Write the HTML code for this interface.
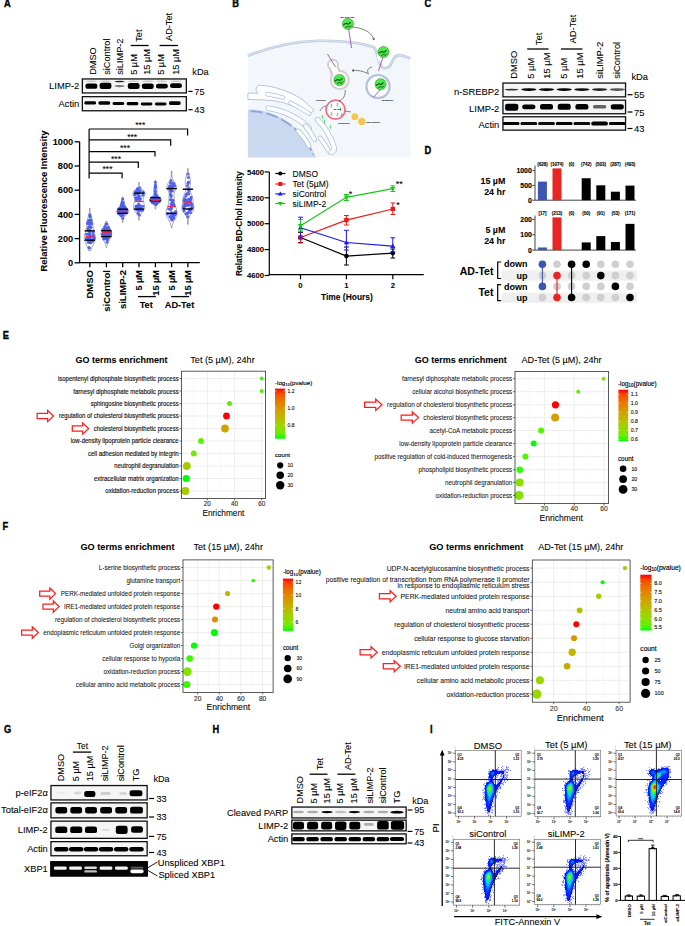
<!DOCTYPE html>
<html><head><meta charset="utf-8"><title>Figure</title>
<style>html,body{margin:0;padding:0;background:#fff;width:685px;height:926px;overflow:hidden}svg{display:block}text{font-family:"Liberation Sans",sans-serif}</style>
</head><body>
<svg width="685" height="926" viewBox="0 0 685 926" font-family='"Liberation Sans",sans-serif'><defs><filter id="bb" x="-50%" y="-80%" width="200%" height="260%"><feGaussianBlur stdDeviation="0.6"/></filter><filter id="b1" x="-50%" y="-80%" width="200%" height="260%"><feGaussianBlur stdDeviation="0.9"/></filter><filter id="b2" x="-50%" y="-80%" width="200%" height="260%"><feGaussianBlur stdDeviation="1.4"/></filter><filter id="b05" x="-50%" y="-80%" width="200%" height="260%"><feGaussianBlur stdDeviation="0.5"/></filter><filter id="b3" x="-50%" y="-50%" width="200%" height="200%"><feGaussianBlur stdDeviation="2.2"/></filter><clipPath id="cb1"><rect x="81.7" y="78.3" width="105.3" height="15.3"/></clipPath><clipPath id="cb2"><rect x="81.7" y="96" width="105.3" height="15.4"/></clipPath><clipPath id="cb3"><rect x="502.3" y="82.4" width="123.9" height="15.1"/></clipPath><clipPath id="cb4"><rect x="502.3" y="99.5" width="123.9" height="14.9"/></clipPath><clipPath id="cb5"><rect x="502.3" y="116.1" width="123.9" height="14.7"/></clipPath><linearGradient id="g1" x1="0" y1="0" x2="0" y2="1"><stop offset="0" stop-color="#ff0000"/><stop offset="0.1" stop-color="#f74a00"/><stop offset="0.2" stop-color="#ed6a00"/><stop offset="0.3" stop-color="#e38200"/><stop offset="0.4" stop-color="#d79800"/><stop offset="0.5" stop-color="#c9ab00"/><stop offset="0.6" stop-color="#b8bd00"/><stop offset="0.7" stop-color="#a4ce00"/><stop offset="0.8" stop-color="#8adf00"/><stop offset="0.9" stop-color="#65ef00"/><stop offset="1" stop-color="#00ff00"/></linearGradient><linearGradient id="g2" x1="0" y1="0" x2="0" y2="1"><stop offset="0" stop-color="#ff0000"/><stop offset="0.1" stop-color="#f74a00"/><stop offset="0.2" stop-color="#ed6a00"/><stop offset="0.3" stop-color="#e38200"/><stop offset="0.4" stop-color="#d79800"/><stop offset="0.5" stop-color="#c9ab00"/><stop offset="0.6" stop-color="#b8bd00"/><stop offset="0.7" stop-color="#a4ce00"/><stop offset="0.8" stop-color="#8adf00"/><stop offset="0.9" stop-color="#65ef00"/><stop offset="1" stop-color="#00ff00"/></linearGradient><linearGradient id="g3" x1="0" y1="0" x2="0" y2="1"><stop offset="0" stop-color="#ff0000"/><stop offset="0.1" stop-color="#f74a00"/><stop offset="0.2" stop-color="#ed6a00"/><stop offset="0.3" stop-color="#e38200"/><stop offset="0.4" stop-color="#d79800"/><stop offset="0.5" stop-color="#c9ab00"/><stop offset="0.6" stop-color="#b8bd00"/><stop offset="0.7" stop-color="#a4ce00"/><stop offset="0.8" stop-color="#8adf00"/><stop offset="0.9" stop-color="#65ef00"/><stop offset="1" stop-color="#00ff00"/></linearGradient><linearGradient id="g4" x1="0" y1="0" x2="0" y2="1"><stop offset="0" stop-color="#ff0000"/><stop offset="0.1" stop-color="#f74a00"/><stop offset="0.2" stop-color="#ed6a00"/><stop offset="0.3" stop-color="#e38200"/><stop offset="0.4" stop-color="#d79800"/><stop offset="0.5" stop-color="#c9ab00"/><stop offset="0.6" stop-color="#b8bd00"/><stop offset="0.7" stop-color="#a4ce00"/><stop offset="0.8" stop-color="#8adf00"/><stop offset="0.9" stop-color="#65ef00"/><stop offset="1" stop-color="#00ff00"/></linearGradient><clipPath id="cb6"><rect x="50.3" y="784.9" width="97.5" height="15.7"/></clipPath><clipPath id="cb7"><rect x="50.3" y="802.2" width="97.5" height="16.3"/></clipPath><clipPath id="cb8"><rect x="50.3" y="820.5" width="97.5" height="18.5"/></clipPath><clipPath id="cb9"><rect x="50.3" y="841" width="97.5" height="15.4"/></clipPath><clipPath id="cb10"><rect x="50.3" y="861.2" width="97.5" height="15.3"/></clipPath><clipPath id="cb11"><rect x="291.2" y="806.4" width="115.6" height="12.2"/></clipPath><clipPath id="cb12"><rect x="291.2" y="819.5" width="115.6" height="12"/></clipPath><clipPath id="cb13"><rect x="291.2" y="833.3" width="115.6" height="11.1"/></clipPath></defs><rect width="685" height="926" fill="#fff"/><text x="4.1" y="6.9" font-size="10.23" font-weight="bold" stroke="#000" stroke-width="0.35" textLength="6.72" lengthAdjust="spacingAndGlyphs">A</text>
<text x="232.2" y="7" font-size="10.23" font-weight="bold" stroke="#000" stroke-width="0.35" textLength="6.72" lengthAdjust="spacingAndGlyphs">B</text>
<text x="424.5" y="7.1" font-size="10.23" font-weight="bold" stroke="#000" stroke-width="0.35" textLength="6.72" lengthAdjust="spacingAndGlyphs">C</text>
<text x="424.6" y="154" font-size="10.23" font-weight="bold" stroke="#000" stroke-width="0.35" textLength="6.72" lengthAdjust="spacingAndGlyphs">D</text>
<text x="2.7" y="339.2" font-size="10.23" font-weight="bold" stroke="#000" stroke-width="0.35" textLength="6.2" lengthAdjust="spacingAndGlyphs">E</text>
<text x="2.6" y="529.9" font-size="10.23" font-weight="bold" stroke="#000" stroke-width="0.35" textLength="5.68" lengthAdjust="spacingAndGlyphs">F</text>
<text x="3.9" y="733.2" font-size="10.23" font-weight="bold" stroke="#000" stroke-width="0.35" textLength="7.23" lengthAdjust="spacingAndGlyphs">G</text>
<text x="212.5" y="732.9" font-size="10.23" font-weight="bold" stroke="#000" stroke-width="0.35" textLength="6.72" lengthAdjust="spacingAndGlyphs">H</text>
<text x="429.9" y="732.9" font-size="10.23" font-weight="bold" stroke="#000" stroke-width="0.35" textLength="2.58" lengthAdjust="spacingAndGlyphs">I</text>
<text transform="translate(96.29,74.8) rotate(-90)" font-size="9.2" stroke="#000" stroke-width="0.08">DMSO</text>
<text transform="translate(109.99,74.8) rotate(-90)" font-size="9.2" stroke="#000" stroke-width="0.08">siControl</text>
<text transform="translate(123.29,74.8) rotate(-90)" font-size="9.2" stroke="#000" stroke-width="0.08">siLIMP-2</text>
<text transform="translate(137.19,74.8) rotate(-90)" font-size="9.2" stroke="#000" stroke-width="0.08">5 µM</text>
<text transform="translate(150.29,74.8) rotate(-90)" font-size="9.2" stroke="#000" stroke-width="0.08">15 µM</text>
<text transform="translate(164.09,74.8) rotate(-90)" font-size="9.2" stroke="#000" stroke-width="0.08">5 µM</text>
<text transform="translate(178.79,74.8) rotate(-90)" font-size="9.2" stroke="#000" stroke-width="0.08">15 µM</text>
<line x1="130.7" y1="45.5" x2="148.6" y2="45.5" stroke="#000" stroke-width="1.3"/>
<line x1="159.6" y1="45.5" x2="178" y2="45.5" stroke="#000" stroke-width="1.3"/>
<text transform="translate(142.29,41.8) rotate(-90)" font-size="9.2" stroke="#000" stroke-width="0.08">Tet</text>
<text transform="translate(172.09,41) rotate(-90)" font-size="9.2" stroke="#000" stroke-width="0.08">AD-Tet</text>
<text x="192.3" y="74.79" font-size="9.2" stroke="#000" stroke-width="0.08">kDa</text>
<rect x="81.7" y="78.3" width="105.3" height="15.3" fill="#f5f5f5"/>
<g clip-path="url(#cb1)"><g filter="url(#bb)">
<rect x="85.5" y="83.4" width="11.8" height="5.4" rx="2.4" ry="1.9" fill="#000" fill-opacity="1"/>
<ellipse cx="91.4" cy="81.2" rx="5.6" ry="0.69" fill="#000" fill-opacity="0.18"/>
<rect x="99.6" y="82.8" width="11.8" height="6.2" rx="2.4" ry="1.9" fill="#000" fill-opacity="1"/>
<ellipse cx="105.5" cy="81.2" rx="5.6" ry="0.69" fill="#000" fill-opacity="0.18"/>
<ellipse cx="119.6" cy="86.1" rx="4.93" ry="1.15" fill="#000" fill-opacity="0.5"/>
<ellipse cx="119.6" cy="81.5" rx="4.93" ry="0.69" fill="#000" fill-opacity="0.85"/>
<rect x="127.8" y="83.1" width="11.8" height="5.8" rx="2.4" ry="1.9" fill="#000" fill-opacity="1"/>
<ellipse cx="133.7" cy="81.2" rx="5.6" ry="0.69" fill="#000" fill-opacity="0.18"/>
<rect x="141.9" y="83.4" width="11.8" height="5.6" rx="2.4" ry="1.9" fill="#000" fill-opacity="1"/>
<ellipse cx="147.8" cy="81.2" rx="5.6" ry="0.69" fill="#000" fill-opacity="0.18"/>
<rect x="156" y="83.7" width="11.8" height="4.8" rx="2.4" ry="1.82" fill="#000" fill-opacity="1"/>
<ellipse cx="161.9" cy="81.2" rx="5.6" ry="0.69" fill="#000" fill-opacity="0.18"/>
<rect x="170.1" y="83.2" width="11.8" height="4.8" rx="2.4" ry="1.82" fill="#000" fill-opacity="1"/>
<ellipse cx="176" cy="81.2" rx="5.6" ry="0.69" fill="#000" fill-opacity="0.18"/>
</g></g>
<rect x="82.35" y="78.95" width="104" height="14" fill="none" stroke="#111" stroke-width="1.3"/>
<rect x="81.7" y="96" width="105.3" height="15.4" fill="#f5f5f5"/>
<g clip-path="url(#cb2)"><g filter="url(#bb)">
<rect x="84.4" y="101.35" width="11.6" height="3.1" rx="1.62" ry="1.18" fill="#000" fill-opacity="1"/>
<rect x="98.5" y="101.35" width="11.6" height="3.3" rx="1.72" ry="1.25" fill="#000" fill-opacity="1"/>
<rect x="112.6" y="101.95" width="11.6" height="3.1" rx="1.62" ry="1.18" fill="#000" fill-opacity="1"/>
<rect x="126.7" y="102.05" width="11.6" height="3.1" rx="1.62" ry="1.18" fill="#000" fill-opacity="1"/>
<rect x="140.8" y="102.55" width="11.6" height="2.9" rx="1.52" ry="1.1" fill="#000" fill-opacity="1"/>
<rect x="154.9" y="102.55" width="11.6" height="2.9" rx="1.52" ry="1.1" fill="#000" fill-opacity="1"/>
<rect x="169" y="101.3" width="11.6" height="3.8" rx="1.99" ry="1.44" fill="#000" fill-opacity="1"/>
</g></g>
<rect x="82.35" y="96.65" width="104" height="14.1" fill="none" stroke="#111" stroke-width="1.3"/>
<text x="79.3" y="89.37" font-size="9.4" text-anchor="end" stroke="#000" stroke-width="0.08">LIMP-2</text>
<text x="79.3" y="107.17" font-size="9.4" text-anchor="end" stroke="#000" stroke-width="0.08">Actin</text>
<line x1="188.4" y1="91.4" x2="192.6" y2="91.4" stroke="#000" stroke-width="1.2"/>
<text x="194.3" y="94.89" font-size="9.2" stroke="#000" stroke-width="0.08">75</text>
<line x1="188.4" y1="109.7" x2="192.6" y2="109.7" stroke="#000" stroke-width="1.2"/>
<text x="194.3" y="113.19" font-size="9.2" stroke="#000" stroke-width="0.08">43</text>
<line x1="79.6" y1="141.8" x2="79.6" y2="262.8" stroke="#000" stroke-width="1.3"/>
<line x1="79.2" y1="262.6" x2="199.8" y2="262.6" stroke="#000" stroke-width="1.3"/>
<line x1="74.6" y1="262.8" x2="79.6" y2="262.8" stroke="#000" stroke-width="1.3"/>
<text x="73.2" y="266.09" font-size="9.2" font-weight="bold" text-anchor="end" stroke="#000" stroke-width="0.06">0</text>
<line x1="74.6" y1="238.6" x2="79.6" y2="238.6" stroke="#000" stroke-width="1.3"/>
<text x="73.2" y="241.89" font-size="9.2" font-weight="bold" text-anchor="end" stroke="#000" stroke-width="0.06">200</text>
<line x1="74.6" y1="214.4" x2="79.6" y2="214.4" stroke="#000" stroke-width="1.3"/>
<text x="73.2" y="217.69" font-size="9.2" font-weight="bold" text-anchor="end" stroke="#000" stroke-width="0.06">400</text>
<line x1="74.6" y1="190.2" x2="79.6" y2="190.2" stroke="#000" stroke-width="1.3"/>
<text x="73.2" y="193.49" font-size="9.2" font-weight="bold" text-anchor="end" stroke="#000" stroke-width="0.06">600</text>
<line x1="74.6" y1="166" x2="79.6" y2="166" stroke="#000" stroke-width="1.3"/>
<text x="73.2" y="169.29" font-size="9.2" font-weight="bold" text-anchor="end" stroke="#000" stroke-width="0.06">800</text>
<line x1="74.6" y1="141.8" x2="79.6" y2="141.8" stroke="#000" stroke-width="1.3"/>
<text x="73.2" y="145.09" font-size="9.2" font-weight="bold" text-anchor="end" stroke="#000" stroke-width="0.06">1000</text>
<text transform="translate(47.28,271.5) rotate(-90)" font-size="9.45" font-weight="bold" stroke="#000" stroke-width="0.06">Relative Fluorescence Intensity</text>
<line x1="89.8" y1="262.6" x2="89.8" y2="267.2" stroke="#000" stroke-width="1.3"/>
<line x1="106.4" y1="262.6" x2="106.4" y2="267.2" stroke="#000" stroke-width="1.3"/>
<line x1="122.7" y1="262.6" x2="122.7" y2="267.2" stroke="#000" stroke-width="1.3"/>
<line x1="139" y1="262.6" x2="139" y2="267.2" stroke="#000" stroke-width="1.3"/>
<line x1="155.4" y1="262.6" x2="155.4" y2="267.2" stroke="#000" stroke-width="1.3"/>
<line x1="171.6" y1="262.6" x2="171.6" y2="267.2" stroke="#000" stroke-width="1.3"/>
<line x1="187.9" y1="262.6" x2="187.9" y2="267.2" stroke="#000" stroke-width="1.3"/>
<line x1="89.1" y1="129" x2="89.1" y2="178.6" stroke="#000" stroke-width="1.2"/>
<polyline points="89.1,173.1 122.1,173.1 122.1,178.3" fill="none" stroke="#000" stroke-width="1.2"/>
<text x="107.5" y="171.9" font-size="8.6" text-anchor="middle" stroke="#000" stroke-width="0.08">***</text>
<polyline points="89.1,162.1 138.3,162.1 138.3,167.9" fill="none" stroke="#000" stroke-width="1.2"/>
<text x="116" y="162.1" font-size="8.6" text-anchor="middle" stroke="#000" stroke-width="0.08">***</text>
<polyline points="89.1,151.6 155,151.6 155,156.5" fill="none" stroke="#000" stroke-width="1.2"/>
<text x="125" y="151.1" font-size="8.6" text-anchor="middle" stroke="#000" stroke-width="0.08">***</text>
<polyline points="89.1,139.9 170.7,139.9 170.7,145.7" fill="none" stroke="#000" stroke-width="1.2"/>
<text x="132.2" y="139.5" font-size="8.6" text-anchor="middle" stroke="#000" stroke-width="0.08">***</text>
<polyline points="89.1,129 187.6,129 187.6,135.6" fill="none" stroke="#000" stroke-width="1.2"/>
<text x="140.3" y="128.4" font-size="8.6" text-anchor="middle" stroke="#000" stroke-width="0.08">***</text>
<polygon points="90.15,208.2 90.15,208.91 90.15,209.61 90.15,210.32 90.15,211.03 90.15,211.73 90.23,212.44 90.35,213.15 90.5,213.85 90.68,214.56 90.88,215.27 91.1,215.97 91.33,216.68 91.57,217.39 91.81,218.09 92.05,218.8 92.27,219.51 92.46,220.21 92.63,220.92 92.76,221.63 92.85,222.33 92.92,223.04 92.95,223.75 92.97,224.45 92.97,225.16 92.97,225.87 92.99,226.57 93.02,227.28 93.08,227.99 93.18,228.69 93.3,229.4 93.46,230.11 93.66,230.81 93.87,231.52 94.11,232.23 94.35,232.93 94.59,233.64 94.81,234.35 95.01,235.05 95.18,235.76 95.31,236.47 95.39,237.17 95.42,237.88 95.39,238.59 95.31,239.29 95.18,240 95,240.71 94.77,241.41 94.51,242.12 94.22,242.83 93.9,243.53 93.56,244.24 93.22,244.95 92.88,245.65 92.54,246.36 92.22,247.07 91.91,247.77 91.63,248.48 91.36,249.19 91.12,249.89 90.91,250.6 88.69,250.6 88.48,249.89 88.24,249.19 87.97,248.48 87.69,247.77 87.38,247.07 87.06,246.36 86.72,245.65 86.38,244.95 86.04,244.24 85.7,243.53 85.38,242.83 85.09,242.12 84.83,241.41 84.6,240.71 84.42,240 84.29,239.29 84.21,238.59 84.18,237.88 84.21,237.17 84.29,236.47 84.42,235.76 84.59,235.05 84.79,234.35 85.01,233.64 85.25,232.93 85.49,232.23 85.73,231.52 85.94,230.81 86.14,230.11 86.3,229.4 86.42,228.69 86.52,227.99 86.58,227.28 86.61,226.57 86.63,225.87 86.63,225.16 86.63,224.45 86.65,223.75 86.68,223.04 86.75,222.33 86.84,221.63 86.97,220.92 87.14,220.21 87.33,219.51 87.55,218.8 87.79,218.09 88.03,217.39 88.27,216.68 88.5,215.97 88.72,215.27 88.92,214.56 89.1,213.85 89.25,213.15 89.37,212.44 89.45,211.73 89.45,211.03 89.45,210.32 89.45,209.61 89.45,208.91 89.45,208.2" fill="#fff" stroke="#555" stroke-width="0.5"/>
<circle cx="90.39" cy="222.46" r="1.5" fill="#4c5ef2" fill-opacity="0.92"/>
<circle cx="89.83" cy="224.11" r="1.5" fill="#4c5ef2" fill-opacity="0.92"/>
<circle cx="92.92" cy="232.44" r="1.5" fill="#4c5ef2" fill-opacity="0.92"/>
<circle cx="88.45" cy="221.11" r="1.5" fill="#4c5ef2" fill-opacity="0.92"/>
<circle cx="90.19" cy="234.87" r="1.5" fill="#4c5ef2" fill-opacity="0.92"/>
<circle cx="90.16" cy="226.55" r="1.5" fill="#4c5ef2" fill-opacity="0.92"/>
<circle cx="91.06" cy="227.56" r="1.5" fill="#4c5ef2" fill-opacity="0.92"/>
<circle cx="90.47" cy="237.24" r="1.5" fill="#4c5ef2" fill-opacity="0.92"/>
<circle cx="94.12" cy="238.44" r="1.5" fill="#4c5ef2" fill-opacity="0.92"/>
<circle cx="89.7" cy="239.53" r="1.5" fill="#4c5ef2" fill-opacity="0.92"/>
<circle cx="93.04" cy="239.82" r="1.5" fill="#4c5ef2" fill-opacity="0.92"/>
<circle cx="89.49" cy="233.12" r="1.5" fill="#4c5ef2" fill-opacity="0.92"/>
<circle cx="88.97" cy="242.08" r="1.5" fill="#4c5ef2" fill-opacity="0.92"/>
<circle cx="89.47" cy="236.04" r="1.5" fill="#4c5ef2" fill-opacity="0.92"/>
<circle cx="89.05" cy="247.43" r="1.5" fill="#4c5ef2" fill-opacity="0.92"/>
<circle cx="89.55" cy="220.05" r="1.5" fill="#4c5ef2" fill-opacity="0.92"/>
<circle cx="93.31" cy="236.34" r="1.5" fill="#4c5ef2" fill-opacity="0.92"/>
<circle cx="92.29" cy="240.43" r="1.5" fill="#4c5ef2" fill-opacity="0.92"/>
<circle cx="87.78" cy="223.1" r="1.5" fill="#4c5ef2" fill-opacity="0.92"/>
<circle cx="91.34" cy="224.03" r="1.5" fill="#4c5ef2" fill-opacity="0.92"/>
<circle cx="87.93" cy="233.89" r="1.5" fill="#4c5ef2" fill-opacity="0.92"/>
<circle cx="87.98" cy="228.76" r="1.5" fill="#4c5ef2" fill-opacity="0.92"/>
<circle cx="91.13" cy="223.2" r="1.5" fill="#4c5ef2" fill-opacity="0.92"/>
<circle cx="90" cy="216.06" r="1.5" fill="#4c5ef2" fill-opacity="0.92"/>
<circle cx="90.03" cy="230.51" r="1.5" fill="#4c5ef2" fill-opacity="0.92"/>
<circle cx="88.6" cy="237.13" r="1.5" fill="#4c5ef2" fill-opacity="0.92"/>
<circle cx="91.04" cy="222.69" r="1.5" fill="#4c5ef2" fill-opacity="0.92"/>
<circle cx="89.96" cy="238.85" r="1.5" fill="#4c5ef2" fill-opacity="0.92"/>
<circle cx="87.87" cy="223.71" r="1.5" fill="#4c5ef2" fill-opacity="0.92"/>
<circle cx="90.45" cy="220.71" r="1.5" fill="#4c5ef2" fill-opacity="0.92"/>
<circle cx="90.82" cy="242.81" r="1.5" fill="#4c5ef2" fill-opacity="0.92"/>
<circle cx="91.07" cy="241.21" r="1.5" fill="#4c5ef2" fill-opacity="0.92"/>
<circle cx="86.96" cy="239.26" r="1.5" fill="#4c5ef2" fill-opacity="0.92"/>
<circle cx="92.25" cy="240.79" r="1.5" fill="#4c5ef2" fill-opacity="0.92"/>
<circle cx="86.44" cy="238.26" r="1.5" fill="#4c5ef2" fill-opacity="0.92"/>
<circle cx="92.32" cy="241.48" r="1.5" fill="#4c5ef2" fill-opacity="0.92"/>
<circle cx="89.8" cy="214.86" r="1.5" fill="#4c5ef2" fill-opacity="0.92"/>
<circle cx="93.42" cy="235.3" r="1.5" fill="#4c5ef2" fill-opacity="0.92"/>
<circle cx="88.03" cy="242.25" r="1.5" fill="#4c5ef2" fill-opacity="0.92"/>
<circle cx="90.11" cy="221.24" r="1.5" fill="#4c5ef2" fill-opacity="0.92"/>
<circle cx="89.49" cy="230.33" r="1.5" fill="#4c5ef2" fill-opacity="0.92"/>
<circle cx="90.11" cy="216.91" r="1.5" fill="#4c5ef2" fill-opacity="0.92"/>
<circle cx="88.23" cy="238.27" r="1.5" fill="#4c5ef2" fill-opacity="0.92"/>
<circle cx="90.3" cy="240.6" r="1.5" fill="#4c5ef2" fill-opacity="0.92"/>
<circle cx="90.32" cy="240.13" r="1.5" fill="#4c5ef2" fill-opacity="0.92"/>
<circle cx="89.31" cy="239.64" r="1.5" fill="#4c5ef2" fill-opacity="0.92"/>
<circle cx="89.89" cy="233.83" r="1.5" fill="#4c5ef2" fill-opacity="0.92"/>
<circle cx="90.1" cy="236.99" r="1.5" fill="#4c5ef2" fill-opacity="0.92"/>
<circle cx="93.77" cy="237.25" r="1.5" fill="#4c5ef2" fill-opacity="0.92"/>
<circle cx="88.7" cy="227.12" r="1.5" fill="#4c5ef2" fill-opacity="0.92"/>
<circle cx="93.07" cy="235.71" r="1.5" fill="#4c5ef2" fill-opacity="0.92"/>
<circle cx="89.33" cy="242.5" r="1.5" fill="#4c5ef2" fill-opacity="0.92"/>
<circle cx="88.25" cy="230.01" r="1.5" fill="#4c5ef2" fill-opacity="0.92"/>
<circle cx="89.09" cy="227.05" r="1.5" fill="#4c5ef2" fill-opacity="0.92"/>
<circle cx="86.41" cy="234.28" r="1.5" fill="#4c5ef2" fill-opacity="0.92"/>
<circle cx="89.37" cy="247.98" r="1.5" fill="#4c5ef2" fill-opacity="0.92"/>
<circle cx="89.55" cy="220.36" r="1.5" fill="#4c5ef2" fill-opacity="0.92"/>
<circle cx="91.04" cy="219.89" r="1.5" fill="#4c5ef2" fill-opacity="0.92"/>
<line x1="84.6" y1="230.9" x2="95" y2="230.9" stroke="#000" stroke-width="1.4"/>
<line x1="84.6" y1="240.2" x2="95" y2="240.2" stroke="#000" stroke-width="1.4"/>
<line x1="85.6" y1="236.6" x2="94" y2="236.6" stroke="#e8285a" stroke-width="1.4"/>
<polygon points="107.12,221.5 107.23,221.93 107.35,222.37 107.48,222.8 107.63,223.23 107.78,223.67 107.95,224.1 108.14,224.53 108.33,224.97 108.53,225.4 108.74,225.83 108.96,226.27 109.19,226.7 109.42,227.13 109.65,227.57 109.88,228 110.11,228.43 110.33,228.87 110.55,229.3 110.75,229.73 110.94,230.17 111.12,230.6 111.27,231.03 111.4,231.47 111.51,231.9 111.6,232.33 111.66,232.77 111.69,233.2 111.7,233.63 111.68,234.07 111.63,234.5 111.55,234.93 111.45,235.37 111.32,235.8 111.18,236.23 111.01,236.67 110.83,237.1 110.63,237.53 110.42,237.97 110.2,238.4 109.97,238.83 109.74,239.27 109.51,239.7 109.28,240.13 109.05,240.57 108.83,241 108.61,241.43 108.4,241.87 108.21,242.3 108.02,242.73 107.85,243.17 107.69,243.6 107.54,244.03 107.4,244.47 107.27,244.9 107.16,245.33 107.06,245.77 106.96,246.2 106.88,246.63 106.81,247.07 106.75,247.5 106.05,247.5 105.99,247.07 105.92,246.63 105.84,246.2 105.74,245.77 105.64,245.33 105.53,244.9 105.4,244.47 105.26,244.03 105.11,243.6 104.95,243.17 104.78,242.73 104.59,242.3 104.4,241.87 104.19,241.43 103.97,241 103.75,240.57 103.52,240.13 103.29,239.7 103.06,239.27 102.83,238.83 102.6,238.4 102.38,237.97 102.17,237.53 101.97,237.1 101.79,236.67 101.62,236.23 101.48,235.8 101.35,235.37 101.25,234.93 101.17,234.5 101.12,234.07 101.1,233.63 101.11,233.2 101.14,232.77 101.2,232.33 101.29,231.9 101.4,231.47 101.53,231.03 101.68,230.6 101.86,230.17 102.05,229.73 102.25,229.3 102.47,228.87 102.69,228.43 102.92,228 103.15,227.57 103.38,227.13 103.61,226.7 103.84,226.27 104.06,225.83 104.27,225.4 104.47,224.97 104.66,224.53 104.85,224.1 105.02,223.67 105.17,223.23 105.32,222.8 105.45,222.37 105.57,221.93 105.68,221.5" fill="#fff" stroke="#555" stroke-width="0.5"/>
<circle cx="103.35" cy="236.12" r="1.5" fill="#4c5ef2" fill-opacity="0.92"/>
<circle cx="110.05" cy="232.78" r="1.5" fill="#4c5ef2" fill-opacity="0.92"/>
<circle cx="106.85" cy="233.44" r="1.5" fill="#4c5ef2" fill-opacity="0.92"/>
<circle cx="104.61" cy="228.48" r="1.5" fill="#4c5ef2" fill-opacity="0.92"/>
<circle cx="108.19" cy="230.18" r="1.5" fill="#4c5ef2" fill-opacity="0.92"/>
<circle cx="104.32" cy="229.67" r="1.5" fill="#4c5ef2" fill-opacity="0.92"/>
<circle cx="104.53" cy="230.98" r="1.5" fill="#4c5ef2" fill-opacity="0.92"/>
<circle cx="106.2" cy="235.67" r="1.5" fill="#4c5ef2" fill-opacity="0.92"/>
<circle cx="105.51" cy="234.39" r="1.5" fill="#4c5ef2" fill-opacity="0.92"/>
<circle cx="110.36" cy="234.65" r="1.5" fill="#4c5ef2" fill-opacity="0.92"/>
<circle cx="107.94" cy="230.88" r="1.5" fill="#4c5ef2" fill-opacity="0.92"/>
<circle cx="105.46" cy="237.63" r="1.5" fill="#4c5ef2" fill-opacity="0.92"/>
<circle cx="104.04" cy="228.88" r="1.5" fill="#4c5ef2" fill-opacity="0.92"/>
<circle cx="105.02" cy="238.42" r="1.5" fill="#4c5ef2" fill-opacity="0.92"/>
<circle cx="104.17" cy="229.74" r="1.5" fill="#4c5ef2" fill-opacity="0.92"/>
<circle cx="110.27" cy="233.25" r="1.5" fill="#4c5ef2" fill-opacity="0.92"/>
<circle cx="102.99" cy="230.12" r="1.5" fill="#4c5ef2" fill-opacity="0.92"/>
<circle cx="106.42" cy="231.78" r="1.5" fill="#4c5ef2" fill-opacity="0.92"/>
<circle cx="106.24" cy="223.96" r="1.5" fill="#4c5ef2" fill-opacity="0.92"/>
<circle cx="107.66" cy="235.17" r="1.5" fill="#4c5ef2" fill-opacity="0.92"/>
<circle cx="110.3" cy="231.96" r="1.5" fill="#4c5ef2" fill-opacity="0.92"/>
<circle cx="108.41" cy="237.79" r="1.5" fill="#4c5ef2" fill-opacity="0.92"/>
<circle cx="108.91" cy="234.6" r="1.5" fill="#4c5ef2" fill-opacity="0.92"/>
<circle cx="104.14" cy="238.95" r="1.5" fill="#4c5ef2" fill-opacity="0.92"/>
<circle cx="107.36" cy="235.85" r="1.5" fill="#4c5ef2" fill-opacity="0.92"/>
<circle cx="103.85" cy="238.66" r="1.5" fill="#4c5ef2" fill-opacity="0.92"/>
<circle cx="107.71" cy="234.57" r="1.5" fill="#4c5ef2" fill-opacity="0.92"/>
<circle cx="105.09" cy="228.8" r="1.5" fill="#4c5ef2" fill-opacity="0.92"/>
<circle cx="107.34" cy="239.77" r="1.5" fill="#4c5ef2" fill-opacity="0.92"/>
<circle cx="107.87" cy="231.8" r="1.5" fill="#4c5ef2" fill-opacity="0.92"/>
<circle cx="104.28" cy="237.78" r="1.5" fill="#4c5ef2" fill-opacity="0.92"/>
<circle cx="103.11" cy="230" r="1.5" fill="#4c5ef2" fill-opacity="0.92"/>
<circle cx="106.49" cy="238.54" r="1.5" fill="#4c5ef2" fill-opacity="0.92"/>
<circle cx="103.2" cy="233.69" r="1.5" fill="#4c5ef2" fill-opacity="0.92"/>
<circle cx="103.96" cy="233.34" r="1.5" fill="#4c5ef2" fill-opacity="0.92"/>
<circle cx="106.57" cy="236.37" r="1.5" fill="#4c5ef2" fill-opacity="0.92"/>
<circle cx="102.26" cy="234.18" r="1.5" fill="#4c5ef2" fill-opacity="0.92"/>
<circle cx="104.76" cy="234.31" r="1.5" fill="#4c5ef2" fill-opacity="0.92"/>
<circle cx="107" cy="242.3" r="1.5" fill="#4c5ef2" fill-opacity="0.92"/>
<circle cx="105.71" cy="229.67" r="1.5" fill="#4c5ef2" fill-opacity="0.92"/>
<circle cx="104.67" cy="231.3" r="1.5" fill="#4c5ef2" fill-opacity="0.92"/>
<circle cx="106.71" cy="224.11" r="1.5" fill="#4c5ef2" fill-opacity="0.92"/>
<circle cx="106.46" cy="228.73" r="1.5" fill="#4c5ef2" fill-opacity="0.92"/>
<circle cx="108.26" cy="227.37" r="1.5" fill="#4c5ef2" fill-opacity="0.92"/>
<circle cx="107.37" cy="239.55" r="1.5" fill="#4c5ef2" fill-opacity="0.92"/>
<circle cx="107.61" cy="233.37" r="1.5" fill="#4c5ef2" fill-opacity="0.92"/>
<circle cx="109.12" cy="229.58" r="1.5" fill="#4c5ef2" fill-opacity="0.92"/>
<circle cx="108.18" cy="230.9" r="1.5" fill="#4c5ef2" fill-opacity="0.92"/>
<circle cx="106.73" cy="238.09" r="1.5" fill="#4c5ef2" fill-opacity="0.92"/>
<circle cx="103.66" cy="232.07" r="1.5" fill="#4c5ef2" fill-opacity="0.92"/>
<circle cx="109.76" cy="234.43" r="1.5" fill="#4c5ef2" fill-opacity="0.92"/>
<circle cx="105.23" cy="226.21" r="1.5" fill="#4c5ef2" fill-opacity="0.92"/>
<circle cx="104.46" cy="230.86" r="1.5" fill="#4c5ef2" fill-opacity="0.92"/>
<circle cx="108.62" cy="228.94" r="1.5" fill="#4c5ef2" fill-opacity="0.92"/>
<circle cx="105.38" cy="232.52" r="1.5" fill="#4c5ef2" fill-opacity="0.92"/>
<circle cx="104.76" cy="230.78" r="1.5" fill="#4c5ef2" fill-opacity="0.92"/>
<circle cx="109.39" cy="234.58" r="1.5" fill="#4c5ef2" fill-opacity="0.92"/>
<circle cx="105.21" cy="227.97" r="1.5" fill="#4c5ef2" fill-opacity="0.92"/>
<line x1="101.2" y1="230.7" x2="111.6" y2="230.7" stroke="#000" stroke-width="1.4"/>
<line x1="101.2" y1="236.6" x2="111.6" y2="236.6" stroke="#000" stroke-width="1.4"/>
<line x1="102.2" y1="232.4" x2="110.6" y2="232.4" stroke="#e8285a" stroke-width="1.4"/>
<polygon points="123.09,197 123.17,197.43 123.25,197.85 123.35,198.28 123.45,198.7 123.56,199.12 123.67,199.55 123.79,199.97 123.91,200.4 124.03,200.82 124.15,201.25 124.26,201.68 124.37,202.1 124.47,202.53 124.57,202.95 124.66,203.38 124.75,203.8 124.85,204.22 124.95,204.65 125.07,205.07 125.21,205.5 125.38,205.93 125.57,206.35 125.81,206.78 126.07,207.2 126.37,207.62 126.7,208.05 127.04,208.47 127.4,208.9 127.74,209.32 128.06,209.75 128.35,210.18 128.57,210.6 128.7,211.03 128.7,211.45 128.7,211.88 128.64,212.3 128.43,212.72 128.14,213.15 127.78,213.57 127.36,214 126.9,214.43 126.43,214.85 125.95,215.28 125.48,215.7 125.05,216.12 124.64,216.55 124.28,216.97 123.96,217.4 123.69,217.82 123.46,218.25 123.28,218.68 123.13,219.1 123.05,219.53 123.05,219.95 123.05,220.38 123.05,220.8 123.05,221.22 123.05,221.65 123.05,222.07 123.05,222.5 122.35,222.5 122.35,222.07 122.35,221.65 122.35,221.22 122.35,220.8 122.35,220.38 122.35,219.95 122.35,219.53 122.27,219.1 122.12,218.68 121.94,218.25 121.71,217.82 121.44,217.4 121.12,216.97 120.76,216.55 120.35,216.12 119.92,215.7 119.45,215.28 118.97,214.85 118.5,214.43 118.04,214 117.62,213.57 117.26,213.15 116.97,212.72 116.76,212.3 116.7,211.88 116.7,211.45 116.7,211.03 116.83,210.6 117.05,210.18 117.34,209.75 117.66,209.32 118,208.9 118.36,208.47 118.7,208.05 119.03,207.62 119.33,207.2 119.59,206.78 119.83,206.35 120.02,205.93 120.19,205.5 120.33,205.07 120.45,204.65 120.55,204.22 120.65,203.8 120.74,203.38 120.83,202.95 120.93,202.53 121.03,202.1 121.14,201.68 121.25,201.25 121.37,200.82 121.49,200.4 121.61,199.97 121.73,199.55 121.84,199.12 121.95,198.7 122.05,198.28 122.15,197.85 122.23,197.43 122.31,197" fill="#fff" stroke="#555" stroke-width="0.5"/>
<circle cx="122.7" cy="218.14" r="1.5" fill="#4c5ef2" fill-opacity="0.92"/>
<circle cx="118.9" cy="209.15" r="1.5" fill="#4c5ef2" fill-opacity="0.92"/>
<circle cx="126.75" cy="210.25" r="1.5" fill="#4c5ef2" fill-opacity="0.92"/>
<circle cx="125.46" cy="210.91" r="1.5" fill="#4c5ef2" fill-opacity="0.92"/>
<circle cx="119.4" cy="213.02" r="1.5" fill="#4c5ef2" fill-opacity="0.92"/>
<circle cx="119.84" cy="214.22" r="1.5" fill="#4c5ef2" fill-opacity="0.92"/>
<circle cx="121.67" cy="210.3" r="1.5" fill="#4c5ef2" fill-opacity="0.92"/>
<circle cx="120.76" cy="209.19" r="1.5" fill="#4c5ef2" fill-opacity="0.92"/>
<circle cx="122.7" cy="205.42" r="1.5" fill="#4c5ef2" fill-opacity="0.92"/>
<circle cx="120.82" cy="213.68" r="1.5" fill="#4c5ef2" fill-opacity="0.92"/>
<circle cx="122.41" cy="203.6" r="1.5" fill="#4c5ef2" fill-opacity="0.92"/>
<circle cx="124.95" cy="207.35" r="1.5" fill="#4c5ef2" fill-opacity="0.92"/>
<circle cx="122.29" cy="201.69" r="1.5" fill="#4c5ef2" fill-opacity="0.92"/>
<circle cx="124.07" cy="205.91" r="1.5" fill="#4c5ef2" fill-opacity="0.92"/>
<circle cx="123.4" cy="215.29" r="1.5" fill="#4c5ef2" fill-opacity="0.92"/>
<circle cx="121.11" cy="205.96" r="1.5" fill="#4c5ef2" fill-opacity="0.92"/>
<circle cx="121.18" cy="215.75" r="1.5" fill="#4c5ef2" fill-opacity="0.92"/>
<circle cx="124.78" cy="212.38" r="1.5" fill="#4c5ef2" fill-opacity="0.92"/>
<circle cx="122.38" cy="207.2" r="1.5" fill="#4c5ef2" fill-opacity="0.92"/>
<circle cx="120.99" cy="215.44" r="1.5" fill="#4c5ef2" fill-opacity="0.92"/>
<circle cx="121.81" cy="204.46" r="1.5" fill="#4c5ef2" fill-opacity="0.92"/>
<circle cx="122.25" cy="209.72" r="1.5" fill="#4c5ef2" fill-opacity="0.92"/>
<circle cx="125.07" cy="212.46" r="1.5" fill="#4c5ef2" fill-opacity="0.92"/>
<circle cx="121.9" cy="205.11" r="1.5" fill="#4c5ef2" fill-opacity="0.92"/>
<circle cx="119.93" cy="211.91" r="1.5" fill="#4c5ef2" fill-opacity="0.92"/>
<circle cx="121.51" cy="206.8" r="1.5" fill="#4c5ef2" fill-opacity="0.92"/>
<circle cx="118.47" cy="213.16" r="1.5" fill="#4c5ef2" fill-opacity="0.92"/>
<circle cx="118.83" cy="210.83" r="1.5" fill="#4c5ef2" fill-opacity="0.92"/>
<circle cx="119.65" cy="212.88" r="1.5" fill="#4c5ef2" fill-opacity="0.92"/>
<circle cx="121.22" cy="214.15" r="1.5" fill="#4c5ef2" fill-opacity="0.92"/>
<circle cx="123.59" cy="206.69" r="1.5" fill="#4c5ef2" fill-opacity="0.92"/>
<circle cx="123.34" cy="203.08" r="1.5" fill="#4c5ef2" fill-opacity="0.92"/>
<circle cx="119.23" cy="208.87" r="1.5" fill="#4c5ef2" fill-opacity="0.92"/>
<circle cx="126.7" cy="210.91" r="1.5" fill="#4c5ef2" fill-opacity="0.92"/>
<circle cx="126.09" cy="209.36" r="1.5" fill="#4c5ef2" fill-opacity="0.92"/>
<circle cx="119.46" cy="212.46" r="1.5" fill="#4c5ef2" fill-opacity="0.92"/>
<circle cx="119.28" cy="210.15" r="1.5" fill="#4c5ef2" fill-opacity="0.92"/>
<circle cx="118.17" cy="211.15" r="1.5" fill="#4c5ef2" fill-opacity="0.92"/>
<circle cx="123.95" cy="211.99" r="1.5" fill="#4c5ef2" fill-opacity="0.92"/>
<circle cx="124.26" cy="211.61" r="1.5" fill="#4c5ef2" fill-opacity="0.92"/>
<circle cx="119.55" cy="208.55" r="1.5" fill="#4c5ef2" fill-opacity="0.92"/>
<circle cx="120.17" cy="212.43" r="1.5" fill="#4c5ef2" fill-opacity="0.92"/>
<circle cx="122.51" cy="208.81" r="1.5" fill="#4c5ef2" fill-opacity="0.92"/>
<circle cx="122.35" cy="208.19" r="1.5" fill="#4c5ef2" fill-opacity="0.92"/>
<circle cx="123.91" cy="209.98" r="1.5" fill="#4c5ef2" fill-opacity="0.92"/>
<circle cx="121.76" cy="205.68" r="1.5" fill="#4c5ef2" fill-opacity="0.92"/>
<circle cx="126.11" cy="212.82" r="1.5" fill="#4c5ef2" fill-opacity="0.92"/>
<circle cx="126.45" cy="210.99" r="1.5" fill="#4c5ef2" fill-opacity="0.92"/>
<circle cx="125.48" cy="212.67" r="1.5" fill="#4c5ef2" fill-opacity="0.92"/>
<circle cx="125.29" cy="211.49" r="1.5" fill="#4c5ef2" fill-opacity="0.92"/>
<circle cx="124.27" cy="208.45" r="1.5" fill="#4c5ef2" fill-opacity="0.92"/>
<circle cx="118.61" cy="213.43" r="1.5" fill="#4c5ef2" fill-opacity="0.92"/>
<circle cx="122.82" cy="212.36" r="1.5" fill="#4c5ef2" fill-opacity="0.92"/>
<circle cx="122.7" cy="199" r="1.5" fill="#4c5ef2" fill-opacity="0.92"/>
<circle cx="123.91" cy="211.75" r="1.5" fill="#4c5ef2" fill-opacity="0.92"/>
<circle cx="126.04" cy="209.19" r="1.5" fill="#4c5ef2" fill-opacity="0.92"/>
<circle cx="121.9" cy="203.98" r="1.5" fill="#4c5ef2" fill-opacity="0.92"/>
<circle cx="125.27" cy="212.86" r="1.5" fill="#4c5ef2" fill-opacity="0.92"/>
<line x1="117.5" y1="209.2" x2="127.9" y2="209.2" stroke="#000" stroke-width="1.4"/>
<line x1="117.5" y1="213.3" x2="127.9" y2="213.3" stroke="#000" stroke-width="1.4"/>
<line x1="118.5" y1="211.4" x2="126.9" y2="211.4" stroke="#e8285a" stroke-width="1.4"/>
<polygon points="139.35,182.4 139.35,183.03 139.35,183.66 139.35,184.29 139.38,184.92 139.57,185.55 139.83,186.18 140.16,186.81 140.57,187.44 141.06,188.07 141.62,188.7 142.23,189.33 142.85,189.96 143.46,190.59 144.01,191.22 144.46,191.85 144.79,192.48 144.97,193.11 145,193.74 144.92,194.37 144.72,195 144.45,195.63 144.16,196.26 143.87,196.89 143.62,197.52 143.42,198.15 143.3,198.78 143.25,199.41 143.26,200.04 143.32,200.67 143.43,201.3 143.57,201.93 143.73,202.56 143.9,203.19 144.07,203.82 144.22,204.45 144.36,205.08 144.47,205.71 144.54,206.34 144.55,206.97 144.5,207.6 144.38,208.23 144.19,208.86 143.93,209.49 143.61,210.12 143.24,210.75 142.83,211.38 142.4,212.01 141.96,212.64 141.53,213.27 141.13,213.9 140.75,214.53 140.41,215.16 140.12,215.79 139.87,216.42 139.66,217.05 139.49,217.68 139.36,218.31 139.35,218.94 139.35,219.57 139.35,220.2 138.65,220.2 138.65,219.57 138.65,218.94 138.64,218.31 138.51,217.68 138.34,217.05 138.13,216.42 137.88,215.79 137.59,215.16 137.25,214.53 136.87,213.9 136.47,213.27 136.04,212.64 135.6,212.01 135.17,211.38 134.76,210.75 134.39,210.12 134.07,209.49 133.81,208.86 133.62,208.23 133.5,207.6 133.45,206.97 133.46,206.34 133.53,205.71 133.64,205.08 133.78,204.45 133.93,203.82 134.1,203.19 134.27,202.56 134.43,201.93 134.57,201.3 134.68,200.67 134.74,200.04 134.75,199.41 134.7,198.78 134.58,198.15 134.38,197.52 134.13,196.89 133.84,196.26 133.55,195.63 133.28,195 133.08,194.37 133,193.74 133.03,193.11 133.21,192.48 133.54,191.85 133.99,191.22 134.54,190.59 135.15,189.96 135.77,189.33 136.38,188.7 136.94,188.07 137.43,187.44 137.84,186.81 138.17,186.18 138.43,185.55 138.62,184.92 138.65,184.29 138.65,183.66 138.65,183.03 138.65,182.4" fill="#fff" stroke="#555" stroke-width="0.5"/>
<circle cx="135.68" cy="197.89" r="1.5" fill="#4c5ef2" fill-opacity="0.92"/>
<circle cx="137.67" cy="206.34" r="1.5" fill="#4c5ef2" fill-opacity="0.92"/>
<circle cx="142.88" cy="206.37" r="1.5" fill="#4c5ef2" fill-opacity="0.92"/>
<circle cx="142.12" cy="209.43" r="1.5" fill="#4c5ef2" fill-opacity="0.92"/>
<circle cx="136.04" cy="198.03" r="1.5" fill="#4c5ef2" fill-opacity="0.92"/>
<circle cx="139.3" cy="211" r="1.5" fill="#4c5ef2" fill-opacity="0.92"/>
<circle cx="139.05" cy="190.84" r="1.5" fill="#4c5ef2" fill-opacity="0.92"/>
<circle cx="136.12" cy="206.23" r="1.5" fill="#4c5ef2" fill-opacity="0.92"/>
<circle cx="134.72" cy="194.67" r="1.5" fill="#4c5ef2" fill-opacity="0.92"/>
<circle cx="141.83" cy="208.8" r="1.5" fill="#4c5ef2" fill-opacity="0.92"/>
<circle cx="140.77" cy="209.83" r="1.5" fill="#4c5ef2" fill-opacity="0.92"/>
<circle cx="136.52" cy="199.65" r="1.5" fill="#4c5ef2" fill-opacity="0.92"/>
<circle cx="137.54" cy="191.98" r="1.5" fill="#4c5ef2" fill-opacity="0.92"/>
<circle cx="138.38" cy="193.16" r="1.5" fill="#4c5ef2" fill-opacity="0.92"/>
<circle cx="143.54" cy="193.13" r="1.5" fill="#4c5ef2" fill-opacity="0.92"/>
<circle cx="143.02" cy="192.12" r="1.5" fill="#4c5ef2" fill-opacity="0.92"/>
<circle cx="141.77" cy="209.87" r="1.5" fill="#4c5ef2" fill-opacity="0.92"/>
<circle cx="142.66" cy="195.33" r="1.5" fill="#4c5ef2" fill-opacity="0.92"/>
<circle cx="140.45" cy="205.85" r="1.5" fill="#4c5ef2" fill-opacity="0.92"/>
<circle cx="137.46" cy="209.12" r="1.5" fill="#4c5ef2" fill-opacity="0.92"/>
<circle cx="135.66" cy="191.28" r="1.5" fill="#4c5ef2" fill-opacity="0.92"/>
<circle cx="137.49" cy="188.84" r="1.5" fill="#4c5ef2" fill-opacity="0.92"/>
<circle cx="140.71" cy="208" r="1.5" fill="#4c5ef2" fill-opacity="0.92"/>
<circle cx="139.69" cy="209.54" r="1.5" fill="#4c5ef2" fill-opacity="0.92"/>
<circle cx="139.51" cy="187.8" r="1.5" fill="#4c5ef2" fill-opacity="0.92"/>
<circle cx="135.06" cy="193.9" r="1.5" fill="#4c5ef2" fill-opacity="0.92"/>
<circle cx="137.76" cy="210.26" r="1.5" fill="#4c5ef2" fill-opacity="0.92"/>
<circle cx="137.43" cy="198.65" r="1.5" fill="#4c5ef2" fill-opacity="0.92"/>
<circle cx="137.71" cy="193.73" r="1.5" fill="#4c5ef2" fill-opacity="0.92"/>
<circle cx="138.25" cy="205.42" r="1.5" fill="#4c5ef2" fill-opacity="0.92"/>
<circle cx="139.32" cy="195.97" r="1.5" fill="#4c5ef2" fill-opacity="0.92"/>
<circle cx="137.44" cy="189.83" r="1.5" fill="#4c5ef2" fill-opacity="0.92"/>
<circle cx="138.05" cy="190.32" r="1.5" fill="#4c5ef2" fill-opacity="0.92"/>
<circle cx="138.99" cy="191.37" r="1.5" fill="#4c5ef2" fill-opacity="0.92"/>
<circle cx="140.1" cy="208.16" r="1.5" fill="#4c5ef2" fill-opacity="0.92"/>
<circle cx="138.15" cy="196.28" r="1.5" fill="#4c5ef2" fill-opacity="0.92"/>
<circle cx="139.35" cy="214.89" r="1.5" fill="#4c5ef2" fill-opacity="0.92"/>
<circle cx="139.01" cy="193.06" r="1.5" fill="#4c5ef2" fill-opacity="0.92"/>
<circle cx="139.28" cy="192.03" r="1.5" fill="#4c5ef2" fill-opacity="0.92"/>
<circle cx="137.46" cy="206.39" r="1.5" fill="#4c5ef2" fill-opacity="0.92"/>
<circle cx="136.06" cy="206.94" r="1.5" fill="#4c5ef2" fill-opacity="0.92"/>
<circle cx="138.69" cy="204.06" r="1.5" fill="#4c5ef2" fill-opacity="0.92"/>
<circle cx="140.36" cy="190.57" r="1.5" fill="#4c5ef2" fill-opacity="0.92"/>
<circle cx="138.01" cy="213.26" r="1.5" fill="#4c5ef2" fill-opacity="0.92"/>
<circle cx="139.21" cy="192.52" r="1.5" fill="#4c5ef2" fill-opacity="0.92"/>
<circle cx="137.57" cy="189.5" r="1.5" fill="#4c5ef2" fill-opacity="0.92"/>
<circle cx="136.65" cy="209.42" r="1.5" fill="#4c5ef2" fill-opacity="0.92"/>
<circle cx="136.41" cy="206.1" r="1.5" fill="#4c5ef2" fill-opacity="0.92"/>
<circle cx="138.28" cy="197.41" r="1.5" fill="#4c5ef2" fill-opacity="0.92"/>
<circle cx="139.65" cy="200.02" r="1.5" fill="#4c5ef2" fill-opacity="0.92"/>
<circle cx="140.44" cy="198.56" r="1.5" fill="#4c5ef2" fill-opacity="0.92"/>
<circle cx="138.59" cy="207.55" r="1.5" fill="#4c5ef2" fill-opacity="0.92"/>
<circle cx="135.22" cy="194.79" r="1.5" fill="#4c5ef2" fill-opacity="0.92"/>
<circle cx="136.93" cy="208.72" r="1.5" fill="#4c5ef2" fill-opacity="0.92"/>
<circle cx="139.78" cy="198.64" r="1.5" fill="#4c5ef2" fill-opacity="0.92"/>
<circle cx="138.01" cy="206.68" r="1.5" fill="#4c5ef2" fill-opacity="0.92"/>
<circle cx="138.16" cy="191.21" r="1.5" fill="#4c5ef2" fill-opacity="0.92"/>
<circle cx="142.23" cy="210.44" r="1.5" fill="#4c5ef2" fill-opacity="0.92"/>
<line x1="133.8" y1="193.1" x2="144.2" y2="193.1" stroke="#000" stroke-width="1.4"/>
<line x1="133.8" y1="209.1" x2="144.2" y2="209.1" stroke="#000" stroke-width="1.4"/>
<line x1="134.8" y1="201.4" x2="143.2" y2="201.4" stroke="#e8285a" stroke-width="1.4"/>
<polygon points="155.75,180.3 155.75,180.78 155.75,181.26 155.75,181.74 155.75,182.21 155.8,182.69 155.87,183.17 155.94,183.65 156.02,184.13 156.11,184.61 156.19,185.08 156.29,185.56 156.38,186.04 156.47,186.52 156.56,187 156.65,187.48 156.73,187.95 156.8,188.43 156.87,188.91 156.92,189.39 156.96,189.87 157,190.34 157.02,190.82 157.03,191.3 157.04,191.78 157.04,192.26 157.05,192.74 157.08,193.22 157.13,193.69 157.22,194.17 157.36,194.65 157.56,195.13 157.82,195.61 158.16,196.09 158.56,196.56 159.02,197.04 159.5,197.52 160,198 160.45,198.48 160.84,198.96 161.12,199.43 161.27,199.91 161.27,200.39 161.11,200.87 160.81,201.35 160.38,201.82 159.86,202.3 159.28,202.78 158.68,203.26 158.1,203.74 157.55,204.22 157.07,204.69 156.66,205.17 156.32,205.65 156.06,206.13 155.85,206.61 155.75,207.09 155.75,207.56 155.75,208.04 155.75,208.52 155.75,209 155.05,209 155.05,208.52 155.05,208.04 155.05,207.56 155.05,207.09 154.95,206.61 154.74,206.13 154.48,205.65 154.14,205.17 153.73,204.69 153.25,204.22 152.7,203.74 152.12,203.26 151.52,202.78 150.94,202.3 150.42,201.82 149.99,201.35 149.69,200.87 149.53,200.39 149.53,199.91 149.68,199.43 149.96,198.96 150.35,198.48 150.8,198 151.3,197.52 151.78,197.04 152.24,196.56 152.64,196.09 152.98,195.61 153.24,195.13 153.44,194.65 153.58,194.17 153.67,193.69 153.72,193.22 153.75,192.74 153.76,192.26 153.76,191.78 153.77,191.3 153.78,190.82 153.8,190.34 153.84,189.87 153.88,189.39 153.93,188.91 154,188.43 154.07,187.95 154.15,187.48 154.24,187 154.33,186.52 154.42,186.04 154.51,185.56 154.61,185.08 154.69,184.61 154.78,184.13 154.86,183.65 154.93,183.17 155,182.69 155.05,182.21 155.05,181.74 155.05,181.26 155.05,180.78 155.05,180.3" fill="#fff" stroke="#555" stroke-width="0.5"/>
<circle cx="155.17" cy="190.94" r="1.5" fill="#4c5ef2" fill-opacity="0.92"/>
<circle cx="155.31" cy="192.07" r="1.5" fill="#4c5ef2" fill-opacity="0.92"/>
<circle cx="156.41" cy="195.89" r="1.5" fill="#4c5ef2" fill-opacity="0.92"/>
<circle cx="155.4" cy="186.58" r="1.5" fill="#4c5ef2" fill-opacity="0.92"/>
<circle cx="158.98" cy="198.74" r="1.5" fill="#4c5ef2" fill-opacity="0.92"/>
<circle cx="156.43" cy="203.76" r="1.5" fill="#4c5ef2" fill-opacity="0.92"/>
<circle cx="151.91" cy="198.07" r="1.5" fill="#4c5ef2" fill-opacity="0.92"/>
<circle cx="152.65" cy="201.75" r="1.5" fill="#4c5ef2" fill-opacity="0.92"/>
<circle cx="155.35" cy="194.47" r="1.5" fill="#4c5ef2" fill-opacity="0.92"/>
<circle cx="156.3" cy="203.98" r="1.5" fill="#4c5ef2" fill-opacity="0.92"/>
<circle cx="154.32" cy="198.9" r="1.5" fill="#4c5ef2" fill-opacity="0.92"/>
<circle cx="156.2" cy="198.15" r="1.5" fill="#4c5ef2" fill-opacity="0.92"/>
<circle cx="153.85" cy="199.34" r="1.5" fill="#4c5ef2" fill-opacity="0.92"/>
<circle cx="157.83" cy="197.87" r="1.5" fill="#4c5ef2" fill-opacity="0.92"/>
<circle cx="157.01" cy="203.05" r="1.5" fill="#4c5ef2" fill-opacity="0.92"/>
<circle cx="154.11" cy="202.15" r="1.5" fill="#4c5ef2" fill-opacity="0.92"/>
<circle cx="158.81" cy="198.71" r="1.5" fill="#4c5ef2" fill-opacity="0.92"/>
<circle cx="153.62" cy="202.01" r="1.5" fill="#4c5ef2" fill-opacity="0.92"/>
<circle cx="152.72" cy="198.36" r="1.5" fill="#4c5ef2" fill-opacity="0.92"/>
<circle cx="155.4" cy="182.2" r="1.5" fill="#4c5ef2" fill-opacity="0.92"/>
<circle cx="155.4" cy="185.11" r="1.5" fill="#4c5ef2" fill-opacity="0.92"/>
<circle cx="158.25" cy="201.69" r="1.5" fill="#4c5ef2" fill-opacity="0.92"/>
<circle cx="156.62" cy="200.55" r="1.5" fill="#4c5ef2" fill-opacity="0.92"/>
<circle cx="159.54" cy="200.03" r="1.5" fill="#4c5ef2" fill-opacity="0.92"/>
<circle cx="150.75" cy="200.23" r="1.5" fill="#4c5ef2" fill-opacity="0.92"/>
<circle cx="158.82" cy="200.55" r="1.5" fill="#4c5ef2" fill-opacity="0.92"/>
<circle cx="155.2" cy="194.3" r="1.5" fill="#4c5ef2" fill-opacity="0.92"/>
<circle cx="158.08" cy="199.2" r="1.5" fill="#4c5ef2" fill-opacity="0.92"/>
<circle cx="154.6" cy="197.98" r="1.5" fill="#4c5ef2" fill-opacity="0.92"/>
<circle cx="153.85" cy="201.96" r="1.5" fill="#4c5ef2" fill-opacity="0.92"/>
<circle cx="153.8" cy="199.87" r="1.5" fill="#4c5ef2" fill-opacity="0.92"/>
<circle cx="159.05" cy="199.4" r="1.5" fill="#4c5ef2" fill-opacity="0.92"/>
<circle cx="152.35" cy="202.55" r="1.5" fill="#4c5ef2" fill-opacity="0.92"/>
<circle cx="155.84" cy="204.61" r="1.5" fill="#4c5ef2" fill-opacity="0.92"/>
<circle cx="156.81" cy="196.5" r="1.5" fill="#4c5ef2" fill-opacity="0.92"/>
<circle cx="157.09" cy="202.29" r="1.5" fill="#4c5ef2" fill-opacity="0.92"/>
<circle cx="152.48" cy="202.15" r="1.5" fill="#4c5ef2" fill-opacity="0.92"/>
<circle cx="153.91" cy="196.95" r="1.5" fill="#4c5ef2" fill-opacity="0.92"/>
<circle cx="156.11" cy="202.03" r="1.5" fill="#4c5ef2" fill-opacity="0.92"/>
<circle cx="159.26" cy="201.52" r="1.5" fill="#4c5ef2" fill-opacity="0.92"/>
<circle cx="155.23" cy="188.33" r="1.5" fill="#4c5ef2" fill-opacity="0.92"/>
<circle cx="160.05" cy="200.04" r="1.5" fill="#4c5ef2" fill-opacity="0.92"/>
<circle cx="156.22" cy="199.2" r="1.5" fill="#4c5ef2" fill-opacity="0.92"/>
<circle cx="153.86" cy="201.28" r="1.5" fill="#4c5ef2" fill-opacity="0.92"/>
<circle cx="157.36" cy="199.22" r="1.5" fill="#4c5ef2" fill-opacity="0.92"/>
<circle cx="155.42" cy="186.81" r="1.5" fill="#4c5ef2" fill-opacity="0.92"/>
<circle cx="153.48" cy="197.94" r="1.5" fill="#4c5ef2" fill-opacity="0.92"/>
<circle cx="156.59" cy="196.02" r="1.5" fill="#4c5ef2" fill-opacity="0.92"/>
<circle cx="155.2" cy="198.97" r="1.5" fill="#4c5ef2" fill-opacity="0.92"/>
<circle cx="152.92" cy="201.6" r="1.5" fill="#4c5ef2" fill-opacity="0.92"/>
<circle cx="154.08" cy="197.44" r="1.5" fill="#4c5ef2" fill-opacity="0.92"/>
<circle cx="156.19" cy="199.99" r="1.5" fill="#4c5ef2" fill-opacity="0.92"/>
<circle cx="157.49" cy="200.63" r="1.5" fill="#4c5ef2" fill-opacity="0.92"/>
<circle cx="153.86" cy="203.17" r="1.5" fill="#4c5ef2" fill-opacity="0.92"/>
<circle cx="156.64" cy="195.61" r="1.5" fill="#4c5ef2" fill-opacity="0.92"/>
<circle cx="153.18" cy="202.8" r="1.5" fill="#4c5ef2" fill-opacity="0.92"/>
<circle cx="150.83" cy="199.76" r="1.5" fill="#4c5ef2" fill-opacity="0.92"/>
<circle cx="151.79" cy="200.23" r="1.5" fill="#4c5ef2" fill-opacity="0.92"/>
<line x1="150.2" y1="197.6" x2="160.6" y2="197.6" stroke="#000" stroke-width="1.4"/>
<line x1="150.2" y1="200.8" x2="160.6" y2="200.8" stroke="#000" stroke-width="1.4"/>
<line x1="151.2" y1="200.2" x2="159.6" y2="200.2" stroke="#e8285a" stroke-width="1.4"/>
<polygon points="171.95,171.1 171.95,172.04 171.95,172.99 171.95,173.94 171.95,174.88 171.95,175.82 172.04,176.77 172.28,177.72 172.61,178.66 173.02,179.6 173.52,180.55 174.08,181.5 174.67,182.44 175.24,183.38 175.72,184.33 176.08,185.28 176.28,186.22 176.28,187.16 176.12,188.11 175.82,189.06 175.44,190 175.03,190.94 174.66,191.89 174.36,192.84 174.15,193.78 174.05,194.72 174.03,195.67 174.07,196.62 174.14,197.56 174.22,198.5 174.3,199.45 174.37,200.4 174.44,201.34 174.52,202.28 174.63,203.23 174.79,204.18 175.01,205.12 175.28,206.06 175.61,207.01 175.97,207.96 176.34,208.9 176.69,209.84 176.97,210.79 177.16,211.74 177.24,212.68 177.2,213.62 177.03,214.57 176.74,215.52 176.35,216.46 175.88,217.41 175.36,218.35 174.83,219.3 174.3,220.24 173.81,221.19 173.36,222.13 172.97,223.08 172.64,224.02 172.37,224.97 172.15,225.91 171.99,226.86 171.95,227.8 171.25,227.8 171.21,226.86 171.05,225.91 170.83,224.97 170.56,224.02 170.23,223.08 169.84,222.13 169.39,221.19 168.9,220.24 168.37,219.3 167.84,218.35 167.32,217.41 166.85,216.46 166.46,215.52 166.17,214.57 166,213.62 165.96,212.68 166.04,211.74 166.23,210.79 166.51,209.84 166.86,208.9 167.23,207.96 167.59,207.01 167.92,206.06 168.19,205.12 168.41,204.18 168.57,203.23 168.68,202.28 168.76,201.34 168.83,200.4 168.9,199.45 168.98,198.5 169.06,197.56 169.13,196.62 169.17,195.67 169.15,194.72 169.05,193.78 168.84,192.84 168.54,191.89 168.17,190.94 167.76,190 167.38,189.06 167.08,188.11 166.92,187.16 166.92,186.22 167.12,185.28 167.48,184.33 167.96,183.38 168.53,182.44 169.12,181.5 169.68,180.55 170.18,179.6 170.59,178.66 170.92,177.72 171.16,176.77 171.25,175.82 171.25,174.88 171.25,173.94 171.25,172.99 171.25,172.04 171.25,171.1" fill="#fff" stroke="#555" stroke-width="0.5"/>
<circle cx="170.93" cy="187.62" r="1.5" fill="#4c5ef2" fill-opacity="0.92"/>
<circle cx="171.95" cy="218.84" r="1.5" fill="#4c5ef2" fill-opacity="0.92"/>
<circle cx="174.56" cy="212.69" r="1.5" fill="#4c5ef2" fill-opacity="0.92"/>
<circle cx="170.81" cy="190.78" r="1.5" fill="#4c5ef2" fill-opacity="0.92"/>
<circle cx="172.54" cy="185.99" r="1.5" fill="#4c5ef2" fill-opacity="0.92"/>
<circle cx="170.43" cy="199.71" r="1.5" fill="#4c5ef2" fill-opacity="0.92"/>
<circle cx="172.08" cy="220.11" r="1.5" fill="#4c5ef2" fill-opacity="0.92"/>
<circle cx="169.97" cy="186.87" r="1.5" fill="#4c5ef2" fill-opacity="0.92"/>
<circle cx="171.7" cy="205.96" r="1.5" fill="#4c5ef2" fill-opacity="0.92"/>
<circle cx="172.61" cy="188.04" r="1.5" fill="#4c5ef2" fill-opacity="0.92"/>
<circle cx="171.84" cy="187.01" r="1.5" fill="#4c5ef2" fill-opacity="0.92"/>
<circle cx="170.99" cy="180.57" r="1.5" fill="#4c5ef2" fill-opacity="0.92"/>
<circle cx="170.18" cy="188.37" r="1.5" fill="#4c5ef2" fill-opacity="0.92"/>
<circle cx="171.92" cy="185.67" r="1.5" fill="#4c5ef2" fill-opacity="0.92"/>
<circle cx="169.91" cy="189.27" r="1.5" fill="#4c5ef2" fill-opacity="0.92"/>
<circle cx="170.99" cy="204.05" r="1.5" fill="#4c5ef2" fill-opacity="0.92"/>
<circle cx="171.87" cy="218.88" r="1.5" fill="#4c5ef2" fill-opacity="0.92"/>
<circle cx="167.76" cy="214.06" r="1.5" fill="#4c5ef2" fill-opacity="0.92"/>
<circle cx="173.29" cy="216.7" r="1.5" fill="#4c5ef2" fill-opacity="0.92"/>
<circle cx="171.38" cy="212.51" r="1.5" fill="#4c5ef2" fill-opacity="0.92"/>
<circle cx="175.15" cy="214.75" r="1.5" fill="#4c5ef2" fill-opacity="0.92"/>
<circle cx="171.97" cy="188.33" r="1.5" fill="#4c5ef2" fill-opacity="0.92"/>
<circle cx="171.6" cy="214.87" r="1.5" fill="#4c5ef2" fill-opacity="0.92"/>
<circle cx="171.07" cy="196.44" r="1.5" fill="#4c5ef2" fill-opacity="0.92"/>
<circle cx="173.3" cy="203.83" r="1.5" fill="#4c5ef2" fill-opacity="0.92"/>
<circle cx="173.77" cy="183.57" r="1.5" fill="#4c5ef2" fill-opacity="0.92"/>
<circle cx="170.51" cy="209.4" r="1.5" fill="#4c5ef2" fill-opacity="0.92"/>
<circle cx="173.54" cy="204.54" r="1.5" fill="#4c5ef2" fill-opacity="0.92"/>
<circle cx="168.67" cy="208.93" r="1.5" fill="#4c5ef2" fill-opacity="0.92"/>
<circle cx="170.27" cy="216.41" r="1.5" fill="#4c5ef2" fill-opacity="0.92"/>
<circle cx="172.9" cy="200.13" r="1.5" fill="#4c5ef2" fill-opacity="0.92"/>
<circle cx="171.04" cy="195.2" r="1.5" fill="#4c5ef2" fill-opacity="0.92"/>
<circle cx="172.15" cy="182.7" r="1.5" fill="#4c5ef2" fill-opacity="0.92"/>
<circle cx="173.84" cy="204.99" r="1.5" fill="#4c5ef2" fill-opacity="0.92"/>
<circle cx="171.1" cy="206.78" r="1.5" fill="#4c5ef2" fill-opacity="0.92"/>
<circle cx="173.22" cy="214.9" r="1.5" fill="#4c5ef2" fill-opacity="0.92"/>
<circle cx="171.59" cy="208.48" r="1.5" fill="#4c5ef2" fill-opacity="0.92"/>
<circle cx="172.13" cy="202.31" r="1.5" fill="#4c5ef2" fill-opacity="0.92"/>
<circle cx="167.98" cy="213.38" r="1.5" fill="#4c5ef2" fill-opacity="0.92"/>
<circle cx="173.74" cy="216.8" r="1.5" fill="#4c5ef2" fill-opacity="0.92"/>
<circle cx="173.52" cy="213.98" r="1.5" fill="#4c5ef2" fill-opacity="0.92"/>
<circle cx="170.64" cy="191.6" r="1.5" fill="#4c5ef2" fill-opacity="0.92"/>
<circle cx="174.65" cy="185.99" r="1.5" fill="#4c5ef2" fill-opacity="0.92"/>
<circle cx="173.66" cy="218.5" r="1.5" fill="#4c5ef2" fill-opacity="0.92"/>
<circle cx="172.35" cy="216.41" r="1.5" fill="#4c5ef2" fill-opacity="0.92"/>
<circle cx="173.92" cy="184.49" r="1.5" fill="#4c5ef2" fill-opacity="0.92"/>
<circle cx="170.61" cy="185.67" r="1.5" fill="#4c5ef2" fill-opacity="0.92"/>
<circle cx="168.99" cy="188.21" r="1.5" fill="#4c5ef2" fill-opacity="0.92"/>
<circle cx="170.55" cy="194.25" r="1.5" fill="#4c5ef2" fill-opacity="0.92"/>
<circle cx="169.86" cy="216.95" r="1.5" fill="#4c5ef2" fill-opacity="0.92"/>
<circle cx="170.43" cy="182.87" r="1.5" fill="#4c5ef2" fill-opacity="0.92"/>
<circle cx="172.56" cy="190.93" r="1.5" fill="#4c5ef2" fill-opacity="0.92"/>
<circle cx="171.24" cy="217.44" r="1.5" fill="#4c5ef2" fill-opacity="0.92"/>
<circle cx="175.64" cy="211.4" r="1.5" fill="#4c5ef2" fill-opacity="0.92"/>
<circle cx="171.45" cy="199.71" r="1.5" fill="#4c5ef2" fill-opacity="0.92"/>
<circle cx="169.58" cy="185.82" r="1.5" fill="#4c5ef2" fill-opacity="0.92"/>
<circle cx="171.65" cy="219.45" r="1.5" fill="#4c5ef2" fill-opacity="0.92"/>
<circle cx="172.56" cy="201.74" r="1.5" fill="#4c5ef2" fill-opacity="0.92"/>
<line x1="166.4" y1="188.6" x2="176.8" y2="188.6" stroke="#000" stroke-width="1.4"/>
<line x1="166.4" y1="213.4" x2="176.8" y2="213.4" stroke="#000" stroke-width="1.4"/>
<line x1="167.4" y1="206.5" x2="175.8" y2="206.5" stroke="#e8285a" stroke-width="1.4"/>
<polygon points="188.25,168.6 188.25,169.53 188.31,170.46 188.44,171.38 188.61,172.31 188.8,173.24 189.01,174.17 189.24,175.1 189.48,176.03 189.73,176.95 189.96,177.88 190.16,178.81 190.33,179.74 190.44,180.67 190.51,181.6 190.52,182.53 190.47,183.45 190.39,184.38 190.27,185.31 190.15,186.24 190.04,187.17 189.97,188.09 189.96,189.02 190.02,189.95 190.18,190.88 190.42,191.81 190.75,192.74 191.13,193.66 191.54,194.59 191.94,195.52 192.29,196.45 192.59,197.38 192.79,198.31 192.93,199.24 193,200.16 193.05,201.09 193.1,202.02 193.2,202.95 193.36,203.88 193.56,204.81 193.78,205.73 193.9,206.66 193.9,207.59 193.9,208.52 193.88,209.45 193.51,210.38 192.98,211.3 192.33,212.23 191.61,213.16 190.89,214.09 190.21,215.02 189.61,215.94 189.12,216.87 188.73,217.8 188.44,218.73 188.25,219.66 188.25,220.59 188.25,221.52 188.25,222.44 188.25,223.37 188.25,224.3 187.55,224.3 187.55,223.37 187.55,222.44 187.55,221.52 187.55,220.59 187.55,219.66 187.36,218.73 187.07,217.8 186.68,216.87 186.19,215.94 185.59,215.02 184.91,214.09 184.19,213.16 183.47,212.23 182.82,211.3 182.29,210.38 181.92,209.45 181.9,208.52 181.9,207.59 181.9,206.66 182.02,205.73 182.24,204.81 182.44,203.88 182.6,202.95 182.7,202.02 182.75,201.09 182.8,200.16 182.87,199.24 183.01,198.31 183.21,197.38 183.51,196.45 183.86,195.52 184.26,194.59 184.67,193.66 185.05,192.74 185.38,191.81 185.62,190.88 185.78,189.95 185.84,189.02 185.83,188.09 185.76,187.17 185.65,186.24 185.53,185.31 185.41,184.38 185.33,183.45 185.28,182.53 185.29,181.6 185.36,180.67 185.47,179.74 185.64,178.81 185.84,177.88 186.07,176.95 186.32,176.03 186.56,175.1 186.79,174.17 187,173.24 187.19,172.31 187.36,171.38 187.49,170.46 187.55,169.53 187.55,168.6" fill="#fff" stroke="#555" stroke-width="0.5"/>
<circle cx="187.02" cy="200.02" r="1.5" fill="#4c5ef2" fill-opacity="0.92"/>
<circle cx="188.47" cy="205.03" r="1.5" fill="#4c5ef2" fill-opacity="0.92"/>
<circle cx="187.44" cy="185.75" r="1.5" fill="#4c5ef2" fill-opacity="0.92"/>
<circle cx="188.56" cy="182.03" r="1.5" fill="#4c5ef2" fill-opacity="0.92"/>
<circle cx="187.09" cy="205.07" r="1.5" fill="#4c5ef2" fill-opacity="0.92"/>
<circle cx="185.6" cy="204.83" r="1.5" fill="#4c5ef2" fill-opacity="0.92"/>
<circle cx="184.63" cy="203.24" r="1.5" fill="#4c5ef2" fill-opacity="0.92"/>
<circle cx="183.39" cy="207.65" r="1.5" fill="#4c5ef2" fill-opacity="0.92"/>
<circle cx="190.84" cy="203.74" r="1.5" fill="#4c5ef2" fill-opacity="0.92"/>
<circle cx="185.94" cy="200.15" r="1.5" fill="#4c5ef2" fill-opacity="0.92"/>
<circle cx="188.54" cy="188.49" r="1.5" fill="#4c5ef2" fill-opacity="0.92"/>
<circle cx="184.1" cy="211.02" r="1.5" fill="#4c5ef2" fill-opacity="0.92"/>
<circle cx="189.78" cy="209.6" r="1.5" fill="#4c5ef2" fill-opacity="0.92"/>
<circle cx="186.15" cy="213.77" r="1.5" fill="#4c5ef2" fill-opacity="0.92"/>
<circle cx="189.16" cy="209.02" r="1.5" fill="#4c5ef2" fill-opacity="0.92"/>
<circle cx="188.8" cy="193.96" r="1.5" fill="#4c5ef2" fill-opacity="0.92"/>
<circle cx="189.75" cy="210.25" r="1.5" fill="#4c5ef2" fill-opacity="0.92"/>
<circle cx="188.19" cy="212.56" r="1.5" fill="#4c5ef2" fill-opacity="0.92"/>
<circle cx="184.49" cy="198.77" r="1.5" fill="#4c5ef2" fill-opacity="0.92"/>
<circle cx="185.47" cy="205.43" r="1.5" fill="#4c5ef2" fill-opacity="0.92"/>
<circle cx="191" cy="197.26" r="1.5" fill="#4c5ef2" fill-opacity="0.92"/>
<circle cx="190.41" cy="199.78" r="1.5" fill="#4c5ef2" fill-opacity="0.92"/>
<circle cx="190.07" cy="201.65" r="1.5" fill="#4c5ef2" fill-opacity="0.92"/>
<circle cx="187.04" cy="213.9" r="1.5" fill="#4c5ef2" fill-opacity="0.92"/>
<circle cx="187.15" cy="193.71" r="1.5" fill="#4c5ef2" fill-opacity="0.92"/>
<circle cx="186.16" cy="194.8" r="1.5" fill="#4c5ef2" fill-opacity="0.92"/>
<circle cx="187.9" cy="173.88" r="1.5" fill="#4c5ef2" fill-opacity="0.92"/>
<circle cx="189.99" cy="209.65" r="1.5" fill="#4c5ef2" fill-opacity="0.92"/>
<circle cx="188.06" cy="192.98" r="1.5" fill="#4c5ef2" fill-opacity="0.92"/>
<circle cx="191.73" cy="204.07" r="1.5" fill="#4c5ef2" fill-opacity="0.92"/>
<circle cx="185.62" cy="204.49" r="1.5" fill="#4c5ef2" fill-opacity="0.92"/>
<circle cx="188.36" cy="177.41" r="1.5" fill="#4c5ef2" fill-opacity="0.92"/>
<circle cx="187.3" cy="213.59" r="1.5" fill="#4c5ef2" fill-opacity="0.92"/>
<circle cx="190.5" cy="199.14" r="1.5" fill="#4c5ef2" fill-opacity="0.92"/>
<circle cx="188.1" cy="182.72" r="1.5" fill="#4c5ef2" fill-opacity="0.92"/>
<circle cx="192.26" cy="207.28" r="1.5" fill="#4c5ef2" fill-opacity="0.92"/>
<circle cx="185.72" cy="196.15" r="1.5" fill="#4c5ef2" fill-opacity="0.92"/>
<circle cx="187.18" cy="204.97" r="1.5" fill="#4c5ef2" fill-opacity="0.92"/>
<circle cx="191.66" cy="205.2" r="1.5" fill="#4c5ef2" fill-opacity="0.92"/>
<circle cx="188.49" cy="202.2" r="1.5" fill="#4c5ef2" fill-opacity="0.92"/>
<circle cx="186.51" cy="204.22" r="1.5" fill="#4c5ef2" fill-opacity="0.92"/>
<circle cx="187.79" cy="216.74" r="1.5" fill="#4c5ef2" fill-opacity="0.92"/>
<circle cx="183.91" cy="205.87" r="1.5" fill="#4c5ef2" fill-opacity="0.92"/>
<circle cx="188.64" cy="204.91" r="1.5" fill="#4c5ef2" fill-opacity="0.92"/>
<circle cx="184.83" cy="199.87" r="1.5" fill="#4c5ef2" fill-opacity="0.92"/>
<circle cx="190.72" cy="198.99" r="1.5" fill="#4c5ef2" fill-opacity="0.92"/>
<circle cx="187.99" cy="183.46" r="1.5" fill="#4c5ef2" fill-opacity="0.92"/>
<circle cx="188.47" cy="199.3" r="1.5" fill="#4c5ef2" fill-opacity="0.92"/>
<circle cx="187.16" cy="201.11" r="1.5" fill="#4c5ef2" fill-opacity="0.92"/>
<circle cx="184.12" cy="207.76" r="1.5" fill="#4c5ef2" fill-opacity="0.92"/>
<circle cx="188.96" cy="190.76" r="1.5" fill="#4c5ef2" fill-opacity="0.92"/>
<circle cx="188.09" cy="189.72" r="1.5" fill="#4c5ef2" fill-opacity="0.92"/>
<circle cx="191.71" cy="207.38" r="1.5" fill="#4c5ef2" fill-opacity="0.92"/>
<circle cx="190.48" cy="209.38" r="1.5" fill="#4c5ef2" fill-opacity="0.92"/>
<circle cx="184.25" cy="205.96" r="1.5" fill="#4c5ef2" fill-opacity="0.92"/>
<circle cx="190.61" cy="212.42" r="1.5" fill="#4c5ef2" fill-opacity="0.92"/>
<circle cx="184.97" cy="205.68" r="1.5" fill="#4c5ef2" fill-opacity="0.92"/>
<circle cx="184.04" cy="200.74" r="1.5" fill="#4c5ef2" fill-opacity="0.92"/>
<line x1="182.7" y1="189.2" x2="193.1" y2="189.2" stroke="#000" stroke-width="1.4"/>
<line x1="182.7" y1="209" x2="193.1" y2="209" stroke="#000" stroke-width="1.4"/>
<line x1="183.7" y1="202.2" x2="192.1" y2="202.2" stroke="#e8285a" stroke-width="1.4"/>
<text transform="translate(93.2,270) rotate(-90)" font-size="9.5" font-weight="bold" text-anchor="end" stroke="#000" stroke-width="0.06">DMSO</text>
<text transform="translate(109.8,270) rotate(-90)" font-size="9.5" font-weight="bold" text-anchor="end" stroke="#000" stroke-width="0.06">siControl</text>
<text transform="translate(126.1,270) rotate(-90)" font-size="9.5" font-weight="bold" text-anchor="end" stroke="#000" stroke-width="0.06">siLIMP-2</text>
<text transform="translate(142.29,270) rotate(-90)" font-size="9.2" font-weight="bold" text-anchor="end" stroke="#000" stroke-width="0.06">5 µM</text>
<text transform="translate(158.69,270) rotate(-90)" font-size="9.2" font-weight="bold" text-anchor="end" stroke="#000" stroke-width="0.06">15 µM</text>
<text transform="translate(174.89,270) rotate(-90)" font-size="9.2" font-weight="bold" text-anchor="end" stroke="#000" stroke-width="0.06">5 µM</text>
<text transform="translate(191.19,270) rotate(-90)" font-size="9.2" font-weight="bold" text-anchor="end" stroke="#000" stroke-width="0.06">15 µM</text>
<line x1="137.9" y1="296.6" x2="155.9" y2="296.6" stroke="#000" stroke-width="1.3"/>
<line x1="171.2" y1="296.6" x2="189.2" y2="296.6" stroke="#000" stroke-width="1.3"/>
<text x="146.2" y="307.59" font-size="9.2" font-weight="bold" text-anchor="middle" stroke="#000" stroke-width="0.06">Tet</text>
<text x="179.5" y="307.59" font-size="9.2" font-weight="bold" text-anchor="middle" stroke="#000" stroke-width="0.06">AD-Tet</text>
<path d="M247.9,55.7 C270,47 295,41 318.8,40.7 C340,40.5 362,43 374,47.3 C378,52 378,62 381,66 C384,70 390,68 392,62 C394,56 397,54 402,55.5 L410.3,58.3 L410.3,157.5 L247.9,157.5 Z" fill="#f3f7fc"/>
<path d="M247.9,55.7 C270,47 295,41 318.8,40.7 C340,40.5 362,43 374,47.3 C378,52 378,62 381,66 C384,70 390,68 392,62 C394,56 397,54 402,55.5 L410.3,58.3" fill="none" stroke="#b8c8de" stroke-width="2.6"/>
<path d="M247.9,55.7 C270,47 295,41 318.8,40.7 C340,40.5 362,43 374,47.3 C378,52 378,62 381,66 C384,70 390,68 392,62 C394,56 397,54 402,55.5 L410.3,58.3" fill="none" stroke="#e2eaf5" stroke-width="0.9"/>
<path d="M247.9,109.4 C275,109 303,126 316,157.5 L247.9,157.5 Z" fill="#cad9ef"/>
<path d="M250.5,111.2 C276,111.5 302,127.5 313.5,155" fill="none" stroke="#8aa7d6" stroke-width="1.9" stroke-dasharray="12,4"/>
<path d="M247.9,93.2 L258,93.2 C255,91 255.5,87 259,85.2 C272,85.5 290,91 303,100 L314,110 L309,115.5 C298,107 283,100.5 265,100 L247.9,99.4 Z" fill="#fff" stroke="#a9bedb" stroke-width="0.9"/>
<path d="M267.5,94.2 C273,95 278,96 283,97.6" fill="none" stroke="#a9bedb" stroke-width="4.4" stroke-linecap="round" stroke-linejoin="round"/>
<path d="M267.5,94.2 C273,95 278,96 283,97.6" fill="none" stroke="#ffffff" stroke-width="3" stroke-linecap="round" stroke-linejoin="round"/>
<path d="M290.5,102.8 C297,106 303,109.5 309,113.5" fill="none" stroke="#a9bedb" stroke-width="4.4" stroke-linecap="round" stroke-linejoin="round"/>
<path d="M290.5,102.8 C297,106 303,109.5 309,113.5" fill="none" stroke="#ffffff" stroke-width="3" stroke-linecap="round" stroke-linejoin="round"/>
<path d="M268.5,108.2 C280,110 292,115 300,120.5 C304,123.5 307,126 309,128" fill="none" stroke="#a9bedb" stroke-width="5.6" stroke-linecap="round" stroke-linejoin="round"/>
<path d="M268.5,108.2 C280,110 292,115 300,120.5 C304,123.5 307,126 309,128" fill="none" stroke="#ffffff" stroke-width="4.2" stroke-linecap="round" stroke-linejoin="round"/>
<path d="M305.5,126 C309,130 312,134.5 314.5,139.5" fill="none" stroke="#a9bedb" stroke-width="5" stroke-linecap="round" stroke-linejoin="round"/>
<path d="M305.5,126 C309,130 312,134.5 314.5,139.5" fill="none" stroke="#ffffff" stroke-width="3.6" stroke-linecap="round" stroke-linejoin="round"/>
<path d="M317.5,119.5 C324,126 330,135 334,147 C335,150 333,153 330.5,152" fill="none" stroke="#a9bedb" stroke-width="5.4" stroke-linecap="round" stroke-linejoin="round"/>
<path d="M317.5,119.5 C324,126 330,135 334,147 C335,150 333,153 330.5,152" fill="none" stroke="#ffffff" stroke-width="4" stroke-linecap="round" stroke-linejoin="round"/>
<path d="M320,138 C323,142 326,146 328,150" fill="none" stroke="#a9bedb" stroke-width="4.6" stroke-linecap="round" stroke-linejoin="round"/>
<path d="M320,138 C323,142 326,146 328,150" fill="none" stroke="#ffffff" stroke-width="3.2" stroke-linecap="round" stroke-linejoin="round"/>
<path d="M298,131 C303,136 307,141 309,146" fill="none" stroke="#a9bedb" stroke-width="4.8" stroke-linecap="round" stroke-linejoin="round"/>
<path d="M298,131 C303,136 307,141 309,146" fill="none" stroke="#ffffff" stroke-width="3.4" stroke-linecap="round" stroke-linejoin="round"/>
<circle cx="378" cy="86.6" r="11.6" fill="#ffffff" stroke="#b3c2da" stroke-width="2.2"/>
<circle cx="332.9" cy="64.7" r="5.9" fill="#d3cdc9"/>
<circle cx="339.8" cy="80.1" r="10" fill="#d3cdc9"/>
<path d="M328.6,67.5 L337.5,64.5 L341.5,72.5 L331.0,75.5 Z" fill="#d3cdc9"/>
<circle cx="332.9" cy="64.7" r="4" fill="#fff"/>
<circle cx="339.8" cy="80.1" r="8.1" fill="#fff"/>
<path d="M330.6,67.0 L335.6,65.2 L339.3,73.0 L333.2,74.6 Z" fill="#fff"/>
<circle cx="383.5" cy="56.5" r="6.5" fill="#ffffff"/>
<circle cx="335.5" cy="109.7" r="9.5" fill="#ffffff" stroke="#ee6a86" stroke-width="1.7"/>
<circle cx="354.8" cy="116.7" r="3.4" fill="#f4c64a"/>
<circle cx="361.8" cy="121.4" r="3.6" fill="#f4c64a"/>
<line x1="348.5" y1="28" x2="351.5" y2="48" stroke="#9a4fc0" stroke-width="0.9"/>
<line x1="383" y1="57" x2="378.5" y2="71" stroke="#9a4fc0" stroke-width="0.9"/>
<line x1="327.5" y1="54" x2="335.5" y2="67" stroke="#9a4fc0" stroke-width="0.9"/>
<line x1="373.5" y1="97" x2="383" y2="87" stroke="#9a4fc0" stroke-width="0.9"/>
<circle cx="347.9" cy="23.9" r="5.6" fill="#48ec48" stroke="#2a7a2a" stroke-width="0.5"/>
<path d="M343.3,25.1 c1.5,-1.2 3,-2.4 4.2,-1.2 c1,0.9 2.2,-0.6 3.2,-1.8" fill="none" stroke="#1d4d1d" stroke-width="1.25"/>
<path d="M345.5,27.7 c1.2,-1.0 2.4,-1.8 3.4,-0.9 c0.8,0.7 1.8,-0.4 2.6,-1.3" fill="none" stroke="#1d4d1d" stroke-width="1"/>
<circle cx="383.5" cy="52" r="5.6" fill="#48ec48" stroke="#2a7a2a" stroke-width="0.5"/>
<path d="M378.9,53.2 c1.5,-1.2 3,-2.4 4.2,-1.2 c1,0.9 2.2,-0.6 3.2,-1.8" fill="none" stroke="#1d4d1d" stroke-width="1.25"/>
<path d="M381.1,55.8 c1.2,-1.0 2.4,-1.8 3.4,-0.9 c0.8,0.7 1.8,-0.4 2.6,-1.3" fill="none" stroke="#1d4d1d" stroke-width="1"/>
<circle cx="339.4" cy="80" r="5.6" fill="#48ec48" stroke="#2a7a2a" stroke-width="0.5"/>
<path d="M334.8,81.2 c1.5,-1.2 3,-2.4 4.2,-1.2 c1,0.9 2.2,-0.6 3.2,-1.8" fill="none" stroke="#1d4d1d" stroke-width="1.25"/>
<path d="M337,83.8 c1.2,-1.0 2.4,-1.8 3.4,-0.9 c0.8,0.7 1.8,-0.4 2.6,-1.3" fill="none" stroke="#1d4d1d" stroke-width="1"/>
<circle cx="380.6" cy="84.2" r="5.6" fill="#48ec48" stroke="#2a7a2a" stroke-width="0.5"/>
<path d="M376,85.4 c1.5,-1.2 3,-2.4 4.2,-1.2 c1,0.9 2.2,-0.6 3.2,-1.8" fill="none" stroke="#1d4d1d" stroke-width="1.25"/>
<path d="M378.2,88 c1.2,-1.0 2.4,-1.8 3.4,-0.9 c0.8,0.7 1.8,-0.4 2.6,-1.3" fill="none" stroke="#1d4d1d" stroke-width="1"/>
<path d="M331,104 l1,1.5 -1.2,0.6 1,1.6" fill="none" stroke="#3ad34a" stroke-width="0.9"/>
<path d="M337,103 l1,1.5 -1.2,0.6 1,1.6" fill="none" stroke="#3ad34a" stroke-width="0.9"/>
<path d="M340,107 l1,1.5 -1.2,0.6 1,1.6" fill="none" stroke="#3ad34a" stroke-width="0.9"/>
<path d="M331,112 l1,1.5 -1.2,0.6 1,1.6" fill="none" stroke="#3ad34a" stroke-width="0.9"/>
<path d="M337,113 l1,1.5 -1.2,0.6 1,1.6" fill="none" stroke="#3ad34a" stroke-width="0.9"/>
<path d="M341,113 l1,1.5 -1.2,0.6 1,1.6" fill="none" stroke="#3ad34a" stroke-width="0.9"/>
<path d="M322,115 l1,1.5 -1.2,0.6 1,1.6" fill="none" stroke="#3ad34a" stroke-width="0.9"/>
<path d="M330,125 l1,1.5 -1.2,0.6 1,1.6" fill="none" stroke="#3ad34a" stroke-width="0.9"/>
<path d="M324,120 l1,1.5 -1.2,0.6 1,1.6" fill="none" stroke="#3ad34a" stroke-width="0.9"/>
<path d="M352,27 C365,28 372,33 374,40" fill="none" stroke="#333" stroke-width="0.6"/>
<path d="M374,40 l-1.8,-1.6 M374,40 l0.5,-2.2" fill="none" stroke="#333" stroke-width="0.6"/>
<path d="M369,74 C363,71 358,70 352,70.5" fill="none" stroke="#333" stroke-width="0.6"/>
<path d="M352,70.5 l2,-1.5 M352,70.5 l2,1.3" fill="none" stroke="#333" stroke-width="0.6"/>
<path d="M345,90 C346,95 343,100 339,101" fill="none" stroke="#333" stroke-width="0.6"/>
<path d="M372,67 C368,68 367,70 368,73" fill="none" stroke="#333" stroke-width="0.6"/>
<path d="M326,106 C322,107 321,109 320,111" fill="none" stroke="#333" stroke-width="0.6"/>
<path d="M345,111 L351,112" fill="none" stroke="#333" stroke-width="0.6"/>
<text x="347.5" y="17.66" font-size="2.4" text-anchor="middle" stroke="#000" stroke-width="0.05">BD-Chol-LDL</text>
<text x="382" y="101.36" font-size="2.4" stroke="#000" stroke-width="0.05">Endosome</text>
<text x="316" y="100.99" font-size="2.2" stroke="#000" stroke-width="0.05">Lysosome</text>
<text x="337.5" y="110.22" font-size="2" text-anchor="middle" stroke="#000" stroke-width="0.04">BD-Chol</text>
<text x="338" y="124.29" font-size="2.2" stroke="#000" stroke-width="0.05">LysoTracker</text>
<text x="366" y="122.82" font-size="2.3" stroke="#000" stroke-width="0.05">Lipid droplets</text>
<line x1="269.3" y1="171.9" x2="269.3" y2="275.2" stroke="#000" stroke-width="1.2"/>
<line x1="268.8" y1="274.7" x2="423.8" y2="274.7" stroke="#000" stroke-width="1.2"/>
<line x1="264.6" y1="275.5" x2="269.3" y2="275.5" stroke="#000" stroke-width="1.2"/>
<text x="264" y="278.26" font-size="7.7" font-weight="bold" text-anchor="end" stroke="#000" stroke-width="0.05">4600</text>
<line x1="264.6" y1="249.6" x2="269.3" y2="249.6" stroke="#000" stroke-width="1.2"/>
<text x="264" y="252.36" font-size="7.7" font-weight="bold" text-anchor="end" stroke="#000" stroke-width="0.05">4800</text>
<line x1="264.6" y1="223.7" x2="269.3" y2="223.7" stroke="#000" stroke-width="1.2"/>
<text x="264" y="226.46" font-size="7.7" font-weight="bold" text-anchor="end" stroke="#000" stroke-width="0.05">5000</text>
<line x1="264.6" y1="197.8" x2="269.3" y2="197.8" stroke="#000" stroke-width="1.2"/>
<text x="264" y="200.56" font-size="7.7" font-weight="bold" text-anchor="end" stroke="#000" stroke-width="0.05">5200</text>
<line x1="264.6" y1="171.9" x2="269.3" y2="171.9" stroke="#000" stroke-width="1.2"/>
<text x="264" y="174.66" font-size="7.7" font-weight="bold" text-anchor="end" stroke="#000" stroke-width="0.05">5400</text>
<line x1="300.5" y1="274.7" x2="300.5" y2="279.3" stroke="#000" stroke-width="1.2"/>
<text x="300.5" y="288.16" font-size="7.7" font-weight="bold" text-anchor="middle" stroke="#000" stroke-width="0.05">0</text>
<line x1="346.4" y1="274.7" x2="346.4" y2="279.3" stroke="#000" stroke-width="1.2"/>
<text x="346.4" y="288.16" font-size="7.7" font-weight="bold" text-anchor="middle" stroke="#000" stroke-width="0.05">1</text>
<line x1="392.8" y1="274.7" x2="392.8" y2="279.3" stroke="#000" stroke-width="1.2"/>
<text x="392.8" y="288.16" font-size="7.7" font-weight="bold" text-anchor="middle" stroke="#000" stroke-width="0.05">2</text>
<text x="346.9" y="299.63" font-size="8.45" font-weight="bold" text-anchor="middle" stroke="#000" stroke-width="0.05">Time (Hours)</text>
<text transform="translate(241.81,276) rotate(-90)" font-size="8.4" font-weight="bold" stroke="#000" stroke-width="0.05">Relative BD-Chol Intensity</text>
<polyline points="300.5,237.5 346.4,256.1 392.8,253.1" fill="none" stroke="#000" stroke-width="1.2"/>
<line x1="300.5" y1="232.5" x2="300.5" y2="242.5" stroke="#000" stroke-width="1"/>
<line x1="298.1" y1="232.5" x2="302.9" y2="232.5" stroke="#000" stroke-width="1"/>
<line x1="298.1" y1="242.5" x2="302.9" y2="242.5" stroke="#000" stroke-width="1"/>
<line x1="346.4" y1="247" x2="346.4" y2="265" stroke="#000" stroke-width="1"/>
<line x1="344" y1="247" x2="348.8" y2="247" stroke="#000" stroke-width="1"/>
<line x1="344" y1="265" x2="348.8" y2="265" stroke="#000" stroke-width="1"/>
<line x1="392.8" y1="249" x2="392.8" y2="258" stroke="#000" stroke-width="1"/>
<line x1="390.4" y1="249" x2="395.2" y2="249" stroke="#000" stroke-width="1"/>
<line x1="390.4" y1="258" x2="395.2" y2="258" stroke="#000" stroke-width="1"/>
<circle cx="300.5" cy="237.5" r="2.3" fill="#000"/>
<circle cx="346.4" cy="256.1" r="2.3" fill="#000"/>
<circle cx="392.8" cy="253.1" r="2.3" fill="#000"/>
<polyline points="300.5,237.5 346.4,220.1 392.8,209" fill="none" stroke="#f01818" stroke-width="1.2"/>
<line x1="300.5" y1="232" x2="300.5" y2="243" stroke="#f01818" stroke-width="1"/>
<line x1="298.1" y1="232" x2="302.9" y2="232" stroke="#f01818" stroke-width="1"/>
<line x1="298.1" y1="243" x2="302.9" y2="243" stroke="#f01818" stroke-width="1"/>
<line x1="346.4" y1="215.5" x2="346.4" y2="225" stroke="#f01818" stroke-width="1"/>
<line x1="344" y1="215.5" x2="348.8" y2="215.5" stroke="#f01818" stroke-width="1"/>
<line x1="344" y1="225" x2="348.8" y2="225" stroke="#f01818" stroke-width="1"/>
<line x1="392.8" y1="203" x2="392.8" y2="214.5" stroke="#f01818" stroke-width="1"/>
<line x1="390.4" y1="203" x2="395.2" y2="203" stroke="#f01818" stroke-width="1"/>
<line x1="390.4" y1="214.5" x2="395.2" y2="214.5" stroke="#f01818" stroke-width="1"/>
<rect x="298.3" y="235.3" width="4.4" height="4.4" fill="#f01818"/>
<rect x="344.2" y="217.9" width="4.4" height="4.4" fill="#f01818"/>
<rect x="390.6" y="206.8" width="4.4" height="4.4" fill="#f01818"/>
<polyline points="300.5,227.8 346.4,242.5 392.8,246.2" fill="none" stroke="#1818f0" stroke-width="1.2"/>
<line x1="300.5" y1="217.2" x2="300.5" y2="238" stroke="#1818f0" stroke-width="1"/>
<line x1="298.1" y1="217.2" x2="302.9" y2="217.2" stroke="#1818f0" stroke-width="1"/>
<line x1="298.1" y1="238" x2="302.9" y2="238" stroke="#1818f0" stroke-width="1"/>
<line x1="346.4" y1="230.3" x2="346.4" y2="250" stroke="#1818f0" stroke-width="1"/>
<line x1="344" y1="230.3" x2="348.8" y2="230.3" stroke="#1818f0" stroke-width="1"/>
<line x1="344" y1="250" x2="348.8" y2="250" stroke="#1818f0" stroke-width="1"/>
<line x1="392.8" y1="237.8" x2="392.8" y2="252" stroke="#1818f0" stroke-width="1"/>
<line x1="390.4" y1="237.8" x2="395.2" y2="237.8" stroke="#1818f0" stroke-width="1"/>
<line x1="390.4" y1="252" x2="395.2" y2="252" stroke="#1818f0" stroke-width="1"/>
<path d="M300.5,225.2 l2.6,4.3 l-5.2,0 Z" fill="#1818f0"/>
<path d="M346.4,239.9 l2.6,4.3 l-5.2,0 Z" fill="#1818f0"/>
<path d="M392.8,243.6 l2.6,4.3 l-5.2,0 Z" fill="#1818f0"/>
<polyline points="300.5,225.8 346.4,197.3 392.8,188.6" fill="none" stroke="#18c818" stroke-width="1.2"/>
<line x1="300.5" y1="219.5" x2="300.5" y2="231" stroke="#18c818" stroke-width="1"/>
<line x1="298.1" y1="219.5" x2="302.9" y2="219.5" stroke="#18c818" stroke-width="1"/>
<line x1="298.1" y1="231" x2="302.9" y2="231" stroke="#18c818" stroke-width="1"/>
<line x1="346.4" y1="194.5" x2="346.4" y2="200.5" stroke="#18c818" stroke-width="1"/>
<line x1="344" y1="194.5" x2="348.8" y2="194.5" stroke="#18c818" stroke-width="1"/>
<line x1="344" y1="200.5" x2="348.8" y2="200.5" stroke="#18c818" stroke-width="1"/>
<line x1="392.8" y1="185.8" x2="392.8" y2="191.5" stroke="#18c818" stroke-width="1"/>
<line x1="390.4" y1="185.8" x2="395.2" y2="185.8" stroke="#18c818" stroke-width="1"/>
<line x1="390.4" y1="191.5" x2="395.2" y2="191.5" stroke="#18c818" stroke-width="1"/>
<path d="M300.5,228.4 l2.6,-4.3 l-5.2,0 Z" fill="#18c818"/>
<path d="M346.4,199.9 l2.6,-4.3 l-5.2,0 Z" fill="#18c818"/>
<path d="M392.8,191.2 l2.6,-4.3 l-5.2,0 Z" fill="#18c818"/>
<line x1="275.3" y1="173.5" x2="285.4" y2="173.5" stroke="#000" stroke-width="1.2"/>
<circle cx="280.3" cy="173.5" r="2.1" fill="#000"/>
<text x="292.6" y="176.54" font-size="8.5" stroke="#000" stroke-width="0.08">DMSO</text>
<line x1="275.3" y1="184" x2="285.4" y2="184" stroke="#f01818" stroke-width="1.2"/>
<rect x="278.3" y="182" width="4" height="4" fill="#f01818"/>
<text x="292.6" y="187.04" font-size="8.5" stroke="#000" stroke-width="0.08">Tet (5µM)</text>
<line x1="275.3" y1="193.9" x2="285.4" y2="193.9" stroke="#1818f0" stroke-width="1.2"/>
<path d="M280.3,191.5 l2.4,4 l-4.8,0 Z" fill="#1818f0"/>
<text x="292.6" y="196.94" font-size="8.5" stroke="#000" stroke-width="0.08">siControl</text>
<line x1="275.3" y1="203.5" x2="285.4" y2="203.5" stroke="#18c818" stroke-width="1.2"/>
<path d="M280.3,205.9 l2.4,-4 l-4.8,0 Z" fill="#18c818"/>
<text x="292.6" y="206.54" font-size="8.5" stroke="#000" stroke-width="0.08">siLIMP-2</text>
<text x="350.6" y="196.73" font-size="9" text-anchor="middle" stroke="#000" stroke-width="0.08">*</text>
<text x="399.3" y="186.73" font-size="9" text-anchor="middle" stroke="#000" stroke-width="0.08">**</text>
<text x="397.9" y="207.73" font-size="9" text-anchor="middle" stroke="#000" stroke-width="0.08">*</text>
<text transform="translate(516.67,78.8) rotate(-90)" font-size="9.4" stroke="#000" stroke-width="0.08">DMSO</text>
<text transform="translate(533.57,78.8) rotate(-90)" font-size="9.4" stroke="#000" stroke-width="0.08">5 µM</text>
<text transform="translate(549.97,78.8) rotate(-90)" font-size="9.4" stroke="#000" stroke-width="0.08">15 µM</text>
<text transform="translate(566.77,78.8) rotate(-90)" font-size="9.4" stroke="#000" stroke-width="0.08">5 µM</text>
<text transform="translate(583.07,78.8) rotate(-90)" font-size="9.4" stroke="#000" stroke-width="0.08">15 µM</text>
<text transform="translate(603.07,78.8) rotate(-90)" font-size="9.4" stroke="#000" stroke-width="0.08">siLIMP-2</text>
<text transform="translate(619.87,78.8) rotate(-90)" font-size="9.4" stroke="#000" stroke-width="0.08">siControl</text>
<line x1="527.2" y1="49" x2="548.6" y2="49" stroke="#000" stroke-width="1.3"/>
<line x1="560.9" y1="49" x2="582.4" y2="49" stroke="#000" stroke-width="1.3"/>
<text transform="translate(541.77,45.2) rotate(-90)" font-size="9.4" stroke="#000" stroke-width="0.08">Tet</text>
<text transform="translate(575.97,43.4) rotate(-90)" font-size="9.4" stroke="#000" stroke-width="0.08">AD-Tet</text>
<text x="631.4" y="80.07" font-size="9.4" stroke="#000" stroke-width="0.08">kDa</text>
<rect x="502.3" y="82.4" width="123.9" height="15.1" fill="#f5f5f5"/>
<g clip-path="url(#cb3)"><g filter="url(#bb)">
<ellipse cx="511.6" cy="89.6" rx="7.06" ry="0.92" fill="#000" fill-opacity="0.8"/>
<ellipse cx="528.8" cy="89.6" rx="7.62" ry="1.38" fill="#000" fill-opacity="1"/>
<ellipse cx="546.5" cy="89.6" rx="7.62" ry="1.38" fill="#000" fill-opacity="1"/>
<ellipse cx="564.2" cy="89.6" rx="7.62" ry="1.38" fill="#000" fill-opacity="1"/>
<ellipse cx="581.9" cy="89.6" rx="7.62" ry="1.38" fill="#000" fill-opacity="0.95"/>
<ellipse cx="599.6" cy="89.6" rx="7.62" ry="1.38" fill="#000" fill-opacity="0.85"/>
<ellipse cx="617.3" cy="89.6" rx="7.62" ry="1.38" fill="#000" fill-opacity="0.65"/>
</g></g>
<rect x="502.95" y="83.05" width="122.6" height="13.8" fill="none" stroke="#111" stroke-width="1.3"/>
<rect x="502.3" y="99.5" width="123.9" height="14.9" fill="#f5f5f5"/>
<g clip-path="url(#cb4)"><g filter="url(#bb)">
<rect x="505.1" y="103.7" width="13.2" height="7" rx="2.4" ry="1.9" fill="#000" fill-opacity="1"/>
<rect x="522.3" y="104.4" width="13" height="4.8" rx="2.4" ry="1.82" fill="#000" fill-opacity="1"/>
<rect x="540" y="104" width="13" height="5.6" rx="2.4" ry="1.9" fill="#000" fill-opacity="1"/>
<rect x="557.7" y="103.8" width="13" height="6" rx="2.4" ry="1.9" fill="#000" fill-opacity="1"/>
<rect x="575.4" y="104" width="13" height="5.6" rx="2.4" ry="1.9" fill="#000" fill-opacity="1"/>
<rect x="593.1" y="105.1" width="13" height="3.4" rx="1.78" ry="1.29" fill="#000" fill-opacity="0.6"/>
<rect x="610.8" y="104.2" width="13" height="5.2" rx="2.4" ry="1.9" fill="#000" fill-opacity="1"/>
</g></g>
<rect x="502.95" y="100.15" width="122.6" height="13.6" fill="none" stroke="#111" stroke-width="1.3"/>
<rect x="502.3" y="116.1" width="123.9" height="14.7" fill="#f5f5f5"/>
<g clip-path="url(#cb5)"><g filter="url(#bb)">
<rect x="502.8" y="121.9" width="16.6" height="3.2" rx="1.67" ry="1.22" fill="#000" fill-opacity="1"/>
<rect x="520.5" y="121.9" width="16.6" height="3.2" rx="1.67" ry="1.22" fill="#000" fill-opacity="0.95"/>
<rect x="538.2" y="121.9" width="16.6" height="3.2" rx="1.67" ry="1.22" fill="#000" fill-opacity="0.95"/>
<rect x="555.9" y="121.9" width="16.6" height="3.2" rx="1.67" ry="1.22" fill="#000" fill-opacity="1"/>
<rect x="573.6" y="121.9" width="16.6" height="3.2" rx="1.67" ry="1.22" fill="#000" fill-opacity="0.95"/>
<rect x="591.3" y="121.4" width="16.6" height="4" rx="2.09" ry="1.52" fill="#000" fill-opacity="1"/>
<rect x="609" y="121.9" width="16.6" height="3.2" rx="1.67" ry="1.22" fill="#000" fill-opacity="1"/>
</g></g>
<rect x="502.95" y="116.75" width="122.6" height="13.4" fill="none" stroke="#111" stroke-width="1.3"/>
<text x="499.3" y="94.97" font-size="9.4" text-anchor="end" stroke="#000" stroke-width="0.08">n-SREBP2</text>
<text x="499.3" y="111.67" font-size="9.4" text-anchor="end" stroke="#000" stroke-width="0.08">LIMP-2</text>
<text x="499.3" y="128.07" font-size="9.4" text-anchor="end" stroke="#000" stroke-width="0.08">Actin</text>
<line x1="627.5" y1="94.7" x2="632.5" y2="94.7" stroke="#000" stroke-width="1.2"/>
<text x="634.1" y="98.37" font-size="9.4" stroke="#000" stroke-width="0.08">55</text>
<line x1="627.5" y1="112" x2="632.5" y2="112" stroke="#000" stroke-width="1.2"/>
<text x="634.1" y="115.67" font-size="9.4" stroke="#000" stroke-width="0.08">75</text>
<line x1="627.5" y1="128.5" x2="632.5" y2="128.5" stroke="#000" stroke-width="1.2"/>
<text x="634.1" y="132.17" font-size="9.4" stroke="#000" stroke-width="0.08">43</text>
<text x="505.4" y="183.99" font-size="8.9" font-weight="bold" text-anchor="end" stroke="#000" stroke-width="0.05">15 µM</text>
<text x="505.4" y="194.79" font-size="8.9" font-weight="bold" text-anchor="end" stroke="#000" stroke-width="0.05">24 hr</text>
<text x="505.4" y="232.99" font-size="8.9" font-weight="bold" text-anchor="end" stroke="#000" stroke-width="0.05">5 µM</text>
<text x="505.4" y="244.49" font-size="8.9" font-weight="bold" text-anchor="end" stroke="#000" stroke-width="0.05">24 hr</text>
<line x1="535" y1="165.6" x2="535" y2="200.2" stroke="#444" stroke-width="1"/>
<line x1="535" y1="200.2" x2="636" y2="200.2" stroke="#444" stroke-width="1"/>
<line x1="532.3" y1="200.2" x2="535" y2="200.2" stroke="#444" stroke-width="1"/>
<text x="531.8" y="202.67" font-size="6.9" font-weight="bold" text-anchor="end" stroke="#000" stroke-width="0.15">0</text>
<line x1="532.3" y1="185.4" x2="535" y2="185.4" stroke="#444" stroke-width="1"/>
<text x="531.8" y="187.87" font-size="6.9" font-weight="bold" text-anchor="end" stroke="#000" stroke-width="0.15">500</text>
<line x1="532.3" y1="170.6" x2="535" y2="170.6" stroke="#444" stroke-width="1"/>
<text x="531.8" y="173.07" font-size="6.9" font-weight="bold" text-anchor="end" stroke="#000" stroke-width="0.15">1000</text>
<rect x="537.9" y="181.61" width="9" height="18.59" fill="#3b55b0"/>
<text x="542.4" y="166.21" font-size="4.5" font-weight="bold" text-anchor="middle" stroke="#000" stroke-width="0.1">(628)</text>
<rect x="552.5" y="168.41" width="9" height="31.79" fill="#e82424"/>
<text x="557" y="166.21" font-size="4.5" font-weight="bold" text-anchor="middle" stroke="#000" stroke-width="0.1">(1074)</text>
<text x="571.6" y="166.21" font-size="4.5" font-weight="bold" text-anchor="middle" stroke="#000" stroke-width="0.1">(0)</text>
<rect x="581.7" y="178.24" width="9" height="21.96" fill="#000"/>
<text x="586.2" y="166.21" font-size="4.5" font-weight="bold" text-anchor="middle" stroke="#000" stroke-width="0.1">(742)</text>
<rect x="596.3" y="185.31" width="9" height="14.89" fill="#000"/>
<text x="600.8" y="166.21" font-size="4.5" font-weight="bold" text-anchor="middle" stroke="#000" stroke-width="0.1">(503)</text>
<rect x="610.9" y="191.7" width="9" height="8.5" fill="#000"/>
<text x="615.4" y="166.21" font-size="4.5" font-weight="bold" text-anchor="middle" stroke="#000" stroke-width="0.1">(287)</text>
<rect x="625.5" y="185.61" width="9" height="14.59" fill="#000"/>
<text x="630" y="166.21" font-size="4.5" font-weight="bold" text-anchor="middle" stroke="#000" stroke-width="0.1">(493)</text>
<line x1="535" y1="215.5" x2="535" y2="250.1" stroke="#444" stroke-width="1"/>
<line x1="535" y1="250.1" x2="636" y2="250.1" stroke="#444" stroke-width="1"/>
<line x1="532.3" y1="250.1" x2="535" y2="250.1" stroke="#444" stroke-width="1"/>
<text x="531.8" y="252.57" font-size="6.9" font-weight="bold" text-anchor="end" stroke="#000" stroke-width="0.15">0</text>
<line x1="532.3" y1="234.75" x2="535" y2="234.75" stroke="#444" stroke-width="1"/>
<text x="531.8" y="237.22" font-size="6.9" font-weight="bold" text-anchor="end" stroke="#000" stroke-width="0.15">100</text>
<line x1="532.3" y1="219.4" x2="535" y2="219.4" stroke="#444" stroke-width="1"/>
<text x="531.8" y="221.87" font-size="6.9" font-weight="bold" text-anchor="end" stroke="#000" stroke-width="0.15">200</text>
<rect x="537.9" y="247.49" width="9" height="2.61" fill="#3b55b0"/>
<text x="542.4" y="215.31" font-size="4.5" font-weight="bold" text-anchor="middle" stroke="#000" stroke-width="0.1">[17]</text>
<rect x="552.5" y="217.4" width="9" height="32.7" fill="#e82424"/>
<text x="557" y="215.31" font-size="4.5" font-weight="bold" text-anchor="middle" stroke="#000" stroke-width="0.1">(213)</text>
<text x="571.6" y="215.31" font-size="4.5" font-weight="bold" text-anchor="middle" stroke="#000" stroke-width="0.1">(0)</text>
<rect x="581.7" y="242.42" width="9" height="7.68" fill="#000"/>
<text x="586.2" y="215.31" font-size="4.5" font-weight="bold" text-anchor="middle" stroke="#000" stroke-width="0.1">(50)</text>
<rect x="596.3" y="236.13" width="9" height="13.97" fill="#000"/>
<text x="600.8" y="215.31" font-size="4.5" font-weight="bold" text-anchor="middle" stroke="#000" stroke-width="0.1">(91)</text>
<rect x="610.9" y="241.96" width="9" height="8.14" fill="#000"/>
<text x="615.4" y="215.31" font-size="4.5" font-weight="bold" text-anchor="middle" stroke="#000" stroke-width="0.1">(53)</text>
<rect x="625.5" y="223.85" width="9" height="26.25" fill="#000"/>
<text x="630" y="215.31" font-size="4.5" font-weight="bold" text-anchor="middle" stroke="#000" stroke-width="0.1">(171)</text>
<rect x="502" y="270.5" width="135.2" height="10.2" fill="#efefef"/>
<rect x="502" y="292.6" width="135.2" height="10.2" fill="#efefef"/>
<text x="527.6" y="267.42" font-size="9" font-weight="bold" text-anchor="end" stroke="#000" stroke-width="0.05">down</text>
<text x="527.6" y="278.82" font-size="9" font-weight="bold" text-anchor="end" stroke="#000" stroke-width="0.05">up</text>
<text x="527.6" y="289.62" font-size="9" font-weight="bold" text-anchor="end" stroke="#000" stroke-width="0.05">down</text>
<text x="527.6" y="300.72" font-size="9" font-weight="bold" text-anchor="end" stroke="#000" stroke-width="0.05">up</text>
<text x="493.4" y="275.06" font-size="10.5" font-weight="bold" text-anchor="end" stroke="#000" stroke-width="0.06">AD-Tet</text>
<text x="493.4" y="295.56" font-size="10.5" font-weight="bold" text-anchor="end" stroke="#000" stroke-width="0.06">Tet</text>
<polyline points="501.2,262 497.7,262 497.7,278.5 501.2,278.5" fill="none" stroke="#000" stroke-width="1.2"/>
<polyline points="501.2,284.7 497.7,284.7 497.7,300.7 501.2,300.7" fill="none" stroke="#000" stroke-width="1.2"/>
<circle cx="542.4" cy="275.6" r="3.8" fill="#cfcfcf"/>
<circle cx="542.4" cy="297.5" r="3.8" fill="#cfcfcf"/>
<line x1="542.4" y1="264.2" x2="542.4" y2="286.4" stroke="#3b55b0" stroke-width="1.1"/>
<circle cx="542.4" cy="264.2" r="3.8" fill="#3b55b0"/>
<circle cx="542.4" cy="286.4" r="3.8" fill="#3b55b0"/>
<circle cx="557" cy="264.2" r="3.8" fill="#cfcfcf"/>
<circle cx="557" cy="286.4" r="3.8" fill="#cfcfcf"/>
<line x1="557" y1="275.6" x2="557" y2="297.5" stroke="#e82424" stroke-width="1.1"/>
<circle cx="557" cy="275.6" r="3.8" fill="#e82424"/>
<circle cx="557" cy="297.5" r="3.8" fill="#e82424"/>
<circle cx="571.6" cy="275.6" r="3.8" fill="#cfcfcf"/>
<circle cx="571.6" cy="286.4" r="3.8" fill="#cfcfcf"/>
<line x1="571.6" y1="264.2" x2="571.6" y2="297.5" stroke="#000" stroke-width="1.1"/>
<circle cx="571.6" cy="264.2" r="3.8" fill="#000"/>
<circle cx="571.6" cy="297.5" r="3.8" fill="#000"/>
<circle cx="586.2" cy="275.6" r="3.8" fill="#cfcfcf"/>
<circle cx="586.2" cy="286.4" r="3.8" fill="#cfcfcf"/>
<circle cx="586.2" cy="297.5" r="3.8" fill="#cfcfcf"/>
<circle cx="586.2" cy="264.2" r="3.8" fill="#000"/>
<circle cx="600.8" cy="264.2" r="3.8" fill="#cfcfcf"/>
<circle cx="600.8" cy="286.4" r="3.8" fill="#cfcfcf"/>
<circle cx="600.8" cy="297.5" r="3.8" fill="#cfcfcf"/>
<circle cx="600.8" cy="275.6" r="3.8" fill="#000"/>
<circle cx="615.4" cy="264.2" r="3.8" fill="#cfcfcf"/>
<circle cx="615.4" cy="275.6" r="3.8" fill="#cfcfcf"/>
<circle cx="615.4" cy="297.5" r="3.8" fill="#cfcfcf"/>
<circle cx="615.4" cy="286.4" r="3.8" fill="#000"/>
<circle cx="630" cy="264.2" r="3.8" fill="#cfcfcf"/>
<circle cx="630" cy="275.6" r="3.8" fill="#cfcfcf"/>
<circle cx="630" cy="286.4" r="3.8" fill="#cfcfcf"/>
<circle cx="630" cy="297.5" r="3.8" fill="#000"/>
<text x="75.6" y="363.08" font-size="9.72" font-weight="bold" textLength="92.03" lengthAdjust="spacingAndGlyphs" stroke="#000" stroke-width="0.06">GO terms enrichment</text>
<text x="222.5" y="363.12" font-size="9.83" text-anchor="middle" textLength="64.41" lengthAdjust="spacingAndGlyphs" stroke="#000" stroke-width="0.09">Tet (5 µM), 24hr</text>
<rect x="181.5" y="371.2" width="84.1" height="127.2" fill="#fff"/>
<line x1="193.77" y1="371.2" x2="193.77" y2="498.4" stroke="#f3f3f3" stroke-width="0.5"/>
<line x1="220.92" y1="371.2" x2="220.92" y2="498.4" stroke="#f3f3f3" stroke-width="0.5"/>
<line x1="248.07" y1="371.2" x2="248.07" y2="498.4" stroke="#f3f3f3" stroke-width="0.5"/>
<line x1="207.35" y1="371.2" x2="207.35" y2="498.4" stroke="#e6e6e6" stroke-width="0.7"/>
<line x1="234.5" y1="371.2" x2="234.5" y2="498.4" stroke="#e6e6e6" stroke-width="0.7"/>
<line x1="261.65" y1="371.2" x2="261.65" y2="498.4" stroke="#e6e6e6" stroke-width="0.7"/>
<line x1="181.5" y1="378.5" x2="265.6" y2="378.5" stroke="#e6e6e6" stroke-width="0.7"/>
<line x1="181.5" y1="391.1" x2="265.6" y2="391.1" stroke="#e6e6e6" stroke-width="0.7"/>
<line x1="181.5" y1="403.5" x2="265.6" y2="403.5" stroke="#e6e6e6" stroke-width="0.7"/>
<line x1="181.5" y1="416" x2="265.6" y2="416" stroke="#e6e6e6" stroke-width="0.7"/>
<line x1="181.5" y1="428.5" x2="265.6" y2="428.5" stroke="#e6e6e6" stroke-width="0.7"/>
<line x1="181.5" y1="441" x2="265.6" y2="441" stroke="#e6e6e6" stroke-width="0.7"/>
<line x1="181.5" y1="453.4" x2="265.6" y2="453.4" stroke="#e6e6e6" stroke-width="0.7"/>
<line x1="181.5" y1="466" x2="265.6" y2="466" stroke="#e6e6e6" stroke-width="0.7"/>
<line x1="181.5" y1="478.5" x2="265.6" y2="478.5" stroke="#e6e6e6" stroke-width="0.7"/>
<line x1="181.5" y1="491" x2="265.6" y2="491" stroke="#e6e6e6" stroke-width="0.7"/>
<circle cx="261.7" cy="378.5" r="2" fill="#41f900"/>
<circle cx="261.7" cy="391.1" r="2" fill="#41f900"/>
<circle cx="229.5" cy="403.5" r="2.5" fill="#56f400"/>
<circle cx="226.5" cy="416" r="3.4" fill="#ff0000"/>
<circle cx="225" cy="428.5" r="3.9" fill="#cea300"/>
<circle cx="201" cy="441" r="2.9" fill="#56f400"/>
<circle cx="193.8" cy="453.4" r="2.9" fill="#6aee00"/>
<circle cx="186.8" cy="466" r="3.9" fill="#a8cb00"/>
<circle cx="186.2" cy="478.5" r="3.5" fill="#00ff00"/>
<circle cx="185.3" cy="491" r="4.1" fill="#a8cb00"/>
<rect x="181.5" y="371.2" width="84.1" height="127.2" fill="none" stroke="#333" stroke-width="0.8"/>
<line x1="179.5" y1="378.5" x2="181.5" y2="378.5" stroke="#333" stroke-width="0.7"/>
<text x="178.7" y="380.91" font-size="6.72" text-anchor="end" fill="#111" textLength="120.75" lengthAdjust="spacingAndGlyphs" stroke="#111" stroke-width="0.15">isopentenyl diphosphate biosynthetic process</text>
<line x1="179.5" y1="391.1" x2="181.5" y2="391.1" stroke="#333" stroke-width="0.7"/>
<text x="178.7" y="393.51" font-size="6.72" text-anchor="end" fill="#111" textLength="105.4" lengthAdjust="spacingAndGlyphs" stroke="#111" stroke-width="0.15">farnesyl diphosphate metabolic process</text>
<line x1="179.5" y1="403.5" x2="181.5" y2="403.5" stroke="#333" stroke-width="0.7"/>
<text x="178.7" y="405.91" font-size="6.72" text-anchor="end" fill="#111" textLength="88.05" lengthAdjust="spacingAndGlyphs" stroke="#111" stroke-width="0.15">sphingosine biosynthetic process</text>
<line x1="179.5" y1="416" x2="181.5" y2="416" stroke="#333" stroke-width="0.7"/>
<text x="178.7" y="418.41" font-size="6.72" text-anchor="end" fill="#111" textLength="119.74" lengthAdjust="spacingAndGlyphs" stroke="#111" stroke-width="0.15">regulation of cholesterol biosynthetic process</text>
<polygon points="37.2,413.4 47.63,413.4 47.63,410.4 53.5,416 47.63,421.6 47.63,418.6 37.2,418.6" fill="#fff" stroke="#ff1c1c" stroke-width="1.25"/>
<line x1="179.5" y1="428.5" x2="181.5" y2="428.5" stroke="#333" stroke-width="0.7"/>
<text x="178.7" y="430.91" font-size="6.72" text-anchor="end" fill="#111" textLength="85.04" lengthAdjust="spacingAndGlyphs" stroke="#111" stroke-width="0.15">cholesterol biosynthetic process</text>
<polygon points="72.3,425.9 82.73,425.9 82.73,422.9 88.6,428.5 82.73,434.1 82.73,431.1 72.3,431.1" fill="#fff" stroke="#ff1c1c" stroke-width="1.25"/>
<line x1="179.5" y1="441" x2="181.5" y2="441" stroke="#333" stroke-width="0.7"/>
<text x="178.7" y="443.41" font-size="6.72" text-anchor="end" fill="#111" textLength="108.06" lengthAdjust="spacingAndGlyphs" stroke="#111" stroke-width="0.15">low-density lipoprotein particle clearance</text>
<line x1="179.5" y1="453.4" x2="181.5" y2="453.4" stroke="#333" stroke-width="0.7"/>
<text x="178.7" y="455.81" font-size="6.72" text-anchor="end" fill="#111" textLength="90.73" lengthAdjust="spacingAndGlyphs" stroke="#111" stroke-width="0.15">cell adhesion mediated by integrin</text>
<line x1="179.5" y1="466" x2="181.5" y2="466" stroke="#333" stroke-width="0.7"/>
<text x="178.7" y="468.41" font-size="6.72" text-anchor="end" fill="#111" textLength="64.39" lengthAdjust="spacingAndGlyphs" stroke="#111" stroke-width="0.15">neutrophil degranulation</text>
<line x1="179.5" y1="478.5" x2="181.5" y2="478.5" stroke="#333" stroke-width="0.7"/>
<text x="178.7" y="480.91" font-size="6.72" text-anchor="end" fill="#111" textLength="84.71" lengthAdjust="spacingAndGlyphs" stroke="#111" stroke-width="0.15">extracellular matrix organization</text>
<line x1="179.5" y1="491" x2="181.5" y2="491" stroke="#333" stroke-width="0.7"/>
<text x="178.7" y="493.41" font-size="6.72" text-anchor="end" fill="#111" textLength="73.38" lengthAdjust="spacingAndGlyphs" stroke="#111" stroke-width="0.15">oxidation-reduction process</text>
<line x1="207.35" y1="498.4" x2="207.35" y2="500.4" stroke="#333" stroke-width="0.7"/>
<text x="207.35" y="506.06" font-size="6.3" text-anchor="middle" fill="#333" stroke="#333" stroke-width="0.14">20</text>
<line x1="234.5" y1="498.4" x2="234.5" y2="500.4" stroke="#333" stroke-width="0.7"/>
<text x="234.5" y="506.06" font-size="6.3" text-anchor="middle" fill="#333" stroke="#333" stroke-width="0.14">40</text>
<line x1="261.65" y1="498.4" x2="261.65" y2="500.4" stroke="#333" stroke-width="0.7"/>
<text x="261.65" y="506.06" font-size="6.3" text-anchor="middle" fill="#333" stroke="#333" stroke-width="0.14">60</text>
<text x="223.4" y="515.57" font-size="8.3" text-anchor="middle" stroke="#000" stroke-width="0.07">Enrichment</text>
<text x="275" y="384.6" font-size="6.15" stroke="#000" stroke-width="0.14">-log<tspan font-size="4.3" dy="1.3">10</tspan><tspan dy="-1.3">(pvalue)</tspan></text>
<rect x="275" y="388.6" width="10" height="50.1" fill="url(#g1)"/>
<line x1="275" y1="390.9" x2="276.6" y2="390.9" stroke="#fff" stroke-width="0.5"/>
<line x1="283.4" y1="390.9" x2="285" y2="390.9" stroke="#fff" stroke-width="0.5"/>
<text x="287.6" y="392.69" font-size="5" fill="#111" stroke="#111" stroke-width="0.11">1.2</text>
<line x1="275" y1="408" x2="276.6" y2="408" stroke="#fff" stroke-width="0.5"/>
<line x1="283.4" y1="408" x2="285" y2="408" stroke="#fff" stroke-width="0.5"/>
<text x="287.6" y="409.79" font-size="5" fill="#111" stroke="#111" stroke-width="0.11">1.0</text>
<line x1="275" y1="424.9" x2="276.6" y2="424.9" stroke="#fff" stroke-width="0.5"/>
<line x1="283.4" y1="424.9" x2="285" y2="424.9" stroke="#fff" stroke-width="0.5"/>
<text x="287.6" y="426.69" font-size="5" fill="#111" stroke="#111" stroke-width="0.11">0.8</text>
<text x="275" y="456.9" font-size="6.15" stroke="#000" stroke-width="0.14">count</text>
<circle cx="280.2" cy="465.3" r="3.1" fill="#000"/>
<text x="287.6" y="467.09" font-size="5" fill="#111" stroke="#111" stroke-width="0.11">10</text>
<circle cx="280.2" cy="475.2" r="3.75" fill="#000"/>
<text x="287.6" y="476.99" font-size="5" fill="#111" stroke="#111" stroke-width="0.11">20</text>
<circle cx="280.2" cy="485.2" r="4.2" fill="#000"/>
<text x="287.6" y="486.99" font-size="5" fill="#111" stroke="#111" stroke-width="0.11">30</text>
<text x="414.7" y="362.68" font-size="9.72" font-weight="bold" textLength="92.03" lengthAdjust="spacingAndGlyphs" stroke="#000" stroke-width="0.06">GO terms enrichment</text>
<text x="561.6" y="362.72" font-size="9.83" text-anchor="middle" textLength="80.08" lengthAdjust="spacingAndGlyphs" stroke="#000" stroke-width="0.09">AD-Tet (5 µM), 24hr</text>
<rect x="515" y="371.5" width="93.6" height="132.1" fill="#fff"/>
<line x1="529.58" y1="371.5" x2="529.58" y2="503.6" stroke="#f3f3f3" stroke-width="0.5"/>
<line x1="559.33" y1="371.5" x2="559.33" y2="503.6" stroke="#f3f3f3" stroke-width="0.5"/>
<line x1="589.08" y1="371.5" x2="589.08" y2="503.6" stroke="#f3f3f3" stroke-width="0.5"/>
<line x1="544.45" y1="371.5" x2="544.45" y2="503.6" stroke="#e6e6e6" stroke-width="0.7"/>
<line x1="574.2" y1="371.5" x2="574.2" y2="503.6" stroke="#e6e6e6" stroke-width="0.7"/>
<line x1="603.95" y1="371.5" x2="603.95" y2="503.6" stroke="#e6e6e6" stroke-width="0.7"/>
<line x1="515" y1="378.7" x2="608.6" y2="378.7" stroke="#e6e6e6" stroke-width="0.7"/>
<line x1="515" y1="391.7" x2="608.6" y2="391.7" stroke="#e6e6e6" stroke-width="0.7"/>
<line x1="515" y1="404.8" x2="608.6" y2="404.8" stroke="#e6e6e6" stroke-width="0.7"/>
<line x1="515" y1="417.6" x2="608.6" y2="417.6" stroke="#e6e6e6" stroke-width="0.7"/>
<line x1="515" y1="430.5" x2="608.6" y2="430.5" stroke="#e6e6e6" stroke-width="0.7"/>
<line x1="515" y1="443.6" x2="608.6" y2="443.6" stroke="#e6e6e6" stroke-width="0.7"/>
<line x1="515" y1="456.6" x2="608.6" y2="456.6" stroke="#e6e6e6" stroke-width="0.7"/>
<line x1="515" y1="469.7" x2="608.6" y2="469.7" stroke="#e6e6e6" stroke-width="0.7"/>
<line x1="515" y1="482.6" x2="608.6" y2="482.6" stroke="#e6e6e6" stroke-width="0.7"/>
<line x1="515" y1="495.4" x2="608.6" y2="495.4" stroke="#e6e6e6" stroke-width="0.7"/>
<circle cx="603.6" cy="378.7" r="2" fill="#7ae700"/>
<circle cx="578.2" cy="391.7" r="2" fill="#56f400"/>
<circle cx="555.5" cy="404.8" r="3.6" fill="#ff0000"/>
<circle cx="555.1" cy="417.6" r="4" fill="#d0a100"/>
<circle cx="541.1" cy="430.5" r="3" fill="#56f400"/>
<circle cx="533.7" cy="443.6" r="3" fill="#00ff00"/>
<circle cx="525.4" cy="456.6" r="3" fill="#56f400"/>
<circle cx="519.7" cy="469.7" r="3.3" fill="#2efc00"/>
<circle cx="519.7" cy="482.6" r="4" fill="#8adf00"/>
<circle cx="519" cy="495.4" r="4.5" fill="#81e400"/>
<rect x="515" y="371.5" width="93.6" height="132.1" fill="none" stroke="#333" stroke-width="0.8"/>
<line x1="513" y1="378.7" x2="515" y2="378.7" stroke="#333" stroke-width="0.7"/>
<text x="512.2" y="381.21" font-size="7.02" text-anchor="end" fill="#111" textLength="110.14" lengthAdjust="spacingAndGlyphs" stroke="#111" stroke-width="0.06">farnesyl diphosphate metabolic process</text>
<line x1="513" y1="391.7" x2="515" y2="391.7" stroke="#333" stroke-width="0.7"/>
<text x="512.2" y="394.21" font-size="7.02" text-anchor="end" fill="#111" textLength="100.03" lengthAdjust="spacingAndGlyphs" stroke="#111" stroke-width="0.06">cellular alcohol biosynthetic process</text>
<line x1="513" y1="404.8" x2="515" y2="404.8" stroke="#333" stroke-width="0.7"/>
<text x="512.2" y="407.31" font-size="7.02" text-anchor="end" fill="#111" textLength="125.12" lengthAdjust="spacingAndGlyphs" stroke="#111" stroke-width="0.06">regulation of cholesterol biosynthetic process</text>
<polygon points="364.6,402.2 375.74,402.2 375.74,399.2 382,404.8 375.74,410.4 375.74,407.4 364.6,407.4" fill="#fff" stroke="#ff1c1c" stroke-width="1.25"/>
<line x1="513" y1="417.6" x2="515" y2="417.6" stroke="#333" stroke-width="0.7"/>
<text x="512.2" y="420.11" font-size="7.02" text-anchor="end" fill="#111" textLength="88.87" lengthAdjust="spacingAndGlyphs" stroke="#111" stroke-width="0.06">cholesterol biosynthetic process</text>
<polygon points="401.2,415 412.34,415 412.34,412 418.6,417.6 412.34,423.2 412.34,420.2 401.2,420.2" fill="#fff" stroke="#ff1c1c" stroke-width="1.25"/>
<line x1="513" y1="430.5" x2="515" y2="430.5" stroke="#333" stroke-width="0.7"/>
<text x="512.2" y="433.01" font-size="7.02" text-anchor="end" fill="#111" textLength="82.59" lengthAdjust="spacingAndGlyphs" stroke="#111" stroke-width="0.06">acetyl-CoA metabolic process</text>
<line x1="513" y1="443.6" x2="515" y2="443.6" stroke="#333" stroke-width="0.7"/>
<text x="512.2" y="446.11" font-size="7.02" text-anchor="end" fill="#111" textLength="112.92" lengthAdjust="spacingAndGlyphs" stroke="#111" stroke-width="0.06">low-density lipoprotein particle clearance</text>
<line x1="513" y1="456.6" x2="515" y2="456.6" stroke="#333" stroke-width="0.7"/>
<text x="512.2" y="459.11" font-size="7.02" text-anchor="end" fill="#111" textLength="137.68" lengthAdjust="spacingAndGlyphs" stroke="#111" stroke-width="0.06">positive regulation of cold-induced thermogenesis</text>
<line x1="513" y1="469.7" x2="515" y2="469.7" stroke="#333" stroke-width="0.7"/>
<text x="512.2" y="472.21" font-size="7.02" text-anchor="end" fill="#111" textLength="93.76" lengthAdjust="spacingAndGlyphs" stroke="#111" stroke-width="0.06">phospholipid biosynthetic process</text>
<line x1="513" y1="482.6" x2="515" y2="482.6" stroke="#333" stroke-width="0.7"/>
<text x="512.2" y="485.11" font-size="7.02" text-anchor="end" fill="#111" textLength="67.28" lengthAdjust="spacingAndGlyphs" stroke="#111" stroke-width="0.06">neutrophil degranulation</text>
<line x1="513" y1="495.4" x2="515" y2="495.4" stroke="#333" stroke-width="0.7"/>
<text x="512.2" y="497.91" font-size="7.02" text-anchor="end" fill="#111" textLength="76.68" lengthAdjust="spacingAndGlyphs" stroke="#111" stroke-width="0.06">oxidation-reduction process</text>
<line x1="544.45" y1="503.6" x2="544.45" y2="505.6" stroke="#333" stroke-width="0.7"/>
<text x="544.45" y="511.36" font-size="6.58" text-anchor="middle" fill="#333" stroke="#333" stroke-width="0.14">20</text>
<line x1="574.2" y1="503.6" x2="574.2" y2="505.6" stroke="#333" stroke-width="0.7"/>
<text x="574.2" y="511.36" font-size="6.58" text-anchor="middle" fill="#333" stroke="#333" stroke-width="0.14">40</text>
<line x1="603.95" y1="503.6" x2="603.95" y2="505.6" stroke="#333" stroke-width="0.7"/>
<text x="603.95" y="511.36" font-size="6.58" text-anchor="middle" fill="#333" stroke="#333" stroke-width="0.14">60</text>
<text x="561.2" y="520.58" font-size="8.6" text-anchor="middle" stroke="#000" stroke-width="0.08">Enrichment</text>
<text x="617.9" y="385.69" font-size="6.4" stroke="#000" stroke-width="0.14">-log<tspan font-size="4.48" dy="1.3">10</tspan><tspan dy="-1.3">(pvalue)</tspan></text>
<rect x="618.4" y="389.7" width="9.8" height="51.5" fill="url(#g2)"/>
<line x1="618.4" y1="394.2" x2="620" y2="394.2" stroke="#fff" stroke-width="0.5"/>
<line x1="626.6" y1="394.2" x2="628.2" y2="394.2" stroke="#fff" stroke-width="0.5"/>
<text x="630.8" y="396.06" font-size="5.2" fill="#111" stroke="#111" stroke-width="0.11">1.1</text>
<line x1="618.4" y1="403.3" x2="620" y2="403.3" stroke="#fff" stroke-width="0.5"/>
<line x1="626.6" y1="403.3" x2="628.2" y2="403.3" stroke="#fff" stroke-width="0.5"/>
<text x="630.8" y="405.16" font-size="5.2" fill="#111" stroke="#111" stroke-width="0.11">1.0</text>
<line x1="618.4" y1="412.4" x2="620" y2="412.4" stroke="#fff" stroke-width="0.5"/>
<line x1="626.6" y1="412.4" x2="628.2" y2="412.4" stroke="#fff" stroke-width="0.5"/>
<text x="630.8" y="414.26" font-size="5.2" fill="#111" stroke="#111" stroke-width="0.11">0.9</text>
<line x1="618.4" y1="421.4" x2="620" y2="421.4" stroke="#fff" stroke-width="0.5"/>
<line x1="626.6" y1="421.4" x2="628.2" y2="421.4" stroke="#fff" stroke-width="0.5"/>
<text x="630.8" y="423.26" font-size="5.2" fill="#111" stroke="#111" stroke-width="0.11">0.8</text>
<line x1="618.4" y1="430.5" x2="620" y2="430.5" stroke="#fff" stroke-width="0.5"/>
<line x1="626.6" y1="430.5" x2="628.2" y2="430.5" stroke="#fff" stroke-width="0.5"/>
<text x="630.8" y="432.36" font-size="5.2" fill="#111" stroke="#111" stroke-width="0.11">0.7</text>
<line x1="618.4" y1="439.6" x2="620" y2="439.6" stroke="#fff" stroke-width="0.5"/>
<line x1="626.6" y1="439.6" x2="628.2" y2="439.6" stroke="#fff" stroke-width="0.5"/>
<text x="630.8" y="441.46" font-size="5.2" fill="#111" stroke="#111" stroke-width="0.11">0.6</text>
<text x="617.9" y="460.59" font-size="6.4" stroke="#000" stroke-width="0.14">count</text>
<circle cx="623.1" cy="468.7" r="3.3" fill="#000"/>
<text x="631.4" y="470.56" font-size="5.2" fill="#111" stroke="#111" stroke-width="0.11">10</text>
<circle cx="623.1" cy="479.2" r="3.85" fill="#000"/>
<text x="631.4" y="481.06" font-size="5.2" fill="#111" stroke="#111" stroke-width="0.11">20</text>
<circle cx="623.1" cy="489.4" r="4.35" fill="#000"/>
<text x="631.4" y="491.26" font-size="5.2" fill="#111" stroke="#111" stroke-width="0.11">30</text>
<text x="80.4" y="549.86" font-size="9.94" font-weight="bold" textLength="94.07" lengthAdjust="spacingAndGlyphs" stroke="#000" stroke-width="0.06">GO terms enrichment</text>
<text x="228.2" y="549.82" font-size="9.83" text-anchor="middle" textLength="69.47" lengthAdjust="spacingAndGlyphs" stroke="#000" stroke-width="0.09">Tet (15 µM), 24hr</text>
<rect x="183" y="559.9" width="90.1" height="132.5" fill="#fff"/>
<line x1="186.82" y1="559.9" x2="186.82" y2="692.4" stroke="#f3f3f3" stroke-width="0.5"/>
<line x1="208.47" y1="559.9" x2="208.47" y2="692.4" stroke="#f3f3f3" stroke-width="0.5"/>
<line x1="230.12" y1="559.9" x2="230.12" y2="692.4" stroke="#f3f3f3" stroke-width="0.5"/>
<line x1="251.78" y1="559.9" x2="251.78" y2="692.4" stroke="#f3f3f3" stroke-width="0.5"/>
<line x1="197.65" y1="559.9" x2="197.65" y2="692.4" stroke="#e6e6e6" stroke-width="0.7"/>
<line x1="219.3" y1="559.9" x2="219.3" y2="692.4" stroke="#e6e6e6" stroke-width="0.7"/>
<line x1="240.95" y1="559.9" x2="240.95" y2="692.4" stroke="#e6e6e6" stroke-width="0.7"/>
<line x1="262.6" y1="559.9" x2="262.6" y2="692.4" stroke="#e6e6e6" stroke-width="0.7"/>
<line x1="183" y1="567.5" x2="273.1" y2="567.5" stroke="#e6e6e6" stroke-width="0.7"/>
<line x1="183" y1="580.6" x2="273.1" y2="580.6" stroke="#e6e6e6" stroke-width="0.7"/>
<line x1="183" y1="593.6" x2="273.1" y2="593.6" stroke="#e6e6e6" stroke-width="0.7"/>
<line x1="183" y1="606.6" x2="273.1" y2="606.6" stroke="#e6e6e6" stroke-width="0.7"/>
<line x1="183" y1="619.6" x2="273.1" y2="619.6" stroke="#e6e6e6" stroke-width="0.7"/>
<line x1="183" y1="632.6" x2="273.1" y2="632.6" stroke="#e6e6e6" stroke-width="0.7"/>
<line x1="183" y1="645.6" x2="273.1" y2="645.6" stroke="#e6e6e6" stroke-width="0.7"/>
<line x1="183" y1="658.6" x2="273.1" y2="658.6" stroke="#e6e6e6" stroke-width="0.7"/>
<line x1="183" y1="671.6" x2="273.1" y2="671.6" stroke="#e6e6e6" stroke-width="0.7"/>
<line x1="183" y1="684.5" x2="273.1" y2="684.5" stroke="#e6e6e6" stroke-width="0.7"/>
<circle cx="268.8" cy="567.5" r="2.2" fill="#9dd300"/>
<circle cx="253.3" cy="580.6" r="1.9" fill="#38fa00"/>
<circle cx="227.6" cy="593.6" r="2.6" fill="#bbba00"/>
<circle cx="216.3" cy="606.6" r="3.2" fill="#ff0000"/>
<circle cx="215" cy="619.6" r="3" fill="#dd8d00"/>
<circle cx="214.4" cy="632.6" r="3.6" fill="#00ff00"/>
<circle cx="194.1" cy="645.6" r="3.2" fill="#00ff00"/>
<circle cx="189.7" cy="658.6" r="3.3" fill="#38fa00"/>
<circle cx="187.4" cy="671.6" r="4.3" fill="#81e400"/>
<circle cx="186.8" cy="684.5" r="3.6" fill="#38fa00"/>
<rect x="183" y="559.9" width="90.1" height="132.5" fill="none" stroke="#333" stroke-width="0.8"/>
<line x1="181" y1="567.5" x2="183" y2="567.5" stroke="#333" stroke-width="0.7"/>
<text x="180.2" y="570.02" font-size="7.03" text-anchor="end" fill="#111" textLength="81.33" lengthAdjust="spacingAndGlyphs" stroke="#111" stroke-width="0.06">L-serine biosynthetic process</text>
<line x1="181" y1="580.6" x2="183" y2="580.6" stroke="#333" stroke-width="0.7"/>
<text x="180.2" y="583.12" font-size="7.03" text-anchor="end" fill="#111" textLength="53.76" lengthAdjust="spacingAndGlyphs" stroke="#111" stroke-width="0.06">glutamine transport</text>
<line x1="181" y1="593.6" x2="183" y2="593.6" stroke="#333" stroke-width="0.7"/>
<text x="180.2" y="596.12" font-size="7.03" text-anchor="end" fill="#111" textLength="119.4" lengthAdjust="spacingAndGlyphs" stroke="#111" stroke-width="0.06">PERK-mediated unfolded protein response</text>
<polygon points="39.7,591 49.81,591 49.81,588 55.5,593.6 49.81,599.2 49.81,596.2 39.7,596.2" fill="#fff" stroke="#ff1c1c" stroke-width="1.25"/>
<line x1="181" y1="606.6" x2="183" y2="606.6" stroke="#333" stroke-width="0.7"/>
<text x="180.2" y="609.12" font-size="7.03" text-anchor="end" fill="#111" textLength="116.26" lengthAdjust="spacingAndGlyphs" stroke="#111" stroke-width="0.06">IRE1-mediated unfolded protein response</text>
<polygon points="43,604 53.3,604 53.3,601 59.1,606.6 53.3,612.2 53.3,609.2 43,609.2" fill="#fff" stroke="#ff1c1c" stroke-width="1.25"/>
<line x1="181" y1="619.6" x2="183" y2="619.6" stroke="#333" stroke-width="0.7"/>
<text x="180.2" y="622.12" font-size="7.03" text-anchor="end" fill="#111" textLength="125.32" lengthAdjust="spacingAndGlyphs" stroke="#111" stroke-width="0.06">regulation of cholesterol biosynthetic process</text>
<line x1="181" y1="632.6" x2="183" y2="632.6" stroke="#333" stroke-width="0.7"/>
<text x="180.2" y="635.12" font-size="7.03" text-anchor="end" fill="#111" textLength="136.85" lengthAdjust="spacingAndGlyphs" stroke="#111" stroke-width="0.06">endoplasmic reticulum unfolded protein response</text>
<polygon points="21.6,630 32.29,630 32.29,627 38.3,632.6 32.29,638.2 32.29,635.2 21.6,635.2" fill="#fff" stroke="#ff1c1c" stroke-width="1.25"/>
<line x1="181" y1="645.6" x2="183" y2="645.6" stroke="#333" stroke-width="0.7"/>
<text x="180.2" y="648.12" font-size="7.03" text-anchor="end" fill="#111" textLength="50.62" lengthAdjust="spacingAndGlyphs" stroke="#111" stroke-width="0.06">Golgi organization</text>
<line x1="181" y1="658.6" x2="183" y2="658.6" stroke="#333" stroke-width="0.7"/>
<text x="180.2" y="661.12" font-size="7.03" text-anchor="end" fill="#111" textLength="77.85" lengthAdjust="spacingAndGlyphs" stroke="#111" stroke-width="0.06">cellular response to hypoxia</text>
<line x1="181" y1="671.6" x2="183" y2="671.6" stroke="#333" stroke-width="0.7"/>
<text x="180.2" y="674.12" font-size="7.03" text-anchor="end" fill="#111" textLength="76.8" lengthAdjust="spacingAndGlyphs" stroke="#111" stroke-width="0.06">oxidation-reduction process</text>
<line x1="181" y1="684.5" x2="183" y2="684.5" stroke="#333" stroke-width="0.7"/>
<text x="180.2" y="687.02" font-size="7.03" text-anchor="end" fill="#111" textLength="104.37" lengthAdjust="spacingAndGlyphs" stroke="#111" stroke-width="0.06">cellular amino acid metabolic process</text>
<line x1="197.65" y1="692.4" x2="197.65" y2="694.4" stroke="#333" stroke-width="0.7"/>
<text x="197.65" y="700.56" font-size="6.59" text-anchor="middle" fill="#333" stroke="#333" stroke-width="0.15">20</text>
<line x1="219.3" y1="692.4" x2="219.3" y2="694.4" stroke="#333" stroke-width="0.7"/>
<text x="219.3" y="700.56" font-size="6.59" text-anchor="middle" fill="#333" stroke="#333" stroke-width="0.15">40</text>
<line x1="240.95" y1="692.4" x2="240.95" y2="694.4" stroke="#333" stroke-width="0.7"/>
<text x="240.95" y="700.56" font-size="6.59" text-anchor="middle" fill="#333" stroke="#333" stroke-width="0.15">60</text>
<line x1="262.6" y1="692.4" x2="262.6" y2="694.4" stroke="#333" stroke-width="0.7"/>
<text x="262.6" y="700.56" font-size="6.59" text-anchor="middle" fill="#333" stroke="#333" stroke-width="0.15">80</text>
<text x="228.3" y="710.1" font-size="8.65" text-anchor="middle" stroke="#000" stroke-width="0.08">Enrichment</text>
<text x="282.9" y="574.35" font-size="6.27" stroke="#000" stroke-width="0.14">-log<tspan font-size="4.39" dy="1.3">10</tspan><tspan dy="-1.3">(pvalue)</tspan></text>
<rect x="282.9" y="578.6" width="10.1" height="52.3" fill="url(#g3)"/>
<line x1="282.9" y1="581.9" x2="284.5" y2="581.9" stroke="#fff" stroke-width="0.5"/>
<line x1="291.4" y1="581.9" x2="293" y2="581.9" stroke="#fff" stroke-width="0.5"/>
<text x="295.6" y="583.73" font-size="5.1" fill="#111" stroke="#111" stroke-width="0.11">12</text>
<line x1="282.9" y1="595.3" x2="284.5" y2="595.3" stroke="#fff" stroke-width="0.5"/>
<line x1="291.4" y1="595.3" x2="293" y2="595.3" stroke="#fff" stroke-width="0.5"/>
<text x="295.6" y="597.13" font-size="5.1" fill="#111" stroke="#111" stroke-width="0.11">10</text>
<line x1="282.9" y1="608.7" x2="284.5" y2="608.7" stroke="#fff" stroke-width="0.5"/>
<line x1="291.4" y1="608.7" x2="293" y2="608.7" stroke="#fff" stroke-width="0.5"/>
<text x="295.6" y="610.53" font-size="5.1" fill="#111" stroke="#111" stroke-width="0.11">8</text>
<line x1="282.9" y1="621.8" x2="284.5" y2="621.8" stroke="#fff" stroke-width="0.5"/>
<line x1="291.4" y1="621.8" x2="293" y2="621.8" stroke="#fff" stroke-width="0.5"/>
<text x="295.6" y="623.63" font-size="5.1" fill="#111" stroke="#111" stroke-width="0.11">6</text>
<text x="282.9" y="649.65" font-size="6.27" stroke="#000" stroke-width="0.14">count</text>
<circle cx="287.7" cy="658.1" r="3.2" fill="#000"/>
<text x="296.4" y="659.93" font-size="5.1" fill="#111" stroke="#111" stroke-width="0.11">30</text>
<circle cx="287.7" cy="668.5" r="3.8" fill="#000"/>
<text x="296.4" y="670.33" font-size="5.1" fill="#111" stroke="#111" stroke-width="0.11">60</text>
<circle cx="287.7" cy="678.9" r="4.3" fill="#000"/>
<text x="296.4" y="680.73" font-size="5.1" fill="#111" stroke="#111" stroke-width="0.11">90</text>
<text x="429.2" y="550.26" font-size="9.94" font-weight="bold" textLength="94.07" lengthAdjust="spacingAndGlyphs" stroke="#000" stroke-width="0.06">GO terms enrichment</text>
<text x="580.8" y="550.22" font-size="9.83" text-anchor="middle" textLength="85.15" lengthAdjust="spacingAndGlyphs" stroke="#000" stroke-width="0.09">AD-Tet (15 µM), 24hr</text>
<rect x="532.3" y="560" width="97.8" height="142.2" fill="#fff"/>
<line x1="537.27" y1="560" x2="537.27" y2="702.2" stroke="#f3f3f3" stroke-width="0.5"/>
<line x1="570.02" y1="560" x2="570.02" y2="702.2" stroke="#f3f3f3" stroke-width="0.5"/>
<line x1="602.77" y1="560" x2="602.77" y2="702.2" stroke="#f3f3f3" stroke-width="0.5"/>
<line x1="553.65" y1="560" x2="553.65" y2="702.2" stroke="#e6e6e6" stroke-width="0.7"/>
<line x1="586.4" y1="560" x2="586.4" y2="702.2" stroke="#e6e6e6" stroke-width="0.7"/>
<line x1="619.15" y1="560" x2="619.15" y2="702.2" stroke="#e6e6e6" stroke-width="0.7"/>
<line x1="532.3" y1="568.1" x2="630.1" y2="568.1" stroke="#e6e6e6" stroke-width="0.7"/>
<line x1="532.3" y1="582.3" x2="630.1" y2="582.3" stroke="#e6e6e6" stroke-width="0.7"/>
<line x1="532.3" y1="596.3" x2="630.1" y2="596.3" stroke="#e6e6e6" stroke-width="0.7"/>
<line x1="532.3" y1="610.3" x2="630.1" y2="610.3" stroke="#e6e6e6" stroke-width="0.7"/>
<line x1="532.3" y1="624.2" x2="630.1" y2="624.2" stroke="#e6e6e6" stroke-width="0.7"/>
<line x1="532.3" y1="638.3" x2="630.1" y2="638.3" stroke="#e6e6e6" stroke-width="0.7"/>
<line x1="532.3" y1="652.3" x2="630.1" y2="652.3" stroke="#e6e6e6" stroke-width="0.7"/>
<line x1="532.3" y1="666.3" x2="630.1" y2="666.3" stroke="#e6e6e6" stroke-width="0.7"/>
<line x1="532.3" y1="680.3" x2="630.1" y2="680.3" stroke="#e6e6e6" stroke-width="0.7"/>
<line x1="532.3" y1="694.1" x2="630.1" y2="694.1" stroke="#e6e6e6" stroke-width="0.7"/>
<circle cx="625" cy="568.1" r="2.2" fill="#a4ce00"/>
<circle cx="602.6" cy="582.3" r="2" fill="#00ff00"/>
<circle cx="598.7" cy="596.3" r="2.7" fill="#a4ce00"/>
<circle cx="579.6" cy="610.3" r="2.9" fill="#b8bd00"/>
<circle cx="576.3" cy="624.2" r="3" fill="#ff0000"/>
<circle cx="574" cy="638.3" r="3" fill="#d99400"/>
<circle cx="572.2" cy="652.3" r="3.7" fill="#bdb800"/>
<circle cx="567.1" cy="666.3" r="3.3" fill="#c9ab00"/>
<circle cx="539.9" cy="680.3" r="4" fill="#98d700"/>
<circle cx="536.8" cy="694.1" r="4.7" fill="#98d700"/>
<rect x="532.3" y="560" width="97.8" height="142.2" fill="none" stroke="#333" stroke-width="0.8"/>
<line x1="530.3" y1="568.1" x2="532.3" y2="568.1" stroke="#333" stroke-width="0.7"/>
<text x="529.5" y="570.82" font-size="7.59" text-anchor="end" fill="#111" textLength="142.82" lengthAdjust="spacingAndGlyphs" stroke="#111" stroke-width="0.07">UDP-N-acetylglucosamine biosynthetic process</text>
<line x1="530.3" y1="582.3" x2="532.3" y2="582.3" stroke="#333" stroke-width="0.7"/>
<text x="529.5" y="581.72" font-size="7.59" text-anchor="end" fill="#111" textLength="203.87" lengthAdjust="spacingAndGlyphs" stroke="#111" stroke-width="0.07">positive regulation of transcription from RNA polymerase II promoter</text>
<text x="529.5" y="588.32" font-size="7.59" text-anchor="end" fill="#111" textLength="131.9" lengthAdjust="spacingAndGlyphs" stroke="#111" stroke-width="0.07">in response to endoplasmic reticulum stress</text>
<line x1="530.3" y1="596.3" x2="532.3" y2="596.3" stroke="#333" stroke-width="0.7"/>
<text x="529.5" y="599.02" font-size="7.59" text-anchor="end" fill="#111" textLength="128.9" lengthAdjust="spacingAndGlyphs" stroke="#111" stroke-width="0.07">PERK-mediated unfolded protein response</text>
<polygon points="379.4,593.7 390.09,593.7 390.09,590.7 396.1,596.3 390.09,601.9 390.09,598.9 379.4,598.9" fill="#fff" stroke="#ff1c1c" stroke-width="1.25"/>
<line x1="530.3" y1="610.3" x2="532.3" y2="610.3" stroke="#333" stroke-width="0.7"/>
<text x="529.5" y="613.02" font-size="7.59" text-anchor="end" fill="#111" textLength="84.04" lengthAdjust="spacingAndGlyphs" stroke="#111" stroke-width="0.07">neutral amino acid transport</text>
<line x1="530.3" y1="624.2" x2="532.3" y2="624.2" stroke="#333" stroke-width="0.7"/>
<text x="529.5" y="626.92" font-size="7.59" text-anchor="end" fill="#111" textLength="135.3" lengthAdjust="spacingAndGlyphs" stroke="#111" stroke-width="0.07">regulation of cholesterol biosynthetic process</text>
<line x1="530.3" y1="638.3" x2="532.3" y2="638.3" stroke="#333" stroke-width="0.7"/>
<text x="529.5" y="641.02" font-size="7.59" text-anchor="end" fill="#111" textLength="115.33" lengthAdjust="spacingAndGlyphs" stroke="#111" stroke-width="0.07">cellular response to glucose starvation</text>
<line x1="530.3" y1="652.3" x2="532.3" y2="652.3" stroke="#333" stroke-width="0.7"/>
<text x="529.5" y="655.02" font-size="7.59" text-anchor="end" fill="#111" textLength="147.74" lengthAdjust="spacingAndGlyphs" stroke="#111" stroke-width="0.07">endoplasmic reticulum unfolded protein response</text>
<polygon points="360.1,649.7 371.04,649.7 371.04,646.7 377.2,652.3 371.04,657.9 371.04,654.9 360.1,654.9" fill="#fff" stroke="#ff1c1c" stroke-width="1.25"/>
<line x1="530.3" y1="666.3" x2="532.3" y2="666.3" stroke="#333" stroke-width="0.7"/>
<text x="529.5" y="669.02" font-size="7.59" text-anchor="end" fill="#111" textLength="125.51" lengthAdjust="spacingAndGlyphs" stroke="#111" stroke-width="0.07">IRE1-mediated unfolded protein response</text>
<polygon points="383.3,663.7 394.18,663.7 394.18,660.7 400.3,666.3 394.18,671.9 394.18,668.9 383.3,668.9" fill="#fff" stroke="#ff1c1c" stroke-width="1.25"/>
<line x1="530.3" y1="680.3" x2="532.3" y2="680.3" stroke="#333" stroke-width="0.7"/>
<text x="529.5" y="683.02" font-size="7.59" text-anchor="end" fill="#111" textLength="112.68" lengthAdjust="spacingAndGlyphs" stroke="#111" stroke-width="0.07">cellular amino acid metabolic process</text>
<line x1="530.3" y1="694.1" x2="532.3" y2="694.1" stroke="#333" stroke-width="0.7"/>
<text x="529.5" y="696.82" font-size="7.59" text-anchor="end" fill="#111" textLength="82.92" lengthAdjust="spacingAndGlyphs" stroke="#111" stroke-width="0.07">oxidation-reduction process</text>
<line x1="553.65" y1="702.2" x2="553.65" y2="704.2" stroke="#333" stroke-width="0.7"/>
<text x="553.65" y="711.25" font-size="7.12" text-anchor="middle" fill="#333" stroke="#333" stroke-width="0.06">20</text>
<line x1="586.4" y1="702.2" x2="586.4" y2="704.2" stroke="#333" stroke-width="0.7"/>
<text x="586.4" y="711.25" font-size="7.12" text-anchor="middle" fill="#333" stroke="#333" stroke-width="0.06">40</text>
<line x1="619.15" y1="702.2" x2="619.15" y2="704.2" stroke="#333" stroke-width="0.7"/>
<text x="619.15" y="711.25" font-size="7.12" text-anchor="middle" fill="#333" stroke="#333" stroke-width="0.06">60</text>
<text x="580.2" y="720.73" font-size="9.3" text-anchor="middle" stroke="#000" stroke-width="0.08">Enrichment</text>
<text x="640.3" y="570" font-size="6.7" stroke="#000" stroke-width="0.15">-log<tspan font-size="4.69" dy="1.3">10</tspan><tspan dy="-1.3">(pvalue)</tspan></text>
<rect x="640.3" y="574.7" width="11.3" height="55.8" fill="url(#g4)"/>
<line x1="640.3" y1="583.4" x2="641.9" y2="583.4" stroke="#fff" stroke-width="0.5"/>
<line x1="650" y1="583.4" x2="651.6" y2="583.4" stroke="#fff" stroke-width="0.5"/>
<text x="654.2" y="585.35" font-size="5.45" fill="#111" stroke="#111" stroke-width="0.12">8.0</text>
<line x1="640.3" y1="592.2" x2="641.9" y2="592.2" stroke="#fff" stroke-width="0.5"/>
<line x1="650" y1="592.2" x2="651.6" y2="592.2" stroke="#fff" stroke-width="0.5"/>
<text x="654.2" y="594.15" font-size="5.45" fill="#111" stroke="#111" stroke-width="0.12">7.5</text>
<line x1="640.3" y1="601" x2="641.9" y2="601" stroke="#fff" stroke-width="0.5"/>
<line x1="650" y1="601" x2="651.6" y2="601" stroke="#fff" stroke-width="0.5"/>
<text x="654.2" y="602.95" font-size="5.45" fill="#111" stroke="#111" stroke-width="0.12">7.0</text>
<line x1="640.3" y1="609.8" x2="641.9" y2="609.8" stroke="#fff" stroke-width="0.5"/>
<line x1="650" y1="609.8" x2="651.6" y2="609.8" stroke="#fff" stroke-width="0.5"/>
<text x="654.2" y="611.75" font-size="5.45" fill="#111" stroke="#111" stroke-width="0.12">6.5</text>
<line x1="640.3" y1="618.7" x2="641.9" y2="618.7" stroke="#fff" stroke-width="0.5"/>
<line x1="650" y1="618.7" x2="651.6" y2="618.7" stroke="#fff" stroke-width="0.5"/>
<text x="654.2" y="620.65" font-size="5.45" fill="#111" stroke="#111" stroke-width="0.12">6.0</text>
<line x1="640.3" y1="627.5" x2="641.9" y2="627.5" stroke="#fff" stroke-width="0.5"/>
<line x1="650" y1="627.5" x2="651.6" y2="627.5" stroke="#fff" stroke-width="0.5"/>
<text x="654.2" y="629.45" font-size="5.45" fill="#111" stroke="#111" stroke-width="0.12">5.5</text>
<text x="640.3" y="650.8" font-size="6.7" stroke="#000" stroke-width="0.15">count</text>
<circle cx="645.6" cy="660" r="3.2" fill="#000"/>
<text x="654.6" y="661.95" font-size="5.45" fill="#111" stroke="#111" stroke-width="0.12">25</text>
<circle cx="645.6" cy="671" r="3.6" fill="#000"/>
<text x="654.6" y="672.95" font-size="5.45" fill="#111" stroke="#111" stroke-width="0.12">50</text>
<circle cx="645.6" cy="682" r="4.1" fill="#000"/>
<text x="654.6" y="683.95" font-size="5.45" fill="#111" stroke="#111" stroke-width="0.12">75</text>
<circle cx="645.6" cy="693.4" r="4.6" fill="#000"/>
<text x="654.6" y="695.35" font-size="5.45" fill="#111" stroke="#111" stroke-width="0.12">100</text>
<text transform="translate(63.56,781.2) rotate(-90)" font-size="9.1" stroke="#000" stroke-width="0.08">DMSO</text>
<text transform="translate(79.16,781.2) rotate(-90)" font-size="9.1" stroke="#000" stroke-width="0.08">5 µM</text>
<text transform="translate(93.16,781.2) rotate(-90)" font-size="9.1" stroke="#000" stroke-width="0.08">15 µM</text>
<text transform="translate(108.36,781.2) rotate(-90)" font-size="9.1" stroke="#000" stroke-width="0.08">siLIMP-2</text>
<text transform="translate(123.56,781.2) rotate(-90)" font-size="9.1" stroke="#000" stroke-width="0.08">siControl</text>
<text transform="translate(139.26,781.2) rotate(-90)" font-size="9.1" stroke="#000" stroke-width="0.08">TG</text>
<line x1="72.9" y1="752.1" x2="91.3" y2="752.1" stroke="#000" stroke-width="1.3"/>
<text x="82.4" y="749.41" font-size="8.4" text-anchor="middle" stroke="#000" stroke-width="0.08">Tet</text>
<text x="153.4" y="782.06" font-size="9.1" stroke="#000" stroke-width="0.08">kDa</text>
<rect x="50.3" y="784.9" width="97.5" height="15.7" fill="#f5f5f5"/>
<g clip-path="url(#cb6)"><g filter="url(#bb)">
<ellipse cx="61.3" cy="793" rx="4.48" ry="1.38" fill="#000" fill-opacity="0.03"/>
<ellipse cx="77.7" cy="793" rx="3.58" ry="1.49" fill="#000" fill-opacity="0.13"/>
<rect x="84.2" y="791.1" width="11.2" height="5.8" rx="2.4" ry="1.9" fill="#000" fill-opacity="1"/>
<rect x="100.6" y="791.9" width="10" height="3.2" rx="1.67" ry="1.22" fill="#000" fill-opacity="0.16"/>
<ellipse cx="123.2" cy="793.5" rx="4.03" ry="1.49" fill="#000" fill-opacity="0.13"/>
<rect x="129.6" y="790.2" width="12.8" height="6" rx="2.4" ry="1.9" fill="#000" fill-opacity="1"/>
</g></g>
<rect x="50.95" y="785.55" width="96.2" height="14.4" fill="none" stroke="#111" stroke-width="1.3"/>
<rect x="50.3" y="802.2" width="97.5" height="16.3" fill="#f5f5f5"/>
<g clip-path="url(#cb7)"><g filter="url(#bb)">
<rect x="55.4" y="806.9" width="11.8" height="6.6" rx="2.4" ry="1.9" fill="#000" fill-opacity="1"/>
<rect x="70.3" y="806.9" width="11.8" height="6.6" rx="2.4" ry="1.9" fill="#000" fill-opacity="1"/>
<rect x="85.1" y="806.9" width="11.8" height="6.6" rx="2.4" ry="1.9" fill="#000" fill-opacity="1"/>
<rect x="100.2" y="806.9" width="11.8" height="6.6" rx="2.4" ry="1.9" fill="#000" fill-opacity="1"/>
<rect x="115.3" y="806.9" width="11.8" height="6.6" rx="2.4" ry="1.9" fill="#000" fill-opacity="1"/>
<rect x="130.1" y="806.8" width="12.8" height="6.8" rx="2.4" ry="1.9" fill="#000" fill-opacity="1"/>
</g></g>
<rect x="50.95" y="802.85" width="96.2" height="15" fill="none" stroke="#111" stroke-width="1.3"/>
<rect x="50.3" y="820.5" width="97.5" height="18.5" fill="#f5f5f5"/>
<g clip-path="url(#cb8)"><g filter="url(#bb)">
<rect x="55.3" y="826.5" width="12" height="6.6" rx="2.4" ry="1.9" fill="#000" fill-opacity="1"/>
<rect x="70.2" y="826.5" width="12" height="6.6" rx="2.4" ry="1.9" fill="#000" fill-opacity="1"/>
<rect x="85" y="826.5" width="12" height="6.6" rx="2.4" ry="1.9" fill="#000" fill-opacity="1"/>
<ellipse cx="106.1" cy="829.8" rx="4.48" ry="0.92" fill="#000" fill-opacity="0.12"/>
<rect x="115.8" y="825.8" width="11.8" height="8.2" rx="2.4" ry="1.9" fill="#000" fill-opacity="1"/>
<rect x="131.1" y="826.3" width="11.8" height="6.4" rx="2.4" ry="1.9" fill="#000" fill-opacity="1"/>
</g></g>
<rect x="50.95" y="821.15" width="96.2" height="17.2" fill="none" stroke="#111" stroke-width="1.3"/>
<rect x="50.3" y="841" width="97.5" height="15.4" fill="#f5f5f5"/>
<g clip-path="url(#cb9)"><g filter="url(#bb)">
<rect x="54.1" y="847" width="14.4" height="4.4" rx="2.3" ry="1.67" fill="#000" fill-opacity="1"/>
<rect x="69" y="847" width="14.4" height="4.4" rx="2.3" ry="1.67" fill="#000" fill-opacity="1"/>
<rect x="83.8" y="847" width="14.4" height="4.4" rx="2.3" ry="1.67" fill="#000" fill-opacity="1"/>
<rect x="98.9" y="847" width="14.4" height="4.4" rx="2.3" ry="1.67" fill="#000" fill-opacity="1"/>
<rect x="114" y="847" width="14.4" height="4.4" rx="2.3" ry="1.67" fill="#000" fill-opacity="1"/>
<rect x="129.3" y="847" width="14.4" height="4.4" rx="2.3" ry="1.67" fill="#000" fill-opacity="1"/>
</g></g>
<rect x="50.95" y="841.65" width="96.2" height="14.1" fill="none" stroke="#111" stroke-width="1.3"/>
<rect x="50.3" y="861.2" width="97.5" height="15.3" fill="#060606"/>
<g clip-path="url(#cb10)"><g filter="url(#bb)">
<rect x="53.9" y="866.5" width="12.8" height="3.2" rx="1.67" ry="1.22" fill="#fff" fill-opacity="0.95"/>
<rect x="69.1" y="866.5" width="12.8" height="3.2" rx="1.67" ry="1.22" fill="#fff" fill-opacity="0.95"/>
<rect x="84.3" y="866.4" width="12.6" height="2.6" rx="1.36" ry="0.99" fill="#fff" fill-opacity="0.85"/>
<rect x="84.3" y="870.3" width="12.6" height="2.2" rx="1.15" ry="0.84" fill="#fff" fill-opacity="0.75"/>
<rect x="99.6" y="866.5" width="12.8" height="3.2" rx="1.67" ry="1.22" fill="#fff" fill-opacity="0.95"/>
<rect x="115" y="866.5" width="12.8" height="3.2" rx="1.67" ry="1.22" fill="#fff" fill-opacity="0.95"/>
<rect x="130.7" y="866.8" width="12.6" height="1.8" rx="0.94" ry="0.68" fill="#fff" fill-opacity="0.35"/>
<rect x="130.4" y="869.5" width="13.2" height="3.8" rx="1.99" ry="1.44" fill="#fff" fill-opacity="1"/>
</g></g>
<rect x="50.95" y="861.85" width="96.2" height="14" fill="none" stroke="#000" stroke-width="1.3"/>
<text x="47.8" y="795.93" font-size="9.3" text-anchor="end" stroke="#000" stroke-width="0.08">p-eIF2α</text>
<text x="47.8" y="813.33" font-size="9.3" text-anchor="end" stroke="#000" stroke-width="0.08">Total-eIF2α</text>
<text x="47.8" y="832.93" font-size="9.3" text-anchor="end" stroke="#000" stroke-width="0.08">LIMP-2</text>
<text x="47.8" y="852.33" font-size="9.3" text-anchor="end" stroke="#000" stroke-width="0.08">Actin</text>
<text x="47.8" y="871.93" font-size="9.3" text-anchor="end" stroke="#000" stroke-width="0.08">XBP1</text>
<line x1="149" y1="798.5" x2="154.1" y2="798.5" stroke="#000" stroke-width="1.2"/>
<text x="156.4" y="801.96" font-size="9.1" stroke="#000" stroke-width="0.08">33</text>
<line x1="149" y1="817" x2="154.1" y2="817" stroke="#000" stroke-width="1.2"/>
<text x="156.4" y="820.46" font-size="9.1" stroke="#000" stroke-width="0.08">33</text>
<line x1="149" y1="836.4" x2="154.1" y2="836.4" stroke="#000" stroke-width="1.2"/>
<text x="156.4" y="839.86" font-size="9.1" stroke="#000" stroke-width="0.08">75</text>
<line x1="149" y1="852.5" x2="154.1" y2="852.5" stroke="#000" stroke-width="1.2"/>
<text x="156.4" y="855.96" font-size="9.1" stroke="#000" stroke-width="0.08">43</text>
<line x1="148" y1="867.6" x2="157.5" y2="862" stroke="#000" stroke-width="0.9"/>
<line x1="148" y1="870.5" x2="157.5" y2="876" stroke="#000" stroke-width="0.9"/>
<text x="157.7" y="865.63" font-size="9.3" stroke="#000" stroke-width="0.08">Unspliced XBP1</text>
<text x="158.4" y="878.13" font-size="9.3" stroke="#000" stroke-width="0.08">Spliced XBP1</text>
<text transform="translate(303.46,803.4) rotate(-90)" font-size="9.1" stroke="#000" stroke-width="0.08">DMSO</text>
<text transform="translate(316.76,803.4) rotate(-90)" font-size="9.1" stroke="#000" stroke-width="0.08">5 µM</text>
<text transform="translate(330.06,803.4) rotate(-90)" font-size="9.1" stroke="#000" stroke-width="0.08">15 µM</text>
<text transform="translate(343.26,803.4) rotate(-90)" font-size="9.1" stroke="#000" stroke-width="0.08">5 µM</text>
<text transform="translate(357.06,803.4) rotate(-90)" font-size="9.1" stroke="#000" stroke-width="0.08">15 µM</text>
<text transform="translate(372.96,803.4) rotate(-90)" font-size="9.1" stroke="#000" stroke-width="0.08">siLIMP-2</text>
<text transform="translate(386.26,803.4) rotate(-90)" font-size="9.1" stroke="#000" stroke-width="0.08">siControl</text>
<text transform="translate(399.96,803.4) rotate(-90)" font-size="9.1" stroke="#000" stroke-width="0.08">TG</text>
<line x1="309.7" y1="774.2" x2="327.5" y2="774.2" stroke="#000" stroke-width="1.3"/>
<line x1="337.4" y1="774.2" x2="355.4" y2="774.2" stroke="#000" stroke-width="1.3"/>
<text transform="translate(322.56,770.1) rotate(-90)" font-size="9.1" stroke="#000" stroke-width="0.08">Tet</text>
<text transform="translate(350.86,770.1) rotate(-90)" font-size="9.1" stroke="#000" stroke-width="0.08">AD-Tet</text>
<text x="412.2" y="804.26" font-size="9.1" stroke="#000" stroke-width="0.08">kDa</text>
<rect x="291.2" y="806.4" width="115.6" height="12.2" fill="#f5f5f5"/>
<g clip-path="url(#cb11)"><g filter="url(#bb)">
<ellipse cx="298.5" cy="812.1" rx="5.6" ry="1.26" fill="#000" fill-opacity="0.3"/>
<ellipse cx="312.57" cy="812.1" rx="5.6" ry="1.26" fill="#000" fill-opacity="0.3"/>
<ellipse cx="327.04" cy="812.1" rx="5.6" ry="1.15" fill="#000" fill-opacity="1"/>
<ellipse cx="340.71" cy="812.1" rx="5.6" ry="1.26" fill="#000" fill-opacity="0.22"/>
<ellipse cx="354.38" cy="812.1" rx="5.6" ry="1.15" fill="#000" fill-opacity="1"/>
<ellipse cx="368.85" cy="812.1" rx="5.6" ry="1.26" fill="#000" fill-opacity="0.3"/>
<ellipse cx="382.92" cy="812.1" rx="5.6" ry="1.26" fill="#000" fill-opacity="0.3"/>
<ellipse cx="396.99" cy="812.2" rx="6.72" ry="1.38" fill="#000" fill-opacity="1"/>
</g></g>
<rect x="291.85" y="807.05" width="114.3" height="10.9" fill="none" stroke="#111" stroke-width="1.3"/>
<rect x="291.2" y="819.5" width="115.6" height="12" fill="#f5f5f5"/>
<g clip-path="url(#cb12)"><g filter="url(#bb)">
<rect x="293" y="821.8" width="11" height="7.6" rx="2.4" ry="1.9" fill="#000" fill-opacity="1"/>
<rect x="307.07" y="821.8" width="11" height="7.6" rx="2.4" ry="1.9" fill="#000" fill-opacity="1"/>
<rect x="321.14" y="821.8" width="11" height="7.6" rx="2.4" ry="1.9" fill="#000" fill-opacity="1"/>
<rect x="335.01" y="821.4" width="11.4" height="8.6" rx="2.4" ry="1.9" fill="#000" fill-opacity="1"/>
<rect x="349.28" y="821.8" width="11" height="7.6" rx="2.4" ry="1.9" fill="#000" fill-opacity="1"/>
<rect x="364.05" y="822.9" width="9.6" height="2.8" rx="1.46" ry="1.06" fill="#000" fill-opacity="0.3"/>
<rect x="377.12" y="821" width="11.6" height="8.6" rx="2.4" ry="1.9" fill="#000" fill-opacity="1"/>
<rect x="390.89" y="820.9" width="13.2" height="8.8" rx="2.4" ry="1.9" fill="#000" fill-opacity="1"/>
</g></g>
<rect x="291.85" y="820.15" width="114.3" height="10.7" fill="none" stroke="#111" stroke-width="1.3"/>
<rect x="291.2" y="833.3" width="115.6" height="11.1" fill="#f5f5f5"/>
<g clip-path="url(#cb13)"><g filter="url(#bb)">
<rect x="292.3" y="837.1" width="12.4" height="4.2" rx="2.19" ry="1.6" fill="#000" fill-opacity="1"/>
<rect x="306.37" y="837.1" width="12.4" height="4.2" rx="2.19" ry="1.6" fill="#000" fill-opacity="1"/>
<rect x="320.44" y="837.1" width="12.4" height="4.2" rx="2.19" ry="1.6" fill="#000" fill-opacity="1"/>
<rect x="334.51" y="837.1" width="12.4" height="4.2" rx="2.19" ry="1.6" fill="#000" fill-opacity="1"/>
<rect x="348.58" y="837.1" width="12.4" height="4.2" rx="2.19" ry="1.6" fill="#000" fill-opacity="1"/>
<rect x="362.65" y="837.1" width="12.4" height="4.2" rx="2.19" ry="1.6" fill="#000" fill-opacity="1"/>
<rect x="376.72" y="837.1" width="12.4" height="4.2" rx="2.19" ry="1.6" fill="#000" fill-opacity="1"/>
<rect x="389.99" y="836.9" width="14" height="4.2" rx="2.19" ry="1.6" fill="#000" fill-opacity="1"/>
</g></g>
<rect x="291.85" y="833.95" width="114.3" height="9.8" fill="none" stroke="#111" stroke-width="1.3"/>
<text x="288.3" y="815.83" font-size="9.3" text-anchor="end" stroke="#000" stroke-width="0.08">Cleaved PARP</text>
<text x="288.3" y="829.23" font-size="9.3" text-anchor="end" stroke="#000" stroke-width="0.08">LIMP-2</text>
<text x="288.3" y="841.93" font-size="9.3" text-anchor="end" stroke="#000" stroke-width="0.08">Actin</text>
<line x1="407.6" y1="810" x2="412.4" y2="810" stroke="#000" stroke-width="1.2"/>
<text x="414.2" y="813.46" font-size="9.1" stroke="#000" stroke-width="0.08">95</text>
<line x1="407.6" y1="831.4" x2="412.4" y2="831.4" stroke="#000" stroke-width="1.2"/>
<text x="414.2" y="834.86" font-size="9.1" stroke="#000" stroke-width="0.08">75</text>
<line x1="407.6" y1="843" x2="412.4" y2="843" stroke="#000" stroke-width="1.2"/>
<text x="414.2" y="846.46" font-size="9.1" stroke="#000" stroke-width="0.08">43</text>
<rect x="455.6" y="750.3" width="65.6" height="65.9" fill="#fff"/>
<g filter="url(#b05)"><path fill="#0c18fc" d="M492,770h1v1h-1zM493,770h1v1h-1zM494,770h1v1h-1zM495,770h1v1h-1zM490,771h1v1h-1zM496,771h1v1h-1zM497,771h1v1h-1zM498,771h1v1h-1zM499,771h1v1h-1zM497,772h1v1h-1zM498,772h1v1h-1zM499,772h1v1h-1zM500,772h1v1h-1zM501,772h1v1h-1zM502,772h1v1h-1zM489,773h1v1h-1zM497,773h1v1h-1zM498,773h1v1h-1zM489,774h1v1h-1zM496,774h1v1h-1zM489,775h1v1h-1zM494,775h1v1h-1zM493,776h1v1h-1zM492,777h1v1h-1zM490,779h1v1h-1zM491,779h1v1h-1zM490,780h1v1h-1zM491,780h1v1h-1zM501,780h1v1h-1zM489,781h1v1h-1zM492,781h1v1h-1zM500,781h1v1h-1zM501,781h1v1h-1zM493,782h1v1h-1zM499,782h1v1h-1zM500,782h1v1h-1zM498,783h1v1h-1zM499,783h1v1h-1zM497,784h1v1h-1zM498,784h1v1h-1zM499,784h1v1h-1zM485,785h1v1h-1zM494,785h1v1h-1zM496,785h1v1h-1zM497,785h1v1h-1zM498,785h1v1h-1zM495,786h1v1h-1zM496,786h1v1h-1zM497,786h1v1h-1zM498,786h1v1h-1zM496,787h1v1h-1zM497,787h1v1h-1zM496,788h1v1h-1zM497,788h1v1h-1zM496,789h1v1h-1zM496,790h1v1h-1zM495,792h1v1h-1zM494,794h1v1h-1zM485,795h1v1h-1zM485,796h1v1h-1zM493,796h1v1h-1zM485,797h1v1h-1zM493,797h1v1h-1zM485,798h1v1h-1zM485,799h1v1h-1zM492,799h1v1h-1zM492,800h1v1h-1zM492,801h1v1h-1zM486,803h1v1h-1zM491,803h1v1h-1zM486,804h1v1h-1zM491,804h1v1h-1zM486,805h1v1h-1zM490,806h1v1h-1zM490,807h1v1h-1zM487,808h1v1h-1zM490,808h1v1h-1zM487,809h1v1h-1zM489,809h1v1h-1zM487,810h1v1h-1zM488,810h1v1h-1zM489,810h1v1h-1zM488,811h1v1h-1z"/><path fill="#0c0cfc" d="M496,770h1v1h-1zM500,771h1v1h-1zM501,771h1v1h-1zM502,771h1v1h-1zM503,771h1v1h-1zM503,772h1v1h-1zM499,773h1v1h-1zM502,773h1v1h-1zM503,773h1v1h-1zM503,775h1v1h-1zM489,776h1v1h-1zM503,776h1v1h-1zM489,777h1v1h-1zM503,777h1v1h-1zM492,778h1v1h-1zM502,778h1v1h-1zM501,779h1v1h-1zM502,779h1v1h-1zM492,780h1v1h-1zM500,780h1v1h-1zM487,782h1v1h-1zM486,783h1v1h-1zM500,783h1v1h-1zM494,784h1v1h-1zM495,785h1v1h-1zM499,785h1v1h-1zM485,800h1v1h-1zM491,805h1v1h-1zM486,806h1v1h-1zM489,811h1v1h-1z"/><path fill="#0024fc" d="M491,771h1v1h-1zM494,771h1v1h-1zM495,771h1v1h-1zM490,772h1v1h-1zM496,772h1v1h-1zM496,773h1v1h-1zM495,774h1v1h-1zM490,775h1v1h-1zM493,775h1v1h-1zM490,776h1v1h-1zM492,776h1v1h-1zM490,777h1v1h-1zM491,777h1v1h-1zM491,778h1v1h-1zM490,781h1v1h-1zM491,781h1v1h-1zM487,783h1v1h-1zM493,783h1v1h-1zM486,784h1v1h-1zM493,784h1v1h-1zM494,786h1v1h-1zM485,787h1v1h-1zM494,787h1v1h-1zM495,787h1v1h-1zM485,788h1v1h-1zM495,788h1v1h-1zM485,789h1v1h-1zM495,789h1v1h-1zM485,790h1v1h-1zM495,790h1v1h-1zM485,791h1v1h-1zM485,792h1v1h-1zM485,793h1v1h-1zM494,793h1v1h-1zM485,794h1v1h-1zM493,795h1v1h-1zM492,797h1v1h-1zM492,798h1v1h-1zM486,799h1v1h-1zM486,800h1v1h-1zM486,801h1v1h-1zM491,801h1v1h-1zM486,802h1v1h-1zM491,802h1v1h-1zM487,804h1v1h-1zM490,804h1v1h-1zM487,805h1v1h-1zM490,805h1v1h-1zM487,806h1v1h-1zM488,806h1v1h-1zM489,806h1v1h-1zM488,807h1v1h-1zM489,807h1v1h-1zM488,808h1v1h-1zM489,808h1v1h-1z"/><path fill="#0030fc" d="M492,771h1v1h-1zM493,771h1v1h-1zM494,772h1v1h-1zM495,772h1v1h-1zM490,773h1v1h-1zM495,773h1v1h-1zM490,774h1v1h-1zM494,774h1v1h-1zM491,775h1v1h-1zM492,775h1v1h-1zM491,776h1v1h-1zM489,782h1v1h-1zM492,782h1v1h-1zM488,783h1v1h-1zM487,784h1v1h-1zM486,785h1v1h-1zM493,785h1v1h-1zM494,788h1v1h-1zM494,789h1v1h-1zM494,790h1v1h-1zM494,791h1v1h-1zM494,792h1v1h-1zM493,793h1v1h-1zM486,794h1v1h-1zM493,794h1v1h-1zM486,795h1v1h-1zM492,795h1v1h-1zM486,796h1v1h-1zM492,796h1v1h-1zM486,797h1v1h-1zM486,798h1v1h-1zM491,798h1v1h-1zM491,799h1v1h-1zM491,800h1v1h-1zM487,801h1v1h-1zM490,801h1v1h-1zM487,802h1v1h-1zM490,802h1v1h-1zM487,803h1v1h-1zM488,803h1v1h-1zM489,803h1v1h-1zM490,803h1v1h-1zM488,804h1v1h-1zM489,804h1v1h-1zM488,805h1v1h-1zM489,805h1v1h-1z"/><path fill="#003cfc" d="M491,772h1v1h-1zM494,773h1v1h-1zM490,782h1v1h-1zM491,782h1v1h-1zM486,786h1v1h-1zM493,786h1v1h-1zM486,793h1v1h-1zM487,800h1v1h-1z"/><path fill="#006cfc" d="M492,772h1v1h-1zM492,774h1v1h-1zM489,783h1v1h-1zM493,789h1v1h-1zM486,790h1v1h-1zM493,790h1v1h-1zM493,791h1v1h-1zM487,797h1v1h-1z"/><path fill="#0060fc" d="M493,772h1v1h-1zM491,773h1v1h-1zM486,787h1v1h-1zM493,788h1v1h-1zM486,791h1v1h-1zM491,796h1v1h-1zM487,798h1v1h-1zM490,799h1v1h-1zM488,801h1v1h-1zM489,801h1v1h-1z"/><path fill="#0090fc" d="M492,773h1v1h-1zM487,795h1v1h-1zM489,799h1v1h-1z"/><path fill="#0078fc" d="M493,773h1v1h-1zM487,785h1v1h-1zM486,788h1v1h-1zM486,789h1v1h-1zM487,796h1v1h-1zM488,800h1v1h-1zM489,800h1v1h-1z"/><path fill="#0054fc" d="M491,774h1v1h-1zM493,787h1v1h-1zM486,792h1v1h-1zM493,792h1v1h-1zM492,794h1v1h-1z"/><path fill="#0048fc" d="M493,774h1v1h-1zM492,783h1v1h-1zM491,797h1v1h-1zM487,799h1v1h-1zM490,800h1v1h-1zM488,802h1v1h-1zM489,802h1v1h-1z"/><path fill="#0c24fc" d="M490,778h1v1h-1zM488,782h1v1h-1zM485,786h1v1h-1zM495,791h1v1h-1zM487,807h1v1h-1zM488,809h1v1h-1z"/><path fill="#009cfc" d="M490,783h1v1h-1zM491,783h1v1h-1zM487,794h1v1h-1zM490,797h1v1h-1zM488,798h1v1h-1z"/><path fill="#0084fc" d="M488,784h1v1h-1zM492,784h1v1h-1zM492,793h1v1h-1zM491,795h1v1h-1zM490,798h1v1h-1zM488,799h1v1h-1z"/><path fill="#00c0f0" d="M489,784h1v1h-1zM492,786h1v1h-1zM492,791h1v1h-1zM487,792h1v1h-1zM491,793h1v1h-1zM490,795h1v1h-1zM489,796h1v1h-1z"/><path fill="#00e4e4" d="M490,784h1v1h-1zM487,790h1v1h-1zM491,792h1v1h-1zM488,793h1v1h-1zM489,794h1v1h-1z"/><path fill="#00d8f0" d="M491,784h1v1h-1zM488,794h1v1h-1zM490,794h1v1h-1zM489,795h1v1h-1z"/><path fill="#00ccf0" d="M488,785h1v1h-1zM492,787h1v1h-1zM492,788h1v1h-1zM492,789h1v1h-1zM492,790h1v1h-1zM487,791h1v1h-1zM488,795h1v1h-1z"/><path fill="#0ce49c" d="M489,785h1v1h-1z"/><path fill="#18e46c" d="M490,785h1v1h-1zM491,786h1v1h-1zM489,792h1v1h-1z"/><path fill="#0ce4b4" d="M491,785h1v1h-1zM491,791h1v1h-1zM488,792h1v1h-1z"/><path fill="#00a8fc" d="M492,785h1v1h-1zM492,792h1v1h-1zM487,793h1v1h-1zM491,794h1v1h-1zM490,796h1v1h-1zM488,797h1v1h-1zM489,798h1v1h-1z"/><path fill="#00b4f0" d="M487,786h1v1h-1zM488,796h1v1h-1zM489,797h1v1h-1z"/><path fill="#0ce490" d="M488,786h1v1h-1z"/><path fill="#48f030" d="M489,786h1v1h-1zM488,789h1v1h-1z"/><path fill="#54f024" d="M490,786h1v1h-1zM490,790h1v1h-1z"/><path fill="#00d8e4" d="M487,787h1v1h-1z"/><path fill="#30f048" d="M488,787h1v1h-1zM488,790h1v1h-1z"/><path fill="#84f00c" d="M489,787h1v1h-1zM490,787h1v1h-1z"/><path fill="#24f054" d="M491,787h1v1h-1zM491,788h1v1h-1zM490,791h1v1h-1z"/><path fill="#00e4d8" d="M487,788h1v1h-1zM487,789h1v1h-1z"/><path fill="#54f030" d="M488,788h1v1h-1z"/><path fill="#b4f000" d="M489,788h1v1h-1z"/><path fill="#90f00c" d="M490,788h1v1h-1z"/><path fill="#9cf00c" d="M489,789h1v1h-1z"/><path fill="#78f00c" d="M490,789h1v1h-1z"/><path fill="#24f060" d="M491,789h1v1h-1z"/><path fill="#6cf018" d="M489,790h1v1h-1z"/><path fill="#18e484" d="M491,790h1v1h-1z"/><path fill="#18e478" d="M488,791h1v1h-1z"/><path fill="#3cf03c" d="M489,791h1v1h-1z"/><path fill="#18e490" d="M490,792h1v1h-1z"/><path fill="#0ce4a8" d="M489,793h1v1h-1z"/><path fill="#00e4cc" d="M490,793h1v1h-1z"/><path fill="#2030ff" fill-opacity="0.75" d="M502.14,766.06h0.9v0.9h-0.9zM506.07,766.33h0.9v0.9h-0.9zM498.13,767.09h0.9v0.9h-0.9zM501.07,767.14h0.9v0.9h-0.9zM506.23,767.13h0.9v0.9h-0.9zM507.18,767.39h0.9v0.9h-0.9zM508.06,767.27h0.9v0.9h-0.9zM497.22,768.31h0.9v0.9h-0.9zM502.11,768.32h0.9v0.9h-0.9zM506.31,768.3h0.9v0.9h-0.9zM489.13,769.13h0.9v0.9h-0.9zM492.1,769.09h0.9v0.9h-0.9zM493.05,769h0.9v0.9h-0.9zM495.18,769.23h0.9v0.9h-0.9zM496.07,769.03h0.9v0.9h-0.9zM497.12,769.29h0.9v0.9h-0.9zM498.37,769.14h0.9v0.9h-0.9zM501.07,769.23h0.9v0.9h-0.9zM503.31,769.17h0.9v0.9h-0.9zM505.19,769.36h0.9v0.9h-0.9zM506.1,769.01h0.9v0.9h-0.9zM507.11,769.28h0.9v0.9h-0.9zM508.16,769.08h0.9v0.9h-0.9zM489.29,770.39h0.9v0.9h-0.9zM491.32,770.35h0.9v0.9h-0.9zM497.05,770.08h0.9v0.9h-0.9zM498.35,770.26h0.9v0.9h-0.9zM500.13,770.3h0.9v0.9h-0.9zM501.16,770.27h0.9v0.9h-0.9zM502.02,770.17h0.9v0.9h-0.9zM503.25,770.13h0.9v0.9h-0.9zM504.24,770.1h0.9v0.9h-0.9zM505.01,770.37h0.9v0.9h-0.9zM508.25,770.29h0.9v0.9h-0.9zM510.06,770.06h0.9v0.9h-0.9zM488.33,771.17h0.9v0.9h-0.9zM489.24,771.22h0.9v0.9h-0.9zM504.24,771.13h0.9v0.9h-0.9zM506.28,771.31h0.9v0.9h-0.9zM488.21,772.38h0.9v0.9h-0.9zM489,772.19h0.9v0.9h-0.9zM504.31,772.14h0.9v0.9h-0.9zM506.3,772.04h0.9v0.9h-0.9zM507.05,772.02h0.9v0.9h-0.9zM488.06,773.07h0.9v0.9h-0.9zM500.37,773.06h0.9v0.9h-0.9zM501.31,773.1h0.9v0.9h-0.9zM505.25,773.14h0.9v0.9h-0.9zM488.26,774.16h0.9v0.9h-0.9zM498.23,774.16h0.9v0.9h-0.9zM501.09,774.1h0.9v0.9h-0.9zM502.17,774.09h0.9v0.9h-0.9zM503.3,774.26h0.9v0.9h-0.9zM504.4,774.09h0.9v0.9h-0.9zM505.06,774.35h0.9v0.9h-0.9zM507.3,774.33h0.9v0.9h-0.9zM495.27,775.24h0.9v0.9h-0.9zM496.23,775.35h0.9v0.9h-0.9zM497.35,775.14h0.9v0.9h-0.9zM500.35,775.4h0.9v0.9h-0.9zM501.01,775.04h0.9v0.9h-0.9zM504.36,775.06h0.9v0.9h-0.9zM506.07,775.27h0.9v0.9h-0.9zM507.14,775.37h0.9v0.9h-0.9zM488.09,776.32h0.9v0.9h-0.9zM495.2,776.09h0.9v0.9h-0.9zM497.01,776.4h0.9v0.9h-0.9zM500.19,776.05h0.9v0.9h-0.9zM501.07,776.27h0.9v0.9h-0.9zM502.3,776.2h0.9v0.9h-0.9zM504.14,776.2h0.9v0.9h-0.9zM506.09,776.39h0.9v0.9h-0.9zM488.11,777.03h0.9v0.9h-0.9zM493.2,777.16h0.9v0.9h-0.9zM496.28,777.26h0.9v0.9h-0.9zM502.16,777.13h0.9v0.9h-0.9zM504.39,777.15h0.9v0.9h-0.9zM505.16,777.06h0.9v0.9h-0.9zM507.24,777.37h0.9v0.9h-0.9zM488.1,778.08h0.9v0.9h-0.9zM489.34,778.31h0.9v0.9h-0.9zM494.28,778.13h0.9v0.9h-0.9zM499.3,778.34h0.9v0.9h-0.9zM500.24,778.4h0.9v0.9h-0.9zM501.25,778.3h0.9v0.9h-0.9zM503.28,778.16h0.9v0.9h-0.9zM504.25,778.27h0.9v0.9h-0.9zM505.25,778.22h0.9v0.9h-0.9zM506.25,778.11h0.9v0.9h-0.9zM489.06,779.37h0.9v0.9h-0.9zM492.21,779.21h0.9v0.9h-0.9zM504.15,779.33h0.9v0.9h-0.9zM506.06,779.1h0.9v0.9h-0.9zM507.14,779.32h0.9v0.9h-0.9zM486.16,780.4h0.9v0.9h-0.9zM488.19,780.32h0.9v0.9h-0.9zM489.06,780.27h0.9v0.9h-0.9zM493.21,780.1h0.9v0.9h-0.9zM497.08,780.23h0.9v0.9h-0.9zM498.07,780.29h0.9v0.9h-0.9zM499.13,780.1h0.9v0.9h-0.9zM502.04,780.25h0.9v0.9h-0.9zM504.17,780.32h0.9v0.9h-0.9zM507.18,780.15h0.9v0.9h-0.9zM493.15,781.23h0.9v0.9h-0.9zM495.39,781.28h0.9v0.9h-0.9zM498.03,781.3h0.9v0.9h-0.9zM499.21,781.2h0.9v0.9h-0.9zM504.24,781.19h0.9v0.9h-0.9zM486.2,782.2h0.9v0.9h-0.9zM497.02,782.27h0.9v0.9h-0.9zM498.31,782.31h0.9v0.9h-0.9zM501.09,782.03h0.9v0.9h-0.9zM503.04,782.3h0.9v0.9h-0.9zM505.27,782.28h0.9v0.9h-0.9zM484.28,783.17h0.9v0.9h-0.9zM497.13,783.21h0.9v0.9h-0.9zM501.4,783.11h0.9v0.9h-0.9zM502.13,783.1h0.9v0.9h-0.9zM483.12,784.35h0.9v0.9h-0.9zM495.08,784.02h0.9v0.9h-0.9zM496.15,784.19h0.9v0.9h-0.9zM500.23,784.15h0.9v0.9h-0.9zM502.37,784.22h0.9v0.9h-0.9zM503.13,784.21h0.9v0.9h-0.9zM484.32,785.12h0.9v0.9h-0.9zM499.17,786.26h0.9v0.9h-0.9zM500.35,786.03h0.9v0.9h-0.9zM484.27,787.27h0.9v0.9h-0.9zM498.08,787.34h0.9v0.9h-0.9zM499.37,787.08h0.9v0.9h-0.9zM500.04,787.31h0.9v0.9h-0.9zM484.06,788.02h0.9v0.9h-0.9zM499.33,788.12h0.9v0.9h-0.9zM500.23,788.13h0.9v0.9h-0.9zM483.34,789.06h0.9v0.9h-0.9zM484.39,789.16h0.9v0.9h-0.9zM497.15,789.26h0.9v0.9h-0.9zM498.22,789.04h0.9v0.9h-0.9zM482.33,790.05h0.9v0.9h-0.9zM484.19,791.35h0.9v0.9h-0.9zM496.22,791.04h0.9v0.9h-0.9zM497.11,791.36h0.9v0.9h-0.9zM482.24,792.39h0.9v0.9h-0.9zM483.38,792.26h0.9v0.9h-0.9zM484.13,792.18h0.9v0.9h-0.9zM496.3,792.07h0.9v0.9h-0.9zM499.22,792.04h0.9v0.9h-0.9zM484.01,793.21h0.9v0.9h-0.9zM495.26,793.05h0.9v0.9h-0.9zM483.38,794.13h0.9v0.9h-0.9zM497.04,794.35h0.9v0.9h-0.9zM484.19,795.07h0.9v0.9h-0.9zM494.2,795.15h0.9v0.9h-0.9zM495.16,795.08h0.9v0.9h-0.9zM496.1,795.35h0.9v0.9h-0.9zM483.38,796.2h0.9v0.9h-0.9zM494.28,796.09h0.9v0.9h-0.9zM496.11,796.01h0.9v0.9h-0.9zM483.36,797.03h0.9v0.9h-0.9zM484.09,797.24h0.9v0.9h-0.9zM496.1,797.24h0.9v0.9h-0.9zM483.25,798.28h0.9v0.9h-0.9zM493.32,798.18h0.9v0.9h-0.9zM495.38,798.16h0.9v0.9h-0.9zM482.1,799.29h0.9v0.9h-0.9zM484.14,799.06h0.9v0.9h-0.9zM493.09,799.13h0.9v0.9h-0.9zM485.04,801.29h0.9v0.9h-0.9zM493.06,801.39h0.9v0.9h-0.9zM492.33,802.32h0.9v0.9h-0.9zM485.38,803.21h0.9v0.9h-0.9zM493.39,803.31h0.9v0.9h-0.9zM484.18,804.09h0.9v0.9h-0.9zM485.36,804.27h0.9v0.9h-0.9zM494.26,805.33h0.9v0.9h-0.9zM492.2,806.01h0.9v0.9h-0.9zM493.32,806.17h0.9v0.9h-0.9zM485.14,807.34h0.9v0.9h-0.9zM486.12,807.04h0.9v0.9h-0.9zM491.28,807.18h0.9v0.9h-0.9zM484.33,808.07h0.9v0.9h-0.9zM485.38,808.14h0.9v0.9h-0.9zM486.36,808.24h0.9v0.9h-0.9zM490.33,809.06h0.9v0.9h-0.9zM492.07,809.38h0.9v0.9h-0.9zM485.14,810.04h0.9v0.9h-0.9zM486.34,810.21h0.9v0.9h-0.9zM490.37,810.36h0.9v0.9h-0.9zM492.25,810.18h0.9v0.9h-0.9zM487.21,811.27h0.9v0.9h-0.9zM485.33,812.27h0.9v0.9h-0.9zM487.3,812.36h0.9v0.9h-0.9zM488.3,812.01h0.9v0.9h-0.9zM489.05,812.38h0.9v0.9h-0.9zM491.24,812.23h0.9v0.9h-0.9zM492.16,812.3h0.9v0.9h-0.9zM487.22,813.17h0.9v0.9h-0.9zM488.06,814.23h0.9v0.9h-0.9zM488.3,815.07h0.9v0.9h-0.9zM490.12,815.15h0.9v0.9h-0.9z"/></g>
<rect x="455.6" y="750.3" width="65.6" height="65.9" fill="none" stroke="#666" stroke-width="0.6"/>
<line x1="495.3" y1="750.3" x2="495.3" y2="816.2" stroke="#111" stroke-width="0.9"/>
<line x1="455.6" y1="779.5" x2="521.2" y2="779.5" stroke="#111" stroke-width="0.9"/>
<line x1="453.2" y1="813.2" x2="455.6" y2="813.2" stroke="#222" stroke-width="0.7"/>
<line x1="454.4" y1="811.06" x2="455.6" y2="811.06" stroke="#555" stroke-width="0.4"/>
<line x1="454.4" y1="808.92" x2="455.6" y2="808.92" stroke="#555" stroke-width="0.4"/>
<line x1="454.4" y1="806.78" x2="455.6" y2="806.78" stroke="#555" stroke-width="0.4"/>
<text x="452" y="814.2" font-size="2.8" font-weight="bold" text-anchor="end" fill="#222" stroke="#222" stroke-width="0.06">10<tspan font-size="2" dy="-1.2">0</tspan></text>
<line x1="453.2" y1="804.64" x2="455.6" y2="804.64" stroke="#222" stroke-width="0.7"/>
<line x1="454.4" y1="802.5" x2="455.6" y2="802.5" stroke="#555" stroke-width="0.4"/>
<line x1="454.4" y1="800.36" x2="455.6" y2="800.36" stroke="#555" stroke-width="0.4"/>
<line x1="454.4" y1="798.23" x2="455.6" y2="798.23" stroke="#555" stroke-width="0.4"/>
<text x="452" y="805.65" font-size="2.8" font-weight="bold" text-anchor="end" fill="#222" stroke="#222" stroke-width="0.06">10<tspan font-size="2" dy="-1.2">1</tspan></text>
<line x1="453.2" y1="796.09" x2="455.6" y2="796.09" stroke="#222" stroke-width="0.7"/>
<line x1="454.4" y1="793.95" x2="455.6" y2="793.95" stroke="#555" stroke-width="0.4"/>
<line x1="454.4" y1="791.81" x2="455.6" y2="791.81" stroke="#555" stroke-width="0.4"/>
<line x1="454.4" y1="789.67" x2="455.6" y2="789.67" stroke="#555" stroke-width="0.4"/>
<text x="452" y="797.09" font-size="2.8" font-weight="bold" text-anchor="end" fill="#222" stroke="#222" stroke-width="0.06">10<tspan font-size="2" dy="-1.2">2</tspan></text>
<line x1="453.2" y1="787.53" x2="455.6" y2="787.53" stroke="#222" stroke-width="0.7"/>
<line x1="454.4" y1="785.39" x2="455.6" y2="785.39" stroke="#555" stroke-width="0.4"/>
<line x1="454.4" y1="783.25" x2="455.6" y2="783.25" stroke="#555" stroke-width="0.4"/>
<line x1="454.4" y1="781.11" x2="455.6" y2="781.11" stroke="#555" stroke-width="0.4"/>
<text x="452" y="788.53" font-size="2.8" font-weight="bold" text-anchor="end" fill="#222" stroke="#222" stroke-width="0.06">10<tspan font-size="2" dy="-1.2">3</tspan></text>
<line x1="453.2" y1="778.97" x2="455.6" y2="778.97" stroke="#222" stroke-width="0.7"/>
<line x1="454.4" y1="776.83" x2="455.6" y2="776.83" stroke="#555" stroke-width="0.4"/>
<line x1="454.4" y1="774.69" x2="455.6" y2="774.69" stroke="#555" stroke-width="0.4"/>
<line x1="454.4" y1="772.55" x2="455.6" y2="772.55" stroke="#555" stroke-width="0.4"/>
<text x="452" y="779.97" font-size="2.8" font-weight="bold" text-anchor="end" fill="#222" stroke="#222" stroke-width="0.06">10<tspan font-size="2" dy="-1.2">4</tspan></text>
<line x1="453.2" y1="770.41" x2="455.6" y2="770.41" stroke="#222" stroke-width="0.7"/>
<line x1="454.4" y1="768.27" x2="455.6" y2="768.27" stroke="#555" stroke-width="0.4"/>
<line x1="454.4" y1="766.14" x2="455.6" y2="766.14" stroke="#555" stroke-width="0.4"/>
<line x1="454.4" y1="764" x2="455.6" y2="764" stroke="#555" stroke-width="0.4"/>
<text x="452" y="771.42" font-size="2.8" font-weight="bold" text-anchor="end" fill="#222" stroke="#222" stroke-width="0.06">10<tspan font-size="2" dy="-1.2">5</tspan></text>
<line x1="453.2" y1="761.86" x2="455.6" y2="761.86" stroke="#222" stroke-width="0.7"/>
<line x1="454.4" y1="759.72" x2="455.6" y2="759.72" stroke="#555" stroke-width="0.4"/>
<line x1="454.4" y1="757.58" x2="455.6" y2="757.58" stroke="#555" stroke-width="0.4"/>
<line x1="454.4" y1="755.44" x2="455.6" y2="755.44" stroke="#555" stroke-width="0.4"/>
<text x="452" y="762.86" font-size="2.8" font-weight="bold" text-anchor="end" fill="#222" stroke="#222" stroke-width="0.06">10<tspan font-size="2" dy="-1.2">6</tspan></text>
<line x1="453.2" y1="753.3" x2="455.6" y2="753.3" stroke="#222" stroke-width="0.7"/>
<line x1="454.4" y1="751.16" x2="455.6" y2="751.16" stroke="#555" stroke-width="0.4"/>
<line x1="454.4" y1="749.02" x2="455.6" y2="749.02" stroke="#555" stroke-width="0.4"/>
<line x1="454.4" y1="746.88" x2="455.6" y2="746.88" stroke="#555" stroke-width="0.4"/>
<text x="452" y="754.3" font-size="2.8" font-weight="bold" text-anchor="end" fill="#222" stroke="#222" stroke-width="0.06">10<tspan font-size="2" dy="-1.2">7</tspan></text>
<line x1="458.6" y1="816.2" x2="458.6" y2="818.6" stroke="#222" stroke-width="0.7"/>
<line x1="461.27" y1="816.2" x2="461.27" y2="817.4" stroke="#555" stroke-width="0.4"/>
<line x1="463.93" y1="816.2" x2="463.93" y2="817.4" stroke="#555" stroke-width="0.4"/>
<line x1="466.6" y1="816.2" x2="466.6" y2="817.4" stroke="#555" stroke-width="0.4"/>
<line x1="469.27" y1="816.2" x2="469.27" y2="817.4" stroke="#555" stroke-width="0.4"/>
<line x1="471.93" y1="816.2" x2="471.93" y2="817.4" stroke="#555" stroke-width="0.4"/>
<text x="458.6" y="822.8" font-size="2.8" font-weight="bold" text-anchor="middle" fill="#222" stroke="#222" stroke-width="0.06">10<tspan font-size="2" dy="-1.2">0</tspan></text>
<line x1="474.6" y1="816.2" x2="474.6" y2="818.6" stroke="#222" stroke-width="0.7"/>
<line x1="477.27" y1="816.2" x2="477.27" y2="817.4" stroke="#555" stroke-width="0.4"/>
<line x1="479.93" y1="816.2" x2="479.93" y2="817.4" stroke="#555" stroke-width="0.4"/>
<line x1="482.6" y1="816.2" x2="482.6" y2="817.4" stroke="#555" stroke-width="0.4"/>
<line x1="485.27" y1="816.2" x2="485.27" y2="817.4" stroke="#555" stroke-width="0.4"/>
<line x1="487.93" y1="816.2" x2="487.93" y2="817.4" stroke="#555" stroke-width="0.4"/>
<text x="474.6" y="822.8" font-size="2.8" font-weight="bold" text-anchor="middle" fill="#222" stroke="#222" stroke-width="0.06">10<tspan font-size="2" dy="-1.2">1</tspan></text>
<line x1="490.6" y1="816.2" x2="490.6" y2="818.6" stroke="#222" stroke-width="0.7"/>
<line x1="493.27" y1="816.2" x2="493.27" y2="817.4" stroke="#555" stroke-width="0.4"/>
<line x1="495.93" y1="816.2" x2="495.93" y2="817.4" stroke="#555" stroke-width="0.4"/>
<line x1="498.6" y1="816.2" x2="498.6" y2="817.4" stroke="#555" stroke-width="0.4"/>
<line x1="501.27" y1="816.2" x2="501.27" y2="817.4" stroke="#555" stroke-width="0.4"/>
<line x1="503.93" y1="816.2" x2="503.93" y2="817.4" stroke="#555" stroke-width="0.4"/>
<text x="490.6" y="822.8" font-size="2.8" font-weight="bold" text-anchor="middle" fill="#222" stroke="#222" stroke-width="0.06">10<tspan font-size="2" dy="-1.2">2</tspan></text>
<line x1="506.6" y1="816.2" x2="506.6" y2="818.6" stroke="#222" stroke-width="0.7"/>
<line x1="509.27" y1="816.2" x2="509.27" y2="817.4" stroke="#555" stroke-width="0.4"/>
<line x1="511.93" y1="816.2" x2="511.93" y2="817.4" stroke="#555" stroke-width="0.4"/>
<line x1="514.6" y1="816.2" x2="514.6" y2="817.4" stroke="#555" stroke-width="0.4"/>
<line x1="517.27" y1="816.2" x2="517.27" y2="817.4" stroke="#555" stroke-width="0.4"/>
<line x1="519.93" y1="816.2" x2="519.93" y2="817.4" stroke="#555" stroke-width="0.4"/>
<text x="506.6" y="822.8" font-size="2.8" font-weight="bold" text-anchor="middle" fill="#222" stroke="#222" stroke-width="0.06">10<tspan font-size="2" dy="-1.2">3</tspan></text>
<text x="457.6" y="755.97" font-size="3" font-weight="bold" stroke="#000" stroke-width="0.07">Q1</text>
<text x="457.6" y="760.17" font-size="3" font-weight="bold" stroke="#000" stroke-width="0.07">4.25</text>
<text x="519.2" y="755.97" font-size="3" font-weight="bold" text-anchor="end" stroke="#000" stroke-width="0.07">Q2</text>
<text x="519.2" y="760.17" font-size="3" font-weight="bold" text-anchor="end" stroke="#000" stroke-width="0.07">1.32</text>
<text x="457.6" y="808.87" font-size="3" font-weight="bold" stroke="#000" stroke-width="0.07">Q4</text>
<text x="457.6" y="813.07" font-size="3" font-weight="bold" stroke="#000" stroke-width="0.07">93.3</text>
<text x="519.2" y="808.87" font-size="3" font-weight="bold" text-anchor="end" stroke="#000" stroke-width="0.07">Q3</text>
<text x="519.2" y="813.07" font-size="3" font-weight="bold" text-anchor="end" stroke="#000" stroke-width="0.07">1.10</text>
<text x="487.9" y="748.77" font-size="9.4" text-anchor="middle" stroke="#000" stroke-width="0.08">DMSO</text>
<rect x="534.9" y="750.2" width="65.8" height="66.5" fill="#fff"/>
<g filter="url(#b05)"><path fill="#0c18fc" d="M572,770h1v1h-1zM573,770h1v1h-1zM574,770h1v1h-1zM575,770h1v1h-1zM576,770h1v1h-1zM577,771h1v1h-1zM578,771h1v1h-1zM579,771h1v1h-1zM580,771h1v1h-1zM578,772h1v1h-1zM579,772h1v1h-1zM580,772h1v1h-1zM581,772h1v1h-1zM582,772h1v1h-1zM577,773h1v1h-1zM578,773h1v1h-1zM576,774h1v1h-1zM573,776h1v1h-1zM572,777h1v1h-1zM570,778h1v1h-1zM572,778h1v1h-1zM570,779h1v1h-1zM572,779h1v1h-1zM569,780h1v1h-1zM572,780h1v1h-1zM581,780h1v1h-1zM568,781h1v1h-1zM580,781h1v1h-1zM581,781h1v1h-1zM567,782h1v1h-1zM573,782h1v1h-1zM579,782h1v1h-1zM580,782h1v1h-1zM566,783h1v1h-1zM578,783h1v1h-1zM579,783h1v1h-1zM574,784h1v1h-1zM577,784h1v1h-1zM578,784h1v1h-1zM579,784h1v1h-1zM565,785h1v1h-1zM574,785h1v1h-1zM575,785h1v1h-1zM576,785h1v1h-1zM577,785h1v1h-1zM578,785h1v1h-1zM575,786h1v1h-1zM576,786h1v1h-1zM577,786h1v1h-1zM578,786h1v1h-1zM576,787h1v1h-1zM577,787h1v1h-1zM576,788h1v1h-1zM577,788h1v1h-1zM576,789h1v1h-1zM576,790h1v1h-1zM575,791h1v1h-1zM575,792h1v1h-1zM574,794h1v1h-1zM565,795h1v1h-1zM565,796h1v1h-1zM573,796h1v1h-1zM565,797h1v1h-1zM565,798h1v1h-1zM565,799h1v1h-1zM572,799h1v1h-1zM572,800h1v1h-1zM566,803h1v1h-1zM571,803h1v1h-1zM566,804h1v1h-1zM571,804h1v1h-1zM566,805h1v1h-1zM570,806h1v1h-1zM567,807h1v1h-1zM570,807h1v1h-1zM567,808h1v1h-1zM567,809h1v1h-1zM569,809h1v1h-1zM567,810h1v1h-1zM568,810h1v1h-1zM569,810h1v1h-1zM568,811h1v1h-1z"/><path fill="#0c0cfc" d="M577,770h1v1h-1zM570,771h1v1h-1zM581,771h1v1h-1zM582,771h1v1h-1zM583,771h1v1h-1zM583,772h1v1h-1zM579,773h1v1h-1zM582,773h1v1h-1zM583,773h1v1h-1zM575,775h1v1h-1zM583,775h1v1h-1zM583,776h1v1h-1zM583,777h1v1h-1zM582,778h1v1h-1zM581,779h1v1h-1zM582,779h1v1h-1zM580,780h1v1h-1zM582,780h1v1h-1zM580,783h1v1h-1zM579,785h1v1h-1zM573,797h1v1h-1zM565,800h1v1h-1zM572,801h1v1h-1zM566,806h1v1h-1zM570,808h1v1h-1z"/><path fill="#0024fc" d="M571,771h1v1h-1zM575,771h1v1h-1zM576,771h1v1h-1zM576,772h1v1h-1zM570,773h1v1h-1zM576,773h1v1h-1zM570,774h1v1h-1zM575,774h1v1h-1zM570,775h1v1h-1zM570,776h1v1h-1zM572,776h1v1h-1zM570,777h1v1h-1zM571,777h1v1h-1zM571,778h1v1h-1zM571,779h1v1h-1zM570,780h1v1h-1zM571,780h1v1h-1zM569,781h1v1h-1zM572,781h1v1h-1zM568,782h1v1h-1zM567,783h1v1h-1zM573,783h1v1h-1zM566,784h1v1h-1zM565,786h1v1h-1zM574,786h1v1h-1zM565,787h1v1h-1zM574,787h1v1h-1zM575,787h1v1h-1zM565,788h1v1h-1zM575,788h1v1h-1zM565,789h1v1h-1zM575,789h1v1h-1zM565,790h1v1h-1zM575,790h1v1h-1zM565,791h1v1h-1zM565,792h1v1h-1zM574,792h1v1h-1zM565,793h1v1h-1zM574,793h1v1h-1zM573,795h1v1h-1zM572,797h1v1h-1zM572,798h1v1h-1zM566,799h1v1h-1zM566,800h1v1h-1zM571,800h1v1h-1zM566,801h1v1h-1zM571,801h1v1h-1zM570,803h1v1h-1zM567,804h1v1h-1zM570,804h1v1h-1zM567,805h1v1h-1zM570,805h1v1h-1zM567,806h1v1h-1zM568,806h1v1h-1zM569,806h1v1h-1zM568,807h1v1h-1zM569,807h1v1h-1zM568,808h1v1h-1z"/><path fill="#0030fc" d="M572,771h1v1h-1zM573,771h1v1h-1zM574,771h1v1h-1zM571,772h1v1h-1zM575,772h1v1h-1zM575,773h1v1h-1zM574,774h1v1h-1zM571,775h1v1h-1zM572,775h1v1h-1zM573,775h1v1h-1zM571,776h1v1h-1zM570,781h1v1h-1zM571,781h1v1h-1zM569,782h1v1h-1zM572,782h1v1h-1zM573,784h1v1h-1zM566,785h1v1h-1zM573,785h1v1h-1zM574,788h1v1h-1zM574,789h1v1h-1zM574,790h1v1h-1zM574,791h1v1h-1zM573,793h1v1h-1zM566,794h1v1h-1zM573,794h1v1h-1zM566,795h1v1h-1zM572,795h1v1h-1zM566,796h1v1h-1zM572,796h1v1h-1zM566,797h1v1h-1zM566,798h1v1h-1zM571,798h1v1h-1zM571,799h1v1h-1zM567,800h1v1h-1zM567,801h1v1h-1zM570,801h1v1h-1zM567,802h1v1h-1zM570,802h1v1h-1zM567,803h1v1h-1zM568,803h1v1h-1zM569,803h1v1h-1zM568,804h1v1h-1zM569,804h1v1h-1zM568,805h1v1h-1zM569,805h1v1h-1z"/><path fill="#0c24fc" d="M570,772h1v1h-1zM577,772h1v1h-1zM574,775h1v1h-1zM565,794h1v1h-1zM566,802h1v1h-1zM571,802h1v1h-1zM569,808h1v1h-1zM568,809h1v1h-1z"/><path fill="#0060fc" d="M572,772h1v1h-1zM570,782h1v1h-1zM571,782h1v1h-1zM572,783h1v1h-1zM573,788h1v1h-1zM566,791h1v1h-1zM573,791h1v1h-1zM570,799h1v1h-1z"/><path fill="#006cfc" d="M573,772h1v1h-1zM572,774h1v1h-1zM566,787h1v1h-1zM573,789h1v1h-1zM566,790h1v1h-1zM573,790h1v1h-1zM567,797h1v1h-1zM568,800h1v1h-1zM569,800h1v1h-1z"/><path fill="#0048fc" d="M574,772h1v1h-1zM571,773h1v1h-1zM568,783h1v1h-1zM567,784h1v1h-1zM566,786h1v1h-1zM566,792h1v1h-1zM573,792h1v1h-1zM572,794h1v1h-1zM567,799h1v1h-1z"/><path fill="#0084fc" d="M572,773h1v1h-1zM573,773h1v1h-1zM567,795h1v1h-1zM568,799h1v1h-1zM569,799h1v1h-1z"/><path fill="#0054fc" d="M574,773h1v1h-1zM573,774h1v1h-1zM573,787h1v1h-1zM571,796h1v1h-1zM567,798h1v1h-1zM568,801h1v1h-1zM569,801h1v1h-1z"/><path fill="#003cfc" d="M571,774h1v1h-1zM573,786h1v1h-1zM566,793h1v1h-1zM571,797h1v1h-1zM570,800h1v1h-1zM568,802h1v1h-1zM569,802h1v1h-1z"/><path fill="#0090fc" d="M569,783h1v1h-1zM572,784h1v1h-1zM570,797h1v1h-1zM568,798h1v1h-1z"/><path fill="#00c0f0" d="M570,783h1v1h-1zM572,786h1v1h-1zM572,790h1v1h-1zM571,793h1v1h-1zM568,795h1v1h-1zM570,795h1v1h-1zM569,796h1v1h-1z"/><path fill="#00b4f0" d="M571,783h1v1h-1zM572,785h1v1h-1zM572,791h1v1h-1zM567,792h1v1h-1zM568,796h1v1h-1zM569,797h1v1h-1z"/><path fill="#00a8fc" d="M568,784h1v1h-1zM567,793h1v1h-1zM570,796h1v1h-1zM568,797h1v1h-1z"/><path fill="#00e4e4" d="M569,784h1v1h-1zM571,784h1v1h-1zM568,785h1v1h-1zM567,787h1v1h-1zM568,793h1v1h-1zM570,793h1v1h-1zM569,794h1v1h-1z"/><path fill="#0ce4b4" d="M570,784h1v1h-1z"/><path fill="#009cfc" d="M567,785h1v1h-1zM572,792h1v1h-1zM567,794h1v1h-1zM571,794h1v1h-1zM569,798h1v1h-1z"/><path fill="#24f060" d="M569,785h1v1h-1zM571,786h1v1h-1z"/><path fill="#30f048" d="M570,785h1v1h-1zM569,791h1v1h-1z"/><path fill="#0ce490" d="M571,785h1v1h-1z"/><path fill="#00ccf0" d="M567,786h1v1h-1zM572,787h1v1h-1zM572,788h1v1h-1zM572,789h1v1h-1zM567,791h1v1h-1zM568,794h1v1h-1zM570,794h1v1h-1zM569,795h1v1h-1z"/><path fill="#18e46c" d="M568,786h1v1h-1z"/><path fill="#60f018" d="M569,786h1v1h-1z"/><path fill="#6cf018" d="M570,786h1v1h-1zM570,789h1v1h-1z"/><path fill="#48f03c" d="M568,787h1v1h-1zM568,789h1v1h-1zM570,790h1v1h-1z"/><path fill="#9cf00c" d="M569,787h1v1h-1z"/><path fill="#90f00c" d="M570,787h1v1h-1zM570,788h1v1h-1z"/><path fill="#24f054" d="M571,787h1v1h-1zM571,788h1v1h-1zM568,790h1v1h-1z"/><path fill="#0078fc" d="M566,788h1v1h-1zM566,789h1v1h-1zM572,793h1v1h-1zM571,795h1v1h-1zM567,796h1v1h-1zM570,798h1v1h-1z"/><path fill="#00e4cc" d="M567,788h1v1h-1zM571,791h1v1h-1z"/><path fill="#54f030" d="M568,788h1v1h-1z"/><path fill="#b4f000" d="M569,788h1v1h-1z"/><path fill="#00e4d8" d="M567,789h1v1h-1z"/><path fill="#84f00c" d="M569,789h1v1h-1z"/><path fill="#18e478" d="M571,789h1v1h-1z"/><path fill="#00d8e4" d="M567,790h1v1h-1zM571,792h1v1h-1z"/><path fill="#54f024" d="M569,790h1v1h-1z"/><path fill="#0ce49c" d="M571,790h1v1h-1z"/><path fill="#18e490" d="M568,791h1v1h-1z"/><path fill="#24e460" d="M570,791h1v1h-1z"/><path fill="#00e4c0" d="M568,792h1v1h-1zM569,793h1v1h-1z"/><path fill="#18e484" d="M569,792h1v1h-1z"/><path fill="#0ce4a8" d="M570,792h1v1h-1z"/><path fill="#2030ff" fill-opacity="0.75" d="M583.31,767.02h0.9v0.9h-0.9zM575.12,768.26h0.9v0.9h-0.9zM580.38,768.3h0.9v0.9h-0.9zM581.16,768.32h0.9v0.9h-0.9zM582.07,768.35h0.9v0.9h-0.9zM587.14,768.03h0.9v0.9h-0.9zM573.34,769.32h0.9v0.9h-0.9zM575.27,769.3h0.9v0.9h-0.9zM576.36,769.36h0.9v0.9h-0.9zM581.28,769.28h0.9v0.9h-0.9zM582.11,769.03h0.9v0.9h-0.9zM583.33,769.11h0.9v0.9h-0.9zM584.09,769.04h0.9v0.9h-0.9zM590.34,769.13h0.9v0.9h-0.9zM568.25,770.06h0.9v0.9h-0.9zM569.02,770.18h0.9v0.9h-0.9zM578.33,770.04h0.9v0.9h-0.9zM579.25,770.14h0.9v0.9h-0.9zM580.23,770.09h0.9v0.9h-0.9zM582.34,770.32h0.9v0.9h-0.9zM583.01,770.31h0.9v0.9h-0.9zM584.2,770.17h0.9v0.9h-0.9zM585.25,770.29h0.9v0.9h-0.9zM586.16,770.2h0.9v0.9h-0.9zM588.35,770.4h0.9v0.9h-0.9zM568.19,771.05h0.9v0.9h-0.9zM569.27,771.28h0.9v0.9h-0.9zM584.14,771.08h0.9v0.9h-0.9zM585.11,771.08h0.9v0.9h-0.9zM589.28,771.08h0.9v0.9h-0.9zM588.08,772.01h0.9v0.9h-0.9zM568.14,773.07h0.9v0.9h-0.9zM569.4,773.12h0.9v0.9h-0.9zM580.07,773.14h0.9v0.9h-0.9zM584.18,773.04h0.9v0.9h-0.9zM585.06,773.31h0.9v0.9h-0.9zM586.4,773.36h0.9v0.9h-0.9zM569.08,774.1h0.9v0.9h-0.9zM577.36,774.28h0.9v0.9h-0.9zM580.29,774.15h0.9v0.9h-0.9zM583.01,774.09h0.9v0.9h-0.9zM584.15,774h0.9v0.9h-0.9zM588.36,774.21h0.9v0.9h-0.9zM589.13,774.25h0.9v0.9h-0.9zM569.1,775.36h0.9v0.9h-0.9zM576.04,775.24h0.9v0.9h-0.9zM577.08,775.18h0.9v0.9h-0.9zM581.03,775.29h0.9v0.9h-0.9zM582.19,775.16h0.9v0.9h-0.9zM584.29,775.1h0.9v0.9h-0.9zM585.28,775.19h0.9v0.9h-0.9zM586.36,775.24h0.9v0.9h-0.9zM587.1,775.39h0.9v0.9h-0.9zM569.3,776.02h0.9v0.9h-0.9zM574.39,776.32h0.9v0.9h-0.9zM575.02,776.1h0.9v0.9h-0.9zM577.27,776.37h0.9v0.9h-0.9zM580.06,776.01h0.9v0.9h-0.9zM582.39,776.28h0.9v0.9h-0.9zM584.32,776.07h0.9v0.9h-0.9zM585.04,776.31h0.9v0.9h-0.9zM588.34,776.22h0.9v0.9h-0.9zM569.24,777.32h0.9v0.9h-0.9zM573.02,777.22h0.9v0.9h-0.9zM574.16,777h0.9v0.9h-0.9zM576.33,777.32h0.9v0.9h-0.9zM578.26,777.08h0.9v0.9h-0.9zM580.39,777.22h0.9v0.9h-0.9zM581.04,777.29h0.9v0.9h-0.9zM585.15,777.12h0.9v0.9h-0.9zM587.24,777.39h0.9v0.9h-0.9zM566.03,778.05h0.9v0.9h-0.9zM569.18,778.16h0.9v0.9h-0.9zM581.27,778.34h0.9v0.9h-0.9zM583.35,778.07h0.9v0.9h-0.9zM585.28,778.1h0.9v0.9h-0.9zM586.14,778.13h0.9v0.9h-0.9zM587.18,778.39h0.9v0.9h-0.9zM577.09,779.35h0.9v0.9h-0.9zM579.31,779.31h0.9v0.9h-0.9zM584.04,779.33h0.9v0.9h-0.9zM585.25,779.15h0.9v0.9h-0.9zM573.37,780.28h0.9v0.9h-0.9zM575.08,780.11h0.9v0.9h-0.9zM577.1,780.29h0.9v0.9h-0.9zM579.18,780.27h0.9v0.9h-0.9zM563.28,781.08h0.9v0.9h-0.9zM567.26,781.24h0.9v0.9h-0.9zM573.12,781.03h0.9v0.9h-0.9zM574.01,781.14h0.9v0.9h-0.9zM575.05,781.2h0.9v0.9h-0.9zM578.31,781.07h0.9v0.9h-0.9zM579.12,781.16h0.9v0.9h-0.9zM582.18,781.29h0.9v0.9h-0.9zM583.37,781.14h0.9v0.9h-0.9zM585.33,781.09h0.9v0.9h-0.9zM565,782.08h0.9v0.9h-0.9zM574.26,782.23h0.9v0.9h-0.9zM576.06,782.04h0.9v0.9h-0.9zM578.26,782.23h0.9v0.9h-0.9zM581.03,782.01h0.9v0.9h-0.9zM583.39,782.15h0.9v0.9h-0.9zM565.04,783.1h0.9v0.9h-0.9zM575.15,783.31h0.9v0.9h-0.9zM576.08,783.09h0.9v0.9h-0.9zM577.15,783.26h0.9v0.9h-0.9zM581.35,783.02h0.9v0.9h-0.9zM585.18,783.05h0.9v0.9h-0.9zM564.05,784.19h0.9v0.9h-0.9zM565.09,784.18h0.9v0.9h-0.9zM575.03,784.14h0.9v0.9h-0.9zM576.37,784.22h0.9v0.9h-0.9zM580.09,784.3h0.9v0.9h-0.9zM581.35,784.38h0.9v0.9h-0.9zM583.38,784.21h0.9v0.9h-0.9zM564.03,785.11h0.9v0.9h-0.9zM583.18,785.13h0.9v0.9h-0.9zM564.05,786.39h0.9v0.9h-0.9zM579.07,786h0.9v0.9h-0.9zM582.19,786.3h0.9v0.9h-0.9zM564.26,787.06h0.9v0.9h-0.9zM578.38,787.3h0.9v0.9h-0.9zM580.36,787.07h0.9v0.9h-0.9zM562.09,788.01h0.9v0.9h-0.9zM564.08,788.3h0.9v0.9h-0.9zM578.38,788.16h0.9v0.9h-0.9zM580.38,788.09h0.9v0.9h-0.9zM577.09,789.33h0.9v0.9h-0.9zM578.4,789.18h0.9v0.9h-0.9zM579.38,789.13h0.9v0.9h-0.9zM562.15,790.06h0.9v0.9h-0.9zM564.24,790.1h0.9v0.9h-0.9zM577.22,790.28h0.9v0.9h-0.9zM578.1,790.05h0.9v0.9h-0.9zM576.09,791.07h0.9v0.9h-0.9zM576.38,792.16h0.9v0.9h-0.9zM577.37,792.04h0.9v0.9h-0.9zM578.12,792.12h0.9v0.9h-0.9zM575.26,793.21h0.9v0.9h-0.9zM576.1,793.26h0.9v0.9h-0.9zM563.03,794.36h0.9v0.9h-0.9zM564.07,794.28h0.9v0.9h-0.9zM575.09,794.15h0.9v0.9h-0.9zM564.27,795.32h0.9v0.9h-0.9zM574.19,795.27h0.9v0.9h-0.9zM564.17,796.38h0.9v0.9h-0.9zM574.16,796.38h0.9v0.9h-0.9zM574.09,797.09h0.9v0.9h-0.9zM576.05,797.16h0.9v0.9h-0.9zM563.23,798.38h0.9v0.9h-0.9zM573.28,798.17h0.9v0.9h-0.9zM574.19,798.01h0.9v0.9h-0.9zM563.31,800.12h0.9v0.9h-0.9zM564.33,800.24h0.9v0.9h-0.9zM563.21,801.29h0.9v0.9h-0.9zM564.03,801h0.9v0.9h-0.9zM565.28,801h0.9v0.9h-0.9zM573.11,801.28h0.9v0.9h-0.9zM575.05,801.37h0.9v0.9h-0.9zM563.13,802.21h0.9v0.9h-0.9zM564.17,802.19h0.9v0.9h-0.9zM565.02,802.03h0.9v0.9h-0.9zM572.04,802.25h0.9v0.9h-0.9zM565.08,803.37h0.9v0.9h-0.9zM572.02,803.06h0.9v0.9h-0.9zM572.23,804.08h0.9v0.9h-0.9zM564.04,805.27h0.9v0.9h-0.9zM571.08,805.23h0.9v0.9h-0.9zM572.25,805.1h0.9v0.9h-0.9zM565.29,806.09h0.9v0.9h-0.9zM571.26,806.28h0.9v0.9h-0.9zM565.06,807.09h0.9v0.9h-0.9zM566.33,807.29h0.9v0.9h-0.9zM565.24,808.04h0.9v0.9h-0.9zM566.21,808.06h0.9v0.9h-0.9zM565.2,809.21h0.9v0.9h-0.9zM566.29,809.21h0.9v0.9h-0.9zM571.03,809.15h0.9v0.9h-0.9zM565.13,810.19h0.9v0.9h-0.9zM571.18,810.37h0.9v0.9h-0.9zM564.18,811.25h0.9v0.9h-0.9zM566.39,811.36h0.9v0.9h-0.9zM567.19,811.25h0.9v0.9h-0.9zM569.03,811.3h0.9v0.9h-0.9zM572.16,811.04h0.9v0.9h-0.9zM565.12,812.31h0.9v0.9h-0.9zM566.04,812.03h0.9v0.9h-0.9zM567.21,812.33h0.9v0.9h-0.9zM568.07,812.31h0.9v0.9h-0.9zM569.14,812.05h0.9v0.9h-0.9zM570.39,812.05h0.9v0.9h-0.9zM567.38,813.24h0.9v0.9h-0.9zM568.19,813.29h0.9v0.9h-0.9zM570.08,813.38h0.9v0.9h-0.9zM571.33,813.14h0.9v0.9h-0.9zM568.34,814.13h0.9v0.9h-0.9zM569.3,814.14h0.9v0.9h-0.9zM570.17,814.33h0.9v0.9h-0.9zM566.31,815.24h0.9v0.9h-0.9z"/></g>
<rect x="534.9" y="750.2" width="65.8" height="66.5" fill="none" stroke="#666" stroke-width="0.6"/>
<line x1="575.3" y1="750.2" x2="575.3" y2="816.7" stroke="#111" stroke-width="0.9"/>
<line x1="534.9" y1="779.1" x2="600.7" y2="779.1" stroke="#111" stroke-width="0.9"/>
<line x1="532.5" y1="813.7" x2="534.9" y2="813.7" stroke="#222" stroke-width="0.7"/>
<line x1="533.7" y1="811.54" x2="534.9" y2="811.54" stroke="#555" stroke-width="0.4"/>
<line x1="533.7" y1="809.38" x2="534.9" y2="809.38" stroke="#555" stroke-width="0.4"/>
<line x1="533.7" y1="807.22" x2="534.9" y2="807.22" stroke="#555" stroke-width="0.4"/>
<text x="531.3" y="814.7" font-size="2.8" font-weight="bold" text-anchor="end" fill="#222" stroke="#222" stroke-width="0.06">10<tspan font-size="2" dy="-1.2">0</tspan></text>
<line x1="532.5" y1="805.06" x2="534.9" y2="805.06" stroke="#222" stroke-width="0.7"/>
<line x1="533.7" y1="802.9" x2="534.9" y2="802.9" stroke="#555" stroke-width="0.4"/>
<line x1="533.7" y1="800.74" x2="534.9" y2="800.74" stroke="#555" stroke-width="0.4"/>
<line x1="533.7" y1="798.58" x2="534.9" y2="798.58" stroke="#555" stroke-width="0.4"/>
<text x="531.3" y="806.06" font-size="2.8" font-weight="bold" text-anchor="end" fill="#222" stroke="#222" stroke-width="0.06">10<tspan font-size="2" dy="-1.2">1</tspan></text>
<line x1="532.5" y1="796.41" x2="534.9" y2="796.41" stroke="#222" stroke-width="0.7"/>
<line x1="533.7" y1="794.25" x2="534.9" y2="794.25" stroke="#555" stroke-width="0.4"/>
<line x1="533.7" y1="792.09" x2="534.9" y2="792.09" stroke="#555" stroke-width="0.4"/>
<line x1="533.7" y1="789.93" x2="534.9" y2="789.93" stroke="#555" stroke-width="0.4"/>
<text x="531.3" y="797.42" font-size="2.8" font-weight="bold" text-anchor="end" fill="#222" stroke="#222" stroke-width="0.06">10<tspan font-size="2" dy="-1.2">2</tspan></text>
<line x1="532.5" y1="787.77" x2="534.9" y2="787.77" stroke="#222" stroke-width="0.7"/>
<line x1="533.7" y1="785.61" x2="534.9" y2="785.61" stroke="#555" stroke-width="0.4"/>
<line x1="533.7" y1="783.45" x2="534.9" y2="783.45" stroke="#555" stroke-width="0.4"/>
<line x1="533.7" y1="781.29" x2="534.9" y2="781.29" stroke="#555" stroke-width="0.4"/>
<text x="531.3" y="788.77" font-size="2.8" font-weight="bold" text-anchor="end" fill="#222" stroke="#222" stroke-width="0.06">10<tspan font-size="2" dy="-1.2">3</tspan></text>
<line x1="532.5" y1="779.13" x2="534.9" y2="779.13" stroke="#222" stroke-width="0.7"/>
<line x1="533.7" y1="776.97" x2="534.9" y2="776.97" stroke="#555" stroke-width="0.4"/>
<line x1="533.7" y1="774.81" x2="534.9" y2="774.81" stroke="#555" stroke-width="0.4"/>
<line x1="533.7" y1="772.65" x2="534.9" y2="772.65" stroke="#555" stroke-width="0.4"/>
<text x="531.3" y="780.13" font-size="2.8" font-weight="bold" text-anchor="end" fill="#222" stroke="#222" stroke-width="0.06">10<tspan font-size="2" dy="-1.2">4</tspan></text>
<line x1="532.5" y1="770.49" x2="534.9" y2="770.49" stroke="#222" stroke-width="0.7"/>
<line x1="533.7" y1="768.33" x2="534.9" y2="768.33" stroke="#555" stroke-width="0.4"/>
<line x1="533.7" y1="766.16" x2="534.9" y2="766.16" stroke="#555" stroke-width="0.4"/>
<line x1="533.7" y1="764" x2="534.9" y2="764" stroke="#555" stroke-width="0.4"/>
<text x="531.3" y="771.49" font-size="2.8" font-weight="bold" text-anchor="end" fill="#222" stroke="#222" stroke-width="0.06">10<tspan font-size="2" dy="-1.2">5</tspan></text>
<line x1="532.5" y1="761.84" x2="534.9" y2="761.84" stroke="#222" stroke-width="0.7"/>
<line x1="533.7" y1="759.68" x2="534.9" y2="759.68" stroke="#555" stroke-width="0.4"/>
<line x1="533.7" y1="757.52" x2="534.9" y2="757.52" stroke="#555" stroke-width="0.4"/>
<line x1="533.7" y1="755.36" x2="534.9" y2="755.36" stroke="#555" stroke-width="0.4"/>
<text x="531.3" y="762.85" font-size="2.8" font-weight="bold" text-anchor="end" fill="#222" stroke="#222" stroke-width="0.06">10<tspan font-size="2" dy="-1.2">6</tspan></text>
<line x1="532.5" y1="753.2" x2="534.9" y2="753.2" stroke="#222" stroke-width="0.7"/>
<line x1="533.7" y1="751.04" x2="534.9" y2="751.04" stroke="#555" stroke-width="0.4"/>
<line x1="533.7" y1="748.88" x2="534.9" y2="748.88" stroke="#555" stroke-width="0.4"/>
<line x1="533.7" y1="746.72" x2="534.9" y2="746.72" stroke="#555" stroke-width="0.4"/>
<text x="531.3" y="754.2" font-size="2.8" font-weight="bold" text-anchor="end" fill="#222" stroke="#222" stroke-width="0.06">10<tspan font-size="2" dy="-1.2">7</tspan></text>
<line x1="537.9" y1="816.7" x2="537.9" y2="819.1" stroke="#222" stroke-width="0.7"/>
<line x1="540.58" y1="816.7" x2="540.58" y2="817.9" stroke="#555" stroke-width="0.4"/>
<line x1="543.25" y1="816.7" x2="543.25" y2="817.9" stroke="#555" stroke-width="0.4"/>
<line x1="545.93" y1="816.7" x2="545.93" y2="817.9" stroke="#555" stroke-width="0.4"/>
<line x1="548.6" y1="816.7" x2="548.6" y2="817.9" stroke="#555" stroke-width="0.4"/>
<line x1="551.28" y1="816.7" x2="551.28" y2="817.9" stroke="#555" stroke-width="0.4"/>
<text x="537.9" y="823.3" font-size="2.8" font-weight="bold" text-anchor="middle" fill="#222" stroke="#222" stroke-width="0.06">10<tspan font-size="2" dy="-1.2">0</tspan></text>
<line x1="553.96" y1="816.7" x2="553.96" y2="819.1" stroke="#222" stroke-width="0.7"/>
<line x1="556.63" y1="816.7" x2="556.63" y2="817.9" stroke="#555" stroke-width="0.4"/>
<line x1="559.31" y1="816.7" x2="559.31" y2="817.9" stroke="#555" stroke-width="0.4"/>
<line x1="561.98" y1="816.7" x2="561.98" y2="817.9" stroke="#555" stroke-width="0.4"/>
<line x1="564.66" y1="816.7" x2="564.66" y2="817.9" stroke="#555" stroke-width="0.4"/>
<line x1="567.34" y1="816.7" x2="567.34" y2="817.9" stroke="#555" stroke-width="0.4"/>
<text x="553.96" y="823.3" font-size="2.8" font-weight="bold" text-anchor="middle" fill="#222" stroke="#222" stroke-width="0.06">10<tspan font-size="2" dy="-1.2">1</tspan></text>
<line x1="570.01" y1="816.7" x2="570.01" y2="819.1" stroke="#222" stroke-width="0.7"/>
<line x1="572.69" y1="816.7" x2="572.69" y2="817.9" stroke="#555" stroke-width="0.4"/>
<line x1="575.36" y1="816.7" x2="575.36" y2="817.9" stroke="#555" stroke-width="0.4"/>
<line x1="578.04" y1="816.7" x2="578.04" y2="817.9" stroke="#555" stroke-width="0.4"/>
<line x1="580.71" y1="816.7" x2="580.71" y2="817.9" stroke="#555" stroke-width="0.4"/>
<line x1="583.39" y1="816.7" x2="583.39" y2="817.9" stroke="#555" stroke-width="0.4"/>
<text x="570.01" y="823.3" font-size="2.8" font-weight="bold" text-anchor="middle" fill="#222" stroke="#222" stroke-width="0.06">10<tspan font-size="2" dy="-1.2">2</tspan></text>
<line x1="586.07" y1="816.7" x2="586.07" y2="819.1" stroke="#222" stroke-width="0.7"/>
<line x1="588.74" y1="816.7" x2="588.74" y2="817.9" stroke="#555" stroke-width="0.4"/>
<line x1="591.42" y1="816.7" x2="591.42" y2="817.9" stroke="#555" stroke-width="0.4"/>
<line x1="594.09" y1="816.7" x2="594.09" y2="817.9" stroke="#555" stroke-width="0.4"/>
<line x1="596.77" y1="816.7" x2="596.77" y2="817.9" stroke="#555" stroke-width="0.4"/>
<line x1="599.45" y1="816.7" x2="599.45" y2="817.9" stroke="#555" stroke-width="0.4"/>
<text x="586.07" y="823.3" font-size="2.8" font-weight="bold" text-anchor="middle" fill="#222" stroke="#222" stroke-width="0.06">10<tspan font-size="2" dy="-1.2">3</tspan></text>
<text x="536.9" y="755.87" font-size="3" font-weight="bold" stroke="#000" stroke-width="0.07">Q1</text>
<text x="536.9" y="760.07" font-size="3" font-weight="bold" stroke="#000" stroke-width="0.07">3.70</text>
<text x="598.7" y="755.87" font-size="3" font-weight="bold" text-anchor="end" stroke="#000" stroke-width="0.07">Q2</text>
<text x="598.7" y="760.07" font-size="3" font-weight="bold" text-anchor="end" stroke="#000" stroke-width="0.07">1.50</text>
<text x="536.9" y="809.37" font-size="3" font-weight="bold" stroke="#000" stroke-width="0.07">Q4</text>
<text x="536.9" y="813.57" font-size="3" font-weight="bold" stroke="#000" stroke-width="0.07">93.7</text>
<text x="598.7" y="809.37" font-size="3" font-weight="bold" text-anchor="end" stroke="#000" stroke-width="0.07">Q3</text>
<text x="598.7" y="813.57" font-size="3" font-weight="bold" text-anchor="end" stroke="#000" stroke-width="0.07">1.04</text>
<text x="566.2" y="748.07" font-size="9.4" text-anchor="middle" stroke="#000" stroke-width="0.08">Tet (5 µM)</text>
<rect x="616.1" y="750.3" width="65.6" height="65.7" fill="#fff"/>
<g filter="url(#b05)"><path fill="#0c18fc" d="M661,768h1v1h-1zM662,768h1v1h-1zM666,768h1v1h-1zM667,768h1v1h-1zM652,769h1v1h-1zM653,769h1v1h-1zM659,769h1v1h-1zM668,769h1v1h-1zM650,770h1v1h-1zM655,770h1v1h-1zM656,770h1v1h-1zM657,770h1v1h-1zM668,770h1v1h-1zM649,772h1v1h-1zM668,772h1v1h-1zM668,773h1v1h-1zM650,774h1v1h-1zM668,774h1v1h-1zM651,775h1v1h-1zM668,775h1v1h-1zM652,776h1v1h-1zM668,776h1v1h-1zM662,777h1v1h-1zM663,777h1v1h-1zM668,777h1v1h-1zM661,778h1v1h-1zM662,778h1v1h-1zM667,778h1v1h-1zM652,779h1v1h-1zM659,779h1v1h-1zM662,779h1v1h-1zM667,779h1v1h-1zM661,780h1v1h-1zM666,780h1v1h-1zM659,781h1v1h-1zM660,781h1v1h-1zM665,782h1v1h-1zM649,783h1v1h-1zM664,783h1v1h-1zM662,786h1v1h-1zM648,787h1v1h-1zM648,788h1v1h-1zM661,788h1v1h-1zM648,789h1v1h-1zM648,790h1v1h-1zM648,791h1v1h-1zM648,792h1v1h-1zM659,792h1v1h-1zM648,793h1v1h-1zM648,794h1v1h-1zM658,794h1v1h-1zM648,795h1v1h-1zM657,796h1v1h-1zM657,797h1v1h-1zM656,799h1v1h-1zM649,800h1v1h-1zM656,800h1v1h-1zM649,801h1v1h-1zM655,802h1v1h-1zM655,803h1v1h-1zM650,805h1v1h-1zM654,805h1v1h-1zM650,806h1v1h-1zM654,806h1v1h-1zM650,807h1v1h-1zM651,808h1v1h-1zM653,808h1v1h-1zM651,809h1v1h-1zM652,809h1v1h-1zM652,810h1v1h-1z"/><path fill="#0024fc" d="M663,768h1v1h-1zM664,768h1v1h-1zM665,768h1v1h-1zM660,769h1v1h-1zM661,769h1v1h-1zM667,769h1v1h-1zM651,770h1v1h-1zM653,770h1v1h-1zM654,770h1v1h-1zM658,770h1v1h-1zM650,771h1v1h-1zM655,771h1v1h-1zM656,771h1v1h-1zM657,771h1v1h-1zM650,773h1v1h-1zM667,773h1v1h-1zM651,774h1v1h-1zM667,774h1v1h-1zM652,775h1v1h-1zM663,775h1v1h-1zM664,775h1v1h-1zM667,775h1v1h-1zM653,776h1v1h-1zM662,776h1v1h-1zM664,776h1v1h-1zM665,776h1v1h-1zM667,776h1v1h-1zM653,777h1v1h-1zM661,777h1v1h-1zM664,777h1v1h-1zM665,777h1v1h-1zM666,777h1v1h-1zM667,777h1v1h-1zM653,778h1v1h-1zM663,778h1v1h-1zM664,778h1v1h-1zM666,778h1v1h-1zM663,779h1v1h-1zM666,779h1v1h-1zM652,780h1v1h-1zM658,780h1v1h-1zM662,780h1v1h-1zM665,780h1v1h-1zM651,781h1v1h-1zM658,781h1v1h-1zM661,781h1v1h-1zM664,781h1v1h-1zM659,782h1v1h-1zM660,782h1v1h-1zM664,782h1v1h-1zM663,783h1v1h-1zM649,785h1v1h-1zM662,785h1v1h-1zM661,786h1v1h-1zM661,787h1v1h-1zM659,791h1v1h-1zM658,793h1v1h-1zM657,795h1v1h-1zM649,796h1v1h-1zM649,797h1v1h-1zM649,798h1v1h-1zM656,798h1v1h-1zM655,801h1v1h-1zM650,802h1v1h-1zM650,803h1v1h-1zM654,803h1v1h-1zM654,804h1v1h-1zM651,806h1v1h-1zM653,806h1v1h-1zM651,807h1v1h-1zM652,807h1v1h-1zM652,808h1v1h-1z"/><path fill="#0c0cfc" d="M651,769h1v1h-1zM658,769h1v1h-1zM649,771h1v1h-1zM649,773h1v1h-1zM652,778h1v1h-1zM660,779h1v1h-1zM661,779h1v1h-1zM659,780h1v1h-1zM663,785h1v1h-1zM660,790h1v1h-1zM649,802h1v1h-1zM653,809h1v1h-1z"/><path fill="#0030fc" d="M662,769h1v1h-1zM663,769h1v1h-1zM664,769h1v1h-1zM665,769h1v1h-1zM666,769h1v1h-1zM652,770h1v1h-1zM659,770h1v1h-1zM660,770h1v1h-1zM667,770h1v1h-1zM651,771h1v1h-1zM654,771h1v1h-1zM658,771h1v1h-1zM667,771h1v1h-1zM650,772h1v1h-1zM655,772h1v1h-1zM656,772h1v1h-1zM667,772h1v1h-1zM651,773h1v1h-1zM666,773h1v1h-1zM652,774h1v1h-1zM653,774h1v1h-1zM663,774h1v1h-1zM664,774h1v1h-1zM665,774h1v1h-1zM666,774h1v1h-1zM653,775h1v1h-1zM662,775h1v1h-1zM665,775h1v1h-1zM666,775h1v1h-1zM661,776h1v1h-1zM666,776h1v1h-1zM660,777h1v1h-1zM659,778h1v1h-1zM665,778h1v1h-1zM653,779h1v1h-1zM658,779h1v1h-1zM664,779h1v1h-1zM665,779h1v1h-1zM653,780h1v1h-1zM663,780h1v1h-1zM664,780h1v1h-1zM652,781h1v1h-1zM662,781h1v1h-1zM663,781h1v1h-1zM651,782h1v1h-1zM658,782h1v1h-1zM661,782h1v1h-1zM662,782h1v1h-1zM663,782h1v1h-1zM650,783h1v1h-1zM659,783h1v1h-1zM660,783h1v1h-1zM661,783h1v1h-1zM662,783h1v1h-1zM661,784h1v1h-1zM662,784h1v1h-1zM661,785h1v1h-1zM649,786h1v1h-1zM649,787h1v1h-1zM660,787h1v1h-1zM649,788h1v1h-1zM660,788h1v1h-1zM649,789h1v1h-1zM649,790h1v1h-1zM659,790h1v1h-1zM649,791h1v1h-1zM649,792h1v1h-1zM658,792h1v1h-1zM649,793h1v1h-1zM649,794h1v1h-1zM657,794h1v1h-1zM649,795h1v1h-1zM656,796h1v1h-1zM656,797h1v1h-1zM650,799h1v1h-1zM655,799h1v1h-1zM650,800h1v1h-1zM655,800h1v1h-1zM650,801h1v1h-1zM654,801h1v1h-1zM654,802h1v1h-1zM651,803h1v1h-1zM651,804h1v1h-1zM652,804h1v1h-1zM653,804h1v1h-1zM651,805h1v1h-1zM652,805h1v1h-1zM653,805h1v1h-1zM652,806h1v1h-1z"/><path fill="#0048fc" d="M661,770h1v1h-1zM653,771h1v1h-1zM659,771h1v1h-1zM666,772h1v1h-1zM654,773h1v1h-1zM665,773h1v1h-1zM654,774h1v1h-1zM662,774h1v1h-1zM659,784h1v1h-1zM660,785h1v1h-1zM660,786h1v1h-1zM656,795h1v1h-1zM652,803h1v1h-1z"/><path fill="#0060fc" d="M662,770h1v1h-1zM652,773h1v1h-1zM653,773h1v1h-1zM664,773h1v1h-1zM661,775h1v1h-1zM654,776h1v1h-1zM658,778h1v1h-1zM654,779h1v1h-1zM657,779h1v1h-1zM650,796h1v1h-1zM655,797h1v1h-1z"/><path fill="#0078fc" d="M663,770h1v1h-1zM664,770h1v1h-1zM652,772h1v1h-1zM658,772h1v1h-1zM665,772h1v1h-1zM656,773h1v1h-1zM653,781h1v1h-1zM651,783h1v1h-1zM650,785h1v1h-1zM659,785h1v1h-1zM656,794h1v1h-1zM650,795h1v1h-1zM654,799h1v1h-1zM653,801h1v1h-1z"/><path fill="#006cfc" d="M665,770h1v1h-1zM660,771h1v1h-1zM653,772h1v1h-1zM663,773h1v1h-1zM654,777h1v1h-1zM654,778h1v1h-1zM659,788h1v1h-1zM651,800h1v1h-1zM652,802h1v1h-1z"/><path fill="#003cfc" d="M666,770h1v1h-1zM654,772h1v1h-1zM657,780h1v1h-1zM650,784h1v1h-1zM660,784h1v1h-1zM659,789h1v1h-1zM657,793h1v1h-1zM650,798h1v1h-1zM655,798h1v1h-1zM651,802h1v1h-1zM653,803h1v1h-1z"/><path fill="#0054fc" d="M652,771h1v1h-1zM666,771h1v1h-1zM651,772h1v1h-1zM657,772h1v1h-1zM655,773h1v1h-1zM654,775h1v1h-1zM657,781h1v1h-1zM658,783h1v1h-1zM658,791h1v1h-1zM650,797h1v1h-1zM654,800h1v1h-1zM651,801h1v1h-1zM653,802h1v1h-1z"/><path fill="#0084fc" d="M661,771h1v1h-1zM665,771h1v1h-1zM662,773h1v1h-1zM655,774h1v1h-1zM660,776h1v1h-1zM659,777h1v1h-1zM654,780h1v1h-1zM652,782h1v1h-1zM650,794h1v1h-1zM655,796h1v1h-1zM651,799h1v1h-1zM652,801h1v1h-1z"/><path fill="#0090fc" d="M662,771h1v1h-1zM664,772h1v1h-1zM661,774h1v1h-1zM657,782h1v1h-1zM658,784h1v1h-1zM659,786h1v1h-1zM659,787h1v1h-1zM658,790h1v1h-1zM657,792h1v1h-1zM650,793h1v1h-1zM653,800h1v1h-1z"/><path fill="#009cfc" d="M663,771h1v1h-1zM664,771h1v1h-1zM659,772h1v1h-1zM660,772h1v1h-1zM661,772h1v1h-1zM662,772h1v1h-1zM663,772h1v1h-1zM661,773h1v1h-1zM656,780h1v1h-1zM650,786h1v1h-1zM650,792h1v1h-1zM651,798h1v1h-1zM654,798h1v1h-1zM652,800h1v1h-1z"/><path fill="#0c24fc" d="M668,771h1v1h-1zM663,776h1v1h-1zM660,778h1v1h-1zM665,781h1v1h-1zM650,782h1v1h-1zM649,784h1v1h-1zM663,784h1v1h-1zM660,789h1v1h-1zM649,799h1v1h-1zM650,804h1v1h-1zM653,807h1v1h-1z"/><path fill="#00b4f0" d="M657,773h1v1h-1zM655,778h1v1h-1zM657,778h1v1h-1zM656,781h1v1h-1zM658,789h1v1h-1zM654,797h1v1h-1zM652,799h1v1h-1z"/><path fill="#00ccf0" d="M658,773h1v1h-1zM660,774h1v1h-1zM658,777h1v1h-1zM656,778h1v1h-1zM653,782h1v1h-1zM658,786h1v1h-1zM658,788h1v1h-1zM657,791h1v1h-1zM655,794h1v1h-1zM651,795h1v1h-1zM654,796h1v1h-1z"/><path fill="#00d8f0" d="M659,773h1v1h-1zM655,781h1v1h-1z"/><path fill="#00c0f0" d="M660,773h1v1h-1zM656,774h1v1h-1zM660,775h1v1h-1zM655,776h1v1h-1zM655,777h1v1h-1zM654,781h1v1h-1zM657,783h1v1h-1zM651,784h1v1h-1zM658,785h1v1h-1zM651,796h1v1h-1zM652,798h1v1h-1zM653,798h1v1h-1z"/><path fill="#00e4c0" d="M657,774h1v1h-1zM657,790h1v1h-1z"/><path fill="#18e490" d="M658,774h1v1h-1zM658,776h1v1h-1zM657,785h1v1h-1zM652,794h1v1h-1z"/><path fill="#0ce4b4" d="M659,774h1v1h-1zM656,776h1v1h-1zM651,791h1v1h-1zM652,795h1v1h-1z"/><path fill="#00a8fc" d="M655,775h1v1h-1zM655,779h1v1h-1zM656,779h1v1h-1zM655,780h1v1h-1zM650,787h1v1h-1zM650,788h1v1h-1zM650,789h1v1h-1zM650,790h1v1h-1zM650,791h1v1h-1zM656,793h1v1h-1zM655,795h1v1h-1z"/><path fill="#00e4d8" d="M656,775h1v1h-1zM656,777h1v1h-1zM657,777h1v1h-1zM651,785h1v1h-1z"/><path fill="#18e46c" d="M657,775h1v1h-1zM657,776h1v1h-1zM655,782h1v1h-1zM652,784h1v1h-1zM657,786h1v1h-1zM655,792h1v1h-1zM652,793h1v1h-1zM653,794h1v1h-1z"/><path fill="#24f054" d="M658,775h1v1h-1zM656,783h1v1h-1zM657,787h1v1h-1zM657,788h1v1h-1z"/><path fill="#0ce49c" d="M659,775h1v1h-1zM654,782h1v1h-1zM651,786h1v1h-1zM651,790h1v1h-1zM653,795h1v1h-1z"/><path fill="#00d8e4" d="M659,776h1v1h-1zM652,783h1v1h-1zM658,787h1v1h-1zM651,794h1v1h-1zM652,797h1v1h-1zM653,797h1v1h-1z"/><path fill="#00e4cc" d="M656,782h1v1h-1zM657,784h1v1h-1zM651,792h1v1h-1zM655,793h1v1h-1zM653,796h1v1h-1z"/><path fill="#24e460" d="M653,783h1v1h-1z"/><path fill="#6cf018" d="M654,783h1v1h-1z"/><path fill="#78f00c" d="M655,783h1v1h-1z"/><path fill="#84f00c" d="M653,784h1v1h-1zM652,789h1v1h-1zM656,789h1v1h-1zM653,791h1v1h-1z"/><path fill="#f0cc00" d="M654,784h1v1h-1zM655,784h1v1h-1z"/><path fill="#60f018" d="M656,784h1v1h-1zM652,790h1v1h-1z"/><path fill="#60f024" d="M652,785h1v1h-1zM655,791h1v1h-1z"/><path fill="#f0c000" d="M653,785h1v1h-1zM653,789h1v1h-1zM655,789h1v1h-1z"/><path fill="#fc4800" d="M654,785h1v1h-1z"/><path fill="#fc7800" d="M655,785h1v1h-1z"/><path fill="#9cf00c" d="M656,785h1v1h-1zM652,786h1v1h-1z"/><path fill="#fc6c00" d="M653,786h1v1h-1z"/><path fill="#fc0c00" d="M654,786h1v1h-1zM654,787h1v1h-1z"/><path fill="#fc6000" d="M655,786h1v1h-1zM653,787h1v1h-1zM655,787h1v1h-1z"/><path fill="#b4f000" d="M656,786h1v1h-1zM652,787h1v1h-1zM656,788h1v1h-1zM655,790h1v1h-1z"/><path fill="#18e478" d="M651,787h1v1h-1zM651,788h1v1h-1zM657,789h1v1h-1zM656,791h1v1h-1z"/><path fill="#c0f000" d="M656,787h1v1h-1z"/><path fill="#a8f000" d="M652,788h1v1h-1z"/><path fill="#fc8400" d="M653,788h1v1h-1zM655,788h1v1h-1z"/><path fill="#fc3c00" d="M654,788h1v1h-1z"/><path fill="#18e484" d="M651,789h1v1h-1z"/><path fill="#fc9000" d="M654,789h1v1h-1z"/><path fill="#ccf000" d="M653,790h1v1h-1z"/><path fill="#f0e400" d="M654,790h1v1h-1z"/><path fill="#54f030" d="M656,790h1v1h-1z"/><path fill="#48f030" d="M652,791h1v1h-1zM654,792h1v1h-1z"/><path fill="#90f00c" d="M654,791h1v1h-1z"/><path fill="#30f048" d="M652,792h1v1h-1zM653,793h1v1h-1z"/><path fill="#54f024" d="M653,792h1v1h-1z"/><path fill="#00e4e4" d="M656,792h1v1h-1zM651,793h1v1h-1zM654,795h1v1h-1zM652,796h1v1h-1z"/><path fill="#24f060" d="M654,793h1v1h-1z"/><path fill="#0ce4a8" d="M654,794h1v1h-1z"/><path fill="#00b4fc" d="M651,797h1v1h-1zM653,799h1v1h-1z"/><path fill="#2030ff" fill-opacity="0.75" d="M661.38,766.3h0.9v0.9h-0.9zM664.35,766.22h0.9v0.9h-0.9zM666.31,766.31h0.9v0.9h-0.9zM668.14,766.1h0.9v0.9h-0.9zM669.13,766.01h0.9v0.9h-0.9zM649.03,767.3h0.9v0.9h-0.9zM661.35,767.23h0.9v0.9h-0.9zM662.23,767.33h0.9v0.9h-0.9zM663.19,767.17h0.9v0.9h-0.9zM665.08,767.14h0.9v0.9h-0.9zM666.38,767.28h0.9v0.9h-0.9zM667.37,767.01h0.9v0.9h-0.9zM651.09,768.3h0.9v0.9h-0.9zM653.35,768.4h0.9v0.9h-0.9zM654.15,768.28h0.9v0.9h-0.9zM656.12,768.13h0.9v0.9h-0.9zM658.22,768.2h0.9v0.9h-0.9zM659.06,768.38h0.9v0.9h-0.9zM668.32,768.07h0.9v0.9h-0.9zM649.01,769.2h0.9v0.9h-0.9zM656.37,769.22h0.9v0.9h-0.9zM657.25,769.32h0.9v0.9h-0.9zM669.24,769.1h0.9v0.9h-0.9zM670.17,769.21h0.9v0.9h-0.9zM646.14,770.29h0.9v0.9h-0.9zM648.1,770.21h0.9v0.9h-0.9zM649.24,770.36h0.9v0.9h-0.9zM669.23,770.29h0.9v0.9h-0.9zM669.38,771.18h0.9v0.9h-0.9zM670.03,771.32h0.9v0.9h-0.9zM669.31,772.1h0.9v0.9h-0.9zM670.06,772.16h0.9v0.9h-0.9zM647.03,773.08h0.9v0.9h-0.9zM648.2,773.07h0.9v0.9h-0.9zM669.18,773.39h0.9v0.9h-0.9zM648.07,774.03h0.9v0.9h-0.9zM649.06,775.35h0.9v0.9h-0.9zM650,775.34h0.9v0.9h-0.9zM650.22,776.27h0.9v0.9h-0.9zM670.15,776.34h0.9v0.9h-0.9zM652.16,777.07h0.9v0.9h-0.9zM669.36,777.32h0.9v0.9h-0.9zM670.13,777.19h0.9v0.9h-0.9zM650.15,779.16h0.9v0.9h-0.9zM651.37,779.22h0.9v0.9h-0.9zM668.13,779.33h0.9v0.9h-0.9zM669.28,779.01h0.9v0.9h-0.9zM647.32,780.06h0.9v0.9h-0.9zM649.11,780.29h0.9v0.9h-0.9zM667.37,780.04h0.9v0.9h-0.9zM649.35,781.3h0.9v0.9h-0.9zM650.39,781.02h0.9v0.9h-0.9zM666.05,781.01h0.9v0.9h-0.9zM669.06,781.07h0.9v0.9h-0.9zM649.39,782.17h0.9v0.9h-0.9zM666.1,782.09h0.9v0.9h-0.9zM647.06,783.14h0.9v0.9h-0.9zM665.21,783.27h0.9v0.9h-0.9zM666.18,783.32h0.9v0.9h-0.9zM647.16,784.38h0.9v0.9h-0.9zM666.07,784.15h0.9v0.9h-0.9zM645.32,785.31h0.9v0.9h-0.9zM647.32,785.17h0.9v0.9h-0.9zM648.23,785.29h0.9v0.9h-0.9zM664.38,785.38h0.9v0.9h-0.9zM648.32,786.33h0.9v0.9h-0.9zM647.34,787.2h0.9v0.9h-0.9zM662.37,787.03h0.9v0.9h-0.9zM645.31,789.04h0.9v0.9h-0.9zM646.05,789.35h0.9v0.9h-0.9zM647.29,789.1h0.9v0.9h-0.9zM663.2,789.29h0.9v0.9h-0.9zM646.15,790.37h0.9v0.9h-0.9zM660.38,791.19h0.9v0.9h-0.9zM661.3,791.06h0.9v0.9h-0.9zM644.4,792.22h0.9v0.9h-0.9zM646.25,792.15h0.9v0.9h-0.9zM647.33,792.01h0.9v0.9h-0.9zM660.03,792.34h0.9v0.9h-0.9zM662.19,792.19h0.9v0.9h-0.9zM647.37,793.07h0.9v0.9h-0.9zM659.33,793.05h0.9v0.9h-0.9zM660.2,793.13h0.9v0.9h-0.9zM661.37,793.19h0.9v0.9h-0.9zM647.36,794.25h0.9v0.9h-0.9zM647.04,795.37h0.9v0.9h-0.9zM658.27,796.22h0.9v0.9h-0.9zM660.05,796.19h0.9v0.9h-0.9zM648.24,797.06h0.9v0.9h-0.9zM648.22,798.13h0.9v0.9h-0.9zM657.08,798.05h0.9v0.9h-0.9zM658.25,798.23h0.9v0.9h-0.9zM648.35,799.27h0.9v0.9h-0.9zM657.24,799.12h0.9v0.9h-0.9zM645,800.22h0.9v0.9h-0.9zM648.33,800.27h0.9v0.9h-0.9zM647.02,801.17h0.9v0.9h-0.9zM656.23,801h0.9v0.9h-0.9zM657.36,801.24h0.9v0.9h-0.9zM659.08,801.07h0.9v0.9h-0.9zM647.37,802.11h0.9v0.9h-0.9zM656.13,802.39h0.9v0.9h-0.9zM659.33,802.39h0.9v0.9h-0.9zM648.06,803.15h0.9v0.9h-0.9zM649.38,803.4h0.9v0.9h-0.9zM648.36,804.1h0.9v0.9h-0.9zM649.06,804.06h0.9v0.9h-0.9zM655.32,804.06h0.9v0.9h-0.9zM649.02,805.17h0.9v0.9h-0.9zM655.3,805.1h0.9v0.9h-0.9zM658.19,805.16h0.9v0.9h-0.9zM649.27,806.33h0.9v0.9h-0.9zM655.2,806.37h0.9v0.9h-0.9zM658.03,806.13h0.9v0.9h-0.9zM647.26,807.17h0.9v0.9h-0.9zM649.37,807.1h0.9v0.9h-0.9zM654.12,807.13h0.9v0.9h-0.9zM648.05,808.34h0.9v0.9h-0.9zM650.25,808.02h0.9v0.9h-0.9zM654.13,808.04h0.9v0.9h-0.9zM650.04,809.36h0.9v0.9h-0.9zM654.09,809.16h0.9v0.9h-0.9zM655.04,809.27h0.9v0.9h-0.9zM650.16,810.28h0.9v0.9h-0.9zM651.06,810.03h0.9v0.9h-0.9zM653.4,810.37h0.9v0.9h-0.9zM654.2,810.2h0.9v0.9h-0.9zM655.27,810.2h0.9v0.9h-0.9zM651.06,811.19h0.9v0.9h-0.9zM652.27,811.28h0.9v0.9h-0.9zM653.39,811.02h0.9v0.9h-0.9zM649.23,812.29h0.9v0.9h-0.9zM650.28,812.15h0.9v0.9h-0.9zM652.39,812.18h0.9v0.9h-0.9zM653.04,812.29h0.9v0.9h-0.9zM651.15,813.27h0.9v0.9h-0.9zM652.02,813.14h0.9v0.9h-0.9z"/></g>
<rect x="616.1" y="750.3" width="65.6" height="65.7" fill="none" stroke="#666" stroke-width="0.6"/>
<line x1="656.4" y1="750.3" x2="656.4" y2="816" stroke="#111" stroke-width="0.9"/>
<line x1="616.1" y1="779.5" x2="681.7" y2="779.5" stroke="#111" stroke-width="0.9"/>
<line x1="613.7" y1="813" x2="616.1" y2="813" stroke="#222" stroke-width="0.7"/>
<line x1="614.9" y1="810.87" x2="616.1" y2="810.87" stroke="#555" stroke-width="0.4"/>
<line x1="614.9" y1="808.74" x2="616.1" y2="808.74" stroke="#555" stroke-width="0.4"/>
<line x1="614.9" y1="806.6" x2="616.1" y2="806.6" stroke="#555" stroke-width="0.4"/>
<text x="612.5" y="814" font-size="2.8" font-weight="bold" text-anchor="end" fill="#222" stroke="#222" stroke-width="0.06">10<tspan font-size="2" dy="-1.2">0</tspan></text>
<line x1="613.7" y1="804.47" x2="616.1" y2="804.47" stroke="#222" stroke-width="0.7"/>
<line x1="614.9" y1="802.34" x2="616.1" y2="802.34" stroke="#555" stroke-width="0.4"/>
<line x1="614.9" y1="800.21" x2="616.1" y2="800.21" stroke="#555" stroke-width="0.4"/>
<line x1="614.9" y1="798.07" x2="616.1" y2="798.07" stroke="#555" stroke-width="0.4"/>
<text x="612.5" y="805.47" font-size="2.8" font-weight="bold" text-anchor="end" fill="#222" stroke="#222" stroke-width="0.06">10<tspan font-size="2" dy="-1.2">1</tspan></text>
<line x1="613.7" y1="795.94" x2="616.1" y2="795.94" stroke="#222" stroke-width="0.7"/>
<line x1="614.9" y1="793.81" x2="616.1" y2="793.81" stroke="#555" stroke-width="0.4"/>
<line x1="614.9" y1="791.68" x2="616.1" y2="791.68" stroke="#555" stroke-width="0.4"/>
<line x1="614.9" y1="789.55" x2="616.1" y2="789.55" stroke="#555" stroke-width="0.4"/>
<text x="612.5" y="796.95" font-size="2.8" font-weight="bold" text-anchor="end" fill="#222" stroke="#222" stroke-width="0.06">10<tspan font-size="2" dy="-1.2">2</tspan></text>
<line x1="613.7" y1="787.41" x2="616.1" y2="787.41" stroke="#222" stroke-width="0.7"/>
<line x1="614.9" y1="785.28" x2="616.1" y2="785.28" stroke="#555" stroke-width="0.4"/>
<line x1="614.9" y1="783.15" x2="616.1" y2="783.15" stroke="#555" stroke-width="0.4"/>
<line x1="614.9" y1="781.02" x2="616.1" y2="781.02" stroke="#555" stroke-width="0.4"/>
<text x="612.5" y="788.42" font-size="2.8" font-weight="bold" text-anchor="end" fill="#222" stroke="#222" stroke-width="0.06">10<tspan font-size="2" dy="-1.2">3</tspan></text>
<line x1="613.7" y1="778.89" x2="616.1" y2="778.89" stroke="#222" stroke-width="0.7"/>
<line x1="614.9" y1="776.75" x2="616.1" y2="776.75" stroke="#555" stroke-width="0.4"/>
<line x1="614.9" y1="774.62" x2="616.1" y2="774.62" stroke="#555" stroke-width="0.4"/>
<line x1="614.9" y1="772.49" x2="616.1" y2="772.49" stroke="#555" stroke-width="0.4"/>
<text x="612.5" y="779.89" font-size="2.8" font-weight="bold" text-anchor="end" fill="#222" stroke="#222" stroke-width="0.06">10<tspan font-size="2" dy="-1.2">4</tspan></text>
<line x1="613.7" y1="770.36" x2="616.1" y2="770.36" stroke="#222" stroke-width="0.7"/>
<line x1="614.9" y1="768.22" x2="616.1" y2="768.22" stroke="#555" stroke-width="0.4"/>
<line x1="614.9" y1="766.09" x2="616.1" y2="766.09" stroke="#555" stroke-width="0.4"/>
<line x1="614.9" y1="763.96" x2="616.1" y2="763.96" stroke="#555" stroke-width="0.4"/>
<text x="612.5" y="771.36" font-size="2.8" font-weight="bold" text-anchor="end" fill="#222" stroke="#222" stroke-width="0.06">10<tspan font-size="2" dy="-1.2">5</tspan></text>
<line x1="613.7" y1="761.83" x2="616.1" y2="761.83" stroke="#222" stroke-width="0.7"/>
<line x1="614.9" y1="759.7" x2="616.1" y2="759.7" stroke="#555" stroke-width="0.4"/>
<line x1="614.9" y1="757.56" x2="616.1" y2="757.56" stroke="#555" stroke-width="0.4"/>
<line x1="614.9" y1="755.43" x2="616.1" y2="755.43" stroke="#555" stroke-width="0.4"/>
<text x="612.5" y="762.83" font-size="2.8" font-weight="bold" text-anchor="end" fill="#222" stroke="#222" stroke-width="0.06">10<tspan font-size="2" dy="-1.2">6</tspan></text>
<line x1="613.7" y1="753.3" x2="616.1" y2="753.3" stroke="#222" stroke-width="0.7"/>
<line x1="614.9" y1="751.17" x2="616.1" y2="751.17" stroke="#555" stroke-width="0.4"/>
<line x1="614.9" y1="749.04" x2="616.1" y2="749.04" stroke="#555" stroke-width="0.4"/>
<line x1="614.9" y1="746.9" x2="616.1" y2="746.9" stroke="#555" stroke-width="0.4"/>
<text x="612.5" y="754.3" font-size="2.8" font-weight="bold" text-anchor="end" fill="#222" stroke="#222" stroke-width="0.06">10<tspan font-size="2" dy="-1.2">7</tspan></text>
<line x1="619.1" y1="816" x2="619.1" y2="818.4" stroke="#222" stroke-width="0.7"/>
<line x1="621.77" y1="816" x2="621.77" y2="817.2" stroke="#555" stroke-width="0.4"/>
<line x1="624.43" y1="816" x2="624.43" y2="817.2" stroke="#555" stroke-width="0.4"/>
<line x1="627.1" y1="816" x2="627.1" y2="817.2" stroke="#555" stroke-width="0.4"/>
<line x1="629.77" y1="816" x2="629.77" y2="817.2" stroke="#555" stroke-width="0.4"/>
<line x1="632.43" y1="816" x2="632.43" y2="817.2" stroke="#555" stroke-width="0.4"/>
<text x="619.1" y="822.6" font-size="2.8" font-weight="bold" text-anchor="middle" fill="#222" stroke="#222" stroke-width="0.06">10<tspan font-size="2" dy="-1.2">0</tspan></text>
<line x1="635.1" y1="816" x2="635.1" y2="818.4" stroke="#222" stroke-width="0.7"/>
<line x1="637.77" y1="816" x2="637.77" y2="817.2" stroke="#555" stroke-width="0.4"/>
<line x1="640.43" y1="816" x2="640.43" y2="817.2" stroke="#555" stroke-width="0.4"/>
<line x1="643.1" y1="816" x2="643.1" y2="817.2" stroke="#555" stroke-width="0.4"/>
<line x1="645.77" y1="816" x2="645.77" y2="817.2" stroke="#555" stroke-width="0.4"/>
<line x1="648.43" y1="816" x2="648.43" y2="817.2" stroke="#555" stroke-width="0.4"/>
<text x="635.1" y="822.6" font-size="2.8" font-weight="bold" text-anchor="middle" fill="#222" stroke="#222" stroke-width="0.06">10<tspan font-size="2" dy="-1.2">1</tspan></text>
<line x1="651.1" y1="816" x2="651.1" y2="818.4" stroke="#222" stroke-width="0.7"/>
<line x1="653.77" y1="816" x2="653.77" y2="817.2" stroke="#555" stroke-width="0.4"/>
<line x1="656.43" y1="816" x2="656.43" y2="817.2" stroke="#555" stroke-width="0.4"/>
<line x1="659.1" y1="816" x2="659.1" y2="817.2" stroke="#555" stroke-width="0.4"/>
<line x1="661.77" y1="816" x2="661.77" y2="817.2" stroke="#555" stroke-width="0.4"/>
<line x1="664.43" y1="816" x2="664.43" y2="817.2" stroke="#555" stroke-width="0.4"/>
<text x="651.1" y="822.6" font-size="2.8" font-weight="bold" text-anchor="middle" fill="#222" stroke="#222" stroke-width="0.06">10<tspan font-size="2" dy="-1.2">2</tspan></text>
<line x1="667.1" y1="816" x2="667.1" y2="818.4" stroke="#222" stroke-width="0.7"/>
<line x1="669.77" y1="816" x2="669.77" y2="817.2" stroke="#555" stroke-width="0.4"/>
<line x1="672.43" y1="816" x2="672.43" y2="817.2" stroke="#555" stroke-width="0.4"/>
<line x1="675.1" y1="816" x2="675.1" y2="817.2" stroke="#555" stroke-width="0.4"/>
<line x1="677.77" y1="816" x2="677.77" y2="817.2" stroke="#555" stroke-width="0.4"/>
<line x1="680.43" y1="816" x2="680.43" y2="817.2" stroke="#555" stroke-width="0.4"/>
<text x="667.1" y="822.6" font-size="2.8" font-weight="bold" text-anchor="middle" fill="#222" stroke="#222" stroke-width="0.06">10<tspan font-size="2" dy="-1.2">3</tspan></text>
<text x="618.1" y="755.97" font-size="3" font-weight="bold" stroke="#000" stroke-width="0.07">Q1</text>
<text x="618.1" y="760.17" font-size="3" font-weight="bold" stroke="#000" stroke-width="0.07">4.57</text>
<text x="679.7" y="755.97" font-size="3" font-weight="bold" text-anchor="end" stroke="#000" stroke-width="0.07">Q2</text>
<text x="679.7" y="760.17" font-size="3" font-weight="bold" text-anchor="end" stroke="#000" stroke-width="0.07">20.0</text>
<text x="618.1" y="808.67" font-size="3" font-weight="bold" stroke="#000" stroke-width="0.07">Q4</text>
<text x="618.1" y="812.87" font-size="3" font-weight="bold" stroke="#000" stroke-width="0.07">60.6</text>
<text x="679.7" y="808.67" font-size="3" font-weight="bold" text-anchor="end" stroke="#000" stroke-width="0.07">Q3</text>
<text x="679.7" y="812.87" font-size="3" font-weight="bold" text-anchor="end" stroke="#000" stroke-width="0.07">14.8</text>
<text x="647.7" y="748.07" font-size="9.4" text-anchor="middle" stroke="#000" stroke-width="0.08">Tet (15 µM)</text>
<rect x="453.4" y="839.3" width="66.3" height="65.8" fill="#fff"/>
<g filter="url(#b05)"><path fill="#0c18fc" d="M491,858h1v1h-1zM492,858h1v1h-1zM493,858h1v1h-1zM494,858h1v1h-1zM489,859h1v1h-1zM495,859h1v1h-1zM496,859h1v1h-1zM497,859h1v1h-1zM498,859h1v1h-1zM496,860h1v1h-1zM497,860h1v1h-1zM498,860h1v1h-1zM499,860h1v1h-1zM488,861h1v1h-1zM496,861h1v1h-1zM497,861h1v1h-1zM488,862h1v1h-1zM495,862h1v1h-1zM488,863h1v1h-1zM493,863h1v1h-1zM492,864h1v1h-1zM491,865h1v1h-1zM489,866h1v1h-1zM489,867h1v1h-1zM490,867h1v1h-1zM500,867h1v1h-1zM489,868h1v1h-1zM490,868h1v1h-1zM499,868h1v1h-1zM500,868h1v1h-1zM488,869h1v1h-1zM498,869h1v1h-1zM499,869h1v1h-1zM500,869h1v1h-1zM491,870h1v1h-1zM498,870h1v1h-1zM499,870h1v1h-1zM485,871h1v1h-1zM497,871h1v1h-1zM498,871h1v1h-1zM492,872h1v1h-1zM496,872h1v1h-1zM497,872h1v1h-1zM498,872h1v1h-1zM493,873h1v1h-1zM495,873h1v1h-1zM496,873h1v1h-1zM497,873h1v1h-1zM493,874h1v1h-1zM494,874h1v1h-1zM495,874h1v1h-1zM496,874h1v1h-1zM497,874h1v1h-1zM483,875h1v1h-1zM495,875h1v1h-1zM496,875h1v1h-1zM483,876h1v1h-1zM495,876h1v1h-1zM483,877h1v1h-1zM495,877h1v1h-1zM483,878h1v1h-1zM483,879h1v1h-1zM494,879h1v1h-1zM483,880h1v1h-1zM483,881h1v1h-1zM493,881h1v1h-1zM483,882h1v1h-1zM483,883h1v1h-1zM492,883h1v1h-1zM491,886h1v1h-1zM491,887h1v1h-1zM484,888h1v1h-1zM484,889h1v1h-1zM484,890h1v1h-1zM490,890h1v1h-1zM484,891h1v1h-1zM490,891h1v1h-1zM489,893h1v1h-1zM485,894h1v1h-1zM489,894h1v1h-1zM485,895h1v1h-1zM485,896h1v1h-1zM488,896h1v1h-1zM488,897h1v1h-1zM486,898h1v1h-1zM487,898h1v1h-1zM488,898h1v1h-1zM486,899h1v1h-1zM487,899h1v1h-1z"/><path fill="#0c0cfc" d="M495,858h1v1h-1zM499,859h1v1h-1zM500,859h1v1h-1zM501,859h1v1h-1zM500,860h1v1h-1zM501,860h1v1h-1zM498,861h1v1h-1zM488,864h1v1h-1zM488,865h1v1h-1zM501,866h1v1h-1zM501,867h1v1h-1zM491,869h1v1h-1zM486,870h1v1h-1zM497,870h1v1h-1zM492,871h1v1h-1zM496,871h1v1h-1zM499,871h1v1h-1zM484,872h1v1h-1zM494,873h1v1h-1zM496,876h1v1h-1zM495,878h1v1h-1zM494,880h1v1h-1zM493,882h1v1h-1zM483,884h1v1h-1zM492,884h1v1h-1zM489,895h1v1h-1zM485,897h1v1h-1z"/><path fill="#0024fc" d="M490,859h1v1h-1zM493,859h1v1h-1zM494,859h1v1h-1zM489,860h1v1h-1zM495,860h1v1h-1zM495,861h1v1h-1zM494,862h1v1h-1zM489,863h1v1h-1zM492,863h1v1h-1zM489,864h1v1h-1zM491,864h1v1h-1zM489,865h1v1h-1zM490,865h1v1h-1zM489,869h1v1h-1zM490,869h1v1h-1zM487,870h1v1h-1zM486,871h1v1h-1zM491,871h1v1h-1zM485,872h1v1h-1zM492,873h1v1h-1zM484,874h1v1h-1zM493,875h1v1h-1zM494,875h1v1h-1zM493,876h1v1h-1zM494,876h1v1h-1zM494,877h1v1h-1zM493,879h1v1h-1zM493,880h1v1h-1zM492,882h1v1h-1zM484,883h1v1h-1zM484,884h1v1h-1zM491,884h1v1h-1zM484,885h1v1h-1zM484,886h1v1h-1zM484,887h1v1h-1zM490,887h1v1h-1zM490,888h1v1h-1zM485,890h1v1h-1zM485,891h1v1h-1zM489,891h1v1h-1zM485,892h1v1h-1zM489,892h1v1h-1zM488,893h1v1h-1zM486,894h1v1h-1zM488,894h1v1h-1zM486,895h1v1h-1zM487,895h1v1h-1zM488,895h1v1h-1zM486,896h1v1h-1zM487,896h1v1h-1zM487,897h1v1h-1z"/><path fill="#0030fc" d="M491,859h1v1h-1zM492,859h1v1h-1zM493,860h1v1h-1zM494,860h1v1h-1zM489,861h1v1h-1zM494,861h1v1h-1zM489,862h1v1h-1zM493,862h1v1h-1zM490,863h1v1h-1zM491,863h1v1h-1zM490,864h1v1h-1zM488,870h1v1h-1zM489,870h1v1h-1zM490,870h1v1h-1zM487,871h1v1h-1zM491,872h1v1h-1zM485,873h1v1h-1zM492,874h1v1h-1zM484,875h1v1h-1zM492,875h1v1h-1zM484,876h1v1h-1zM492,876h1v1h-1zM484,877h1v1h-1zM493,877h1v1h-1zM484,878h1v1h-1zM493,878h1v1h-1zM484,879h1v1h-1zM484,880h1v1h-1zM492,880h1v1h-1zM484,881h1v1h-1zM492,881h1v1h-1zM484,882h1v1h-1zM491,882h1v1h-1zM491,883h1v1h-1zM490,885h1v1h-1zM485,886h1v1h-1zM490,886h1v1h-1zM485,887h1v1h-1zM485,888h1v1h-1zM489,888h1v1h-1zM485,889h1v1h-1zM489,889h1v1h-1zM489,890h1v1h-1zM486,891h1v1h-1zM488,891h1v1h-1zM486,892h1v1h-1zM487,892h1v1h-1zM488,892h1v1h-1zM486,893h1v1h-1zM487,893h1v1h-1zM487,894h1v1h-1z"/><path fill="#003cfc" d="M490,860h1v1h-1zM493,861h1v1h-1zM486,872h1v1h-1zM492,877h1v1h-1zM490,884h1v1h-1zM485,885h1v1h-1zM486,890h1v1h-1zM488,890h1v1h-1zM487,891h1v1h-1z"/><path fill="#006cfc" d="M491,860h1v1h-1zM491,862h1v1h-1zM488,871h1v1h-1zM485,874h1v1h-1zM485,882h1v1h-1zM488,888h1v1h-1zM487,889h1v1h-1z"/><path fill="#0060fc" d="M492,860h1v1h-1zM490,861h1v1h-1zM490,871h1v1h-1zM485,883h1v1h-1zM490,883h1v1h-1zM489,886h1v1h-1zM486,888h1v1h-1z"/><path fill="#0090fc" d="M491,861h1v1h-1zM487,872h1v1h-1zM486,873h1v1h-1zM491,875h1v1h-1zM485,880h1v1h-1zM489,884h1v1h-1z"/><path fill="#0078fc" d="M492,861h1v1h-1zM491,874h1v1h-1zM489,885h1v1h-1zM486,887h1v1h-1z"/><path fill="#0054fc" d="M490,862h1v1h-1zM491,873h1v1h-1zM491,881h1v1h-1zM485,884h1v1h-1zM488,889h1v1h-1zM487,890h1v1h-1z"/><path fill="#0048fc" d="M492,862h1v1h-1zM492,878h1v1h-1zM492,879h1v1h-1zM489,887h1v1h-1zM486,889h1v1h-1z"/><path fill="#0c24fc" d="M490,866h1v1h-1zM484,873h1v1h-1zM494,878h1v1h-1zM491,885h1v1h-1zM490,889h1v1h-1zM485,893h1v1h-1zM486,897h1v1h-1z"/><path fill="#0084fc" d="M489,871h1v1h-1zM491,880h1v1h-1zM485,881h1v1h-1zM490,882h1v1h-1zM486,886h1v1h-1zM488,887h1v1h-1zM487,888h1v1h-1z"/><path fill="#00c0f0" d="M488,872h1v1h-1zM485,877h1v1h-1zM486,882h1v1h-1zM489,882h1v1h-1zM488,884h1v1h-1z"/><path fill="#00ccf0" d="M489,872h1v1h-1zM490,873h1v1h-1zM490,880h1v1h-1zM487,884h1v1h-1z"/><path fill="#00a8fc" d="M490,872h1v1h-1zM491,877h1v1h-1zM491,878h1v1h-1zM485,879h1v1h-1zM490,881h1v1h-1zM489,883h1v1h-1zM486,884h1v1h-1zM487,886h1v1h-1z"/><path fill="#00d8e4" d="M487,873h1v1h-1zM490,879h1v1h-1z"/><path fill="#0ce49c" d="M488,873h1v1h-1zM489,873h1v1h-1z"/><path fill="#00d8f0" d="M486,874h1v1h-1zM486,881h1v1h-1zM487,883h1v1h-1zM488,883h1v1h-1z"/><path fill="#18e478" d="M487,874h1v1h-1zM486,876h1v1h-1zM487,880h1v1h-1z"/><path fill="#48f03c" d="M488,874h1v1h-1zM488,879h1v1h-1z"/><path fill="#30f048" d="M489,874h1v1h-1z"/><path fill="#00e4e4" d="M490,874h1v1h-1zM486,880h1v1h-1zM489,881h1v1h-1zM487,882h1v1h-1zM488,882h1v1h-1z"/><path fill="#009cfc" d="M485,875h1v1h-1zM491,876h1v1h-1zM491,879h1v1h-1zM486,885h1v1h-1zM488,886h1v1h-1zM487,887h1v1h-1z"/><path fill="#0ce4a8" d="M486,875h1v1h-1zM488,881h1v1h-1z"/><path fill="#54f030" d="M487,875h1v1h-1zM489,875h1v1h-1zM489,877h1v1h-1z"/><path fill="#84f00c" d="M488,875h1v1h-1z"/><path fill="#00e4c0" d="M490,875h1v1h-1z"/><path fill="#00b4f0" d="M485,876h1v1h-1zM485,878h1v1h-1zM486,883h1v1h-1zM487,885h1v1h-1zM488,885h1v1h-1z"/><path fill="#78f00c" d="M487,876h1v1h-1zM487,877h1v1h-1z"/><path fill="#b4f000" d="M488,876h1v1h-1z"/><path fill="#60f024" d="M489,876h1v1h-1zM487,878h1v1h-1z"/><path fill="#0ce4b4" d="M490,876h1v1h-1zM490,877h1v1h-1zM486,879h1v1h-1zM489,880h1v1h-1zM487,881h1v1h-1z"/><path fill="#18e46c" d="M486,877h1v1h-1zM489,879h1v1h-1z"/><path fill="#a8f00c" d="M488,877h1v1h-1z"/><path fill="#18e484" d="M486,878h1v1h-1z"/><path fill="#6cf00c" d="M488,878h1v1h-1z"/><path fill="#3cf048" d="M489,878h1v1h-1z"/><path fill="#00e4cc" d="M490,878h1v1h-1z"/><path fill="#3cf03c" d="M487,879h1v1h-1z"/><path fill="#18e460" d="M488,880h1v1h-1z"/><path fill="#2030ff" fill-opacity="0.75" d="M503.09,855.31h0.9v0.9h-0.9zM489.14,856.01h0.9v0.9h-0.9zM495.13,856.04h0.9v0.9h-0.9zM499.11,856.19h0.9v0.9h-0.9zM490.34,857.36h0.9v0.9h-0.9zM491.08,857.31h0.9v0.9h-0.9zM492.05,857.36h0.9v0.9h-0.9zM493.16,857.24h0.9v0.9h-0.9zM494.01,857.16h0.9v0.9h-0.9zM495,857.15h0.9v0.9h-0.9zM497.27,857.25h0.9v0.9h-0.9zM498.01,857.27h0.9v0.9h-0.9zM500.08,857.34h0.9v0.9h-0.9zM502.23,857.23h0.9v0.9h-0.9zM503.01,857.13h0.9v0.9h-0.9zM507.09,857.12h0.9v0.9h-0.9zM488.39,858.1h0.9v0.9h-0.9zM490.23,858.15h0.9v0.9h-0.9zM496.32,858.32h0.9v0.9h-0.9zM497.31,858.19h0.9v0.9h-0.9zM499.15,858.09h0.9v0.9h-0.9zM500.31,858.34h0.9v0.9h-0.9zM501.15,858.32h0.9v0.9h-0.9zM502.1,858.3h0.9v0.9h-0.9zM503.4,858.04h0.9v0.9h-0.9zM504.09,858h0.9v0.9h-0.9zM505.04,858.15h0.9v0.9h-0.9zM488.2,859.2h0.9v0.9h-0.9zM502.34,859.08h0.9v0.9h-0.9zM504.13,859.25h0.9v0.9h-0.9zM505.11,859.03h0.9v0.9h-0.9zM508.26,859.21h0.9v0.9h-0.9zM488.17,860.38h0.9v0.9h-0.9zM502.16,860.06h0.9v0.9h-0.9zM503.27,860.18h0.9v0.9h-0.9zM504.09,860.32h0.9v0.9h-0.9zM505.33,860.15h0.9v0.9h-0.9zM507.09,860.38h0.9v0.9h-0.9zM499.07,861.26h0.9v0.9h-0.9zM500.1,861.26h0.9v0.9h-0.9zM501.25,861.07h0.9v0.9h-0.9zM502.13,861.22h0.9v0.9h-0.9zM503.19,861.25h0.9v0.9h-0.9zM504.12,861.27h0.9v0.9h-0.9zM496.3,862.15h0.9v0.9h-0.9zM497.39,862.33h0.9v0.9h-0.9zM498.04,862.24h0.9v0.9h-0.9zM499.37,862.39h0.9v0.9h-0.9zM501.34,862.07h0.9v0.9h-0.9zM503.01,862.36h0.9v0.9h-0.9zM504.33,862.28h0.9v0.9h-0.9zM487.13,863.03h0.9v0.9h-0.9zM494.25,863.05h0.9v0.9h-0.9zM495.12,863.11h0.9v0.9h-0.9zM500.32,863.11h0.9v0.9h-0.9zM504.04,863.37h0.9v0.9h-0.9zM494.08,864.38h0.9v0.9h-0.9zM495.3,864.33h0.9v0.9h-0.9zM496.28,864.16h0.9v0.9h-0.9zM497.09,864.38h0.9v0.9h-0.9zM498.2,864.2h0.9v0.9h-0.9zM499.3,864.3h0.9v0.9h-0.9zM501.08,864.14h0.9v0.9h-0.9zM502.26,864.16h0.9v0.9h-0.9zM503.06,864.37h0.9v0.9h-0.9zM487.32,865.04h0.9v0.9h-0.9zM492.25,865.19h0.9v0.9h-0.9zM497.32,865.1h0.9v0.9h-0.9zM499.24,865.25h0.9v0.9h-0.9zM500.31,865.12h0.9v0.9h-0.9zM502.27,865.33h0.9v0.9h-0.9zM503.27,865.38h0.9v0.9h-0.9zM504.04,865.16h0.9v0.9h-0.9zM488.06,866.07h0.9v0.9h-0.9zM491.08,866.19h0.9v0.9h-0.9zM496.37,866.08h0.9v0.9h-0.9zM497.31,866.23h0.9v0.9h-0.9zM499.31,866.12h0.9v0.9h-0.9zM500.09,866.23h0.9v0.9h-0.9zM502.15,866.19h0.9v0.9h-0.9zM503.26,866.28h0.9v0.9h-0.9zM504.22,866.29h0.9v0.9h-0.9zM505.34,866.35h0.9v0.9h-0.9zM506.1,866.03h0.9v0.9h-0.9zM485.2,867.1h0.9v0.9h-0.9zM488.32,867.29h0.9v0.9h-0.9zM491.09,867h0.9v0.9h-0.9zM492.04,867.28h0.9v0.9h-0.9zM496.3,867.16h0.9v0.9h-0.9zM498.12,867.03h0.9v0.9h-0.9zM502.18,867.17h0.9v0.9h-0.9zM488.18,868.23h0.9v0.9h-0.9zM491.22,868.35h0.9v0.9h-0.9zM492.15,868.35h0.9v0.9h-0.9zM494.25,868.25h0.9v0.9h-0.9zM497.12,868.29h0.9v0.9h-0.9zM498.08,868.26h0.9v0.9h-0.9zM501.26,868.01h0.9v0.9h-0.9zM502.13,868.24h0.9v0.9h-0.9zM503.05,868.27h0.9v0.9h-0.9zM485.29,869.03h0.9v0.9h-0.9zM487.29,869.15h0.9v0.9h-0.9zM492.16,869.2h0.9v0.9h-0.9zM494.21,869.12h0.9v0.9h-0.9zM496.17,869.09h0.9v0.9h-0.9zM501.26,869.33h0.9v0.9h-0.9zM502.3,869.11h0.9v0.9h-0.9zM503.02,869.18h0.9v0.9h-0.9zM484.06,870.21h0.9v0.9h-0.9zM485.38,870.36h0.9v0.9h-0.9zM492.22,870.17h0.9v0.9h-0.9zM493.18,870.37h0.9v0.9h-0.9zM494.23,870.28h0.9v0.9h-0.9zM495.37,870.04h0.9v0.9h-0.9zM496.29,870.01h0.9v0.9h-0.9zM500.05,870.19h0.9v0.9h-0.9zM501.06,870.09h0.9v0.9h-0.9zM502.04,870.08h0.9v0.9h-0.9zM483.1,871.34h0.9v0.9h-0.9zM484.3,871.04h0.9v0.9h-0.9zM494.24,871.35h0.9v0.9h-0.9zM495.03,871.28h0.9v0.9h-0.9zM500.29,871.11h0.9v0.9h-0.9zM502.17,871.11h0.9v0.9h-0.9zM493.32,872.2h0.9v0.9h-0.9zM494.05,872.2h0.9v0.9h-0.9zM495.29,872.15h0.9v0.9h-0.9zM499.36,872.11h0.9v0.9h-0.9zM483.08,873.4h0.9v0.9h-0.9zM498.32,873.22h0.9v0.9h-0.9zM499.35,873.07h0.9v0.9h-0.9zM500.25,873.08h0.9v0.9h-0.9zM482.19,874.26h0.9v0.9h-0.9zM483.02,874.08h0.9v0.9h-0.9zM499.17,874.15h0.9v0.9h-0.9zM497.08,875.38h0.9v0.9h-0.9zM481.3,876.29h0.9v0.9h-0.9zM482.32,877.34h0.9v0.9h-0.9zM498.06,877.23h0.9v0.9h-0.9zM481.06,878.29h0.9v0.9h-0.9zM482.34,878.13h0.9v0.9h-0.9zM497.11,878.16h0.9v0.9h-0.9zM498.17,878.15h0.9v0.9h-0.9zM499.34,878.15h0.9v0.9h-0.9zM480.38,879.09h0.9v0.9h-0.9zM481.01,879.04h0.9v0.9h-0.9zM495.2,879.1h0.9v0.9h-0.9zM496.39,879.15h0.9v0.9h-0.9zM482.28,880.32h0.9v0.9h-0.9zM482.16,881.08h0.9v0.9h-0.9zM481.13,883.28h0.9v0.9h-0.9zM493.27,883.37h0.9v0.9h-0.9zM482.25,884.32h0.9v0.9h-0.9zM493.27,884.36h0.9v0.9h-0.9zM494.05,884.2h0.9v0.9h-0.9zM483.25,885.07h0.9v0.9h-0.9zM493.03,885.18h0.9v0.9h-0.9zM494.19,885.16h0.9v0.9h-0.9zM483.1,886.12h0.9v0.9h-0.9zM492.16,886.26h0.9v0.9h-0.9zM482.13,887h0.9v0.9h-0.9zM483.02,887.17h0.9v0.9h-0.9zM483.01,888.15h0.9v0.9h-0.9zM491.25,888.03h0.9v0.9h-0.9zM482.29,889.32h0.9v0.9h-0.9zM483.05,889.24h0.9v0.9h-0.9zM494.35,889.27h0.9v0.9h-0.9zM492.23,890.15h0.9v0.9h-0.9zM483.18,892.22h0.9v0.9h-0.9zM484.39,892.25h0.9v0.9h-0.9zM490.25,892.21h0.9v0.9h-0.9zM493.13,892.35h0.9v0.9h-0.9zM481.32,893.01h0.9v0.9h-0.9zM484.15,893.09h0.9v0.9h-0.9zM490.21,894.15h0.9v0.9h-0.9zM491.11,895.2h0.9v0.9h-0.9zM484.22,896.37h0.9v0.9h-0.9zM489.13,896.06h0.9v0.9h-0.9zM490.12,896.28h0.9v0.9h-0.9zM484.33,897.33h0.9v0.9h-0.9zM489.38,897.32h0.9v0.9h-0.9zM490,897.35h0.9v0.9h-0.9zM485.34,899.23h0.9v0.9h-0.9zM488.1,899.22h0.9v0.9h-0.9zM489.34,899.36h0.9v0.9h-0.9zM490.28,899.27h0.9v0.9h-0.9zM485.04,900.11h0.9v0.9h-0.9zM486.19,900.33h0.9v0.9h-0.9zM487.04,900.14h0.9v0.9h-0.9zM489.03,900.3h0.9v0.9h-0.9zM490.27,900.03h0.9v0.9h-0.9zM485.18,901.01h0.9v0.9h-0.9zM486.1,901.32h0.9v0.9h-0.9zM485.11,902.3h0.9v0.9h-0.9zM486.13,902.11h0.9v0.9h-0.9zM488.1,903.04h0.9v0.9h-0.9z"/></g>
<rect x="453.4" y="839.3" width="66.3" height="65.8" fill="none" stroke="#666" stroke-width="0.6"/>
<line x1="494.4" y1="839.3" x2="494.4" y2="905.1" stroke="#111" stroke-width="0.9"/>
<line x1="453.4" y1="868.2" x2="519.7" y2="868.2" stroke="#111" stroke-width="0.9"/>
<line x1="451" y1="902.1" x2="453.4" y2="902.1" stroke="#222" stroke-width="0.7"/>
<line x1="452.2" y1="899.96" x2="453.4" y2="899.96" stroke="#555" stroke-width="0.4"/>
<line x1="452.2" y1="897.83" x2="453.4" y2="897.83" stroke="#555" stroke-width="0.4"/>
<line x1="452.2" y1="895.69" x2="453.4" y2="895.69" stroke="#555" stroke-width="0.4"/>
<text x="449.8" y="903.1" font-size="2.8" font-weight="bold" text-anchor="end" fill="#222" stroke="#222" stroke-width="0.06">10<tspan font-size="2" dy="-1.2">0</tspan></text>
<line x1="451" y1="893.56" x2="453.4" y2="893.56" stroke="#222" stroke-width="0.7"/>
<line x1="452.2" y1="891.42" x2="453.4" y2="891.42" stroke="#555" stroke-width="0.4"/>
<line x1="452.2" y1="889.29" x2="453.4" y2="889.29" stroke="#555" stroke-width="0.4"/>
<line x1="452.2" y1="887.15" x2="453.4" y2="887.15" stroke="#555" stroke-width="0.4"/>
<text x="449.8" y="894.56" font-size="2.8" font-weight="bold" text-anchor="end" fill="#222" stroke="#222" stroke-width="0.06">10<tspan font-size="2" dy="-1.2">1</tspan></text>
<line x1="451" y1="885.01" x2="453.4" y2="885.01" stroke="#222" stroke-width="0.7"/>
<line x1="452.2" y1="882.88" x2="453.4" y2="882.88" stroke="#555" stroke-width="0.4"/>
<line x1="452.2" y1="880.74" x2="453.4" y2="880.74" stroke="#555" stroke-width="0.4"/>
<line x1="452.2" y1="878.61" x2="453.4" y2="878.61" stroke="#555" stroke-width="0.4"/>
<text x="449.8" y="886.02" font-size="2.8" font-weight="bold" text-anchor="end" fill="#222" stroke="#222" stroke-width="0.06">10<tspan font-size="2" dy="-1.2">2</tspan></text>
<line x1="451" y1="876.47" x2="453.4" y2="876.47" stroke="#222" stroke-width="0.7"/>
<line x1="452.2" y1="874.34" x2="453.4" y2="874.34" stroke="#555" stroke-width="0.4"/>
<line x1="452.2" y1="872.2" x2="453.4" y2="872.2" stroke="#555" stroke-width="0.4"/>
<line x1="452.2" y1="870.06" x2="453.4" y2="870.06" stroke="#555" stroke-width="0.4"/>
<text x="449.8" y="877.47" font-size="2.8" font-weight="bold" text-anchor="end" fill="#222" stroke="#222" stroke-width="0.06">10<tspan font-size="2" dy="-1.2">3</tspan></text>
<line x1="451" y1="867.93" x2="453.4" y2="867.93" stroke="#222" stroke-width="0.7"/>
<line x1="452.2" y1="865.79" x2="453.4" y2="865.79" stroke="#555" stroke-width="0.4"/>
<line x1="452.2" y1="863.66" x2="453.4" y2="863.66" stroke="#555" stroke-width="0.4"/>
<line x1="452.2" y1="861.52" x2="453.4" y2="861.52" stroke="#555" stroke-width="0.4"/>
<text x="449.8" y="868.93" font-size="2.8" font-weight="bold" text-anchor="end" fill="#222" stroke="#222" stroke-width="0.06">10<tspan font-size="2" dy="-1.2">4</tspan></text>
<line x1="451" y1="859.39" x2="453.4" y2="859.39" stroke="#222" stroke-width="0.7"/>
<line x1="452.2" y1="857.25" x2="453.4" y2="857.25" stroke="#555" stroke-width="0.4"/>
<line x1="452.2" y1="855.11" x2="453.4" y2="855.11" stroke="#555" stroke-width="0.4"/>
<line x1="452.2" y1="852.98" x2="453.4" y2="852.98" stroke="#555" stroke-width="0.4"/>
<text x="449.8" y="860.39" font-size="2.8" font-weight="bold" text-anchor="end" fill="#222" stroke="#222" stroke-width="0.06">10<tspan font-size="2" dy="-1.2">5</tspan></text>
<line x1="451" y1="850.84" x2="453.4" y2="850.84" stroke="#222" stroke-width="0.7"/>
<line x1="452.2" y1="848.71" x2="453.4" y2="848.71" stroke="#555" stroke-width="0.4"/>
<line x1="452.2" y1="846.57" x2="453.4" y2="846.57" stroke="#555" stroke-width="0.4"/>
<line x1="452.2" y1="844.44" x2="453.4" y2="844.44" stroke="#555" stroke-width="0.4"/>
<text x="449.8" y="851.85" font-size="2.8" font-weight="bold" text-anchor="end" fill="#222" stroke="#222" stroke-width="0.06">10<tspan font-size="2" dy="-1.2">6</tspan></text>
<line x1="451" y1="842.3" x2="453.4" y2="842.3" stroke="#222" stroke-width="0.7"/>
<line x1="452.2" y1="840.16" x2="453.4" y2="840.16" stroke="#555" stroke-width="0.4"/>
<line x1="452.2" y1="838.03" x2="453.4" y2="838.03" stroke="#555" stroke-width="0.4"/>
<line x1="452.2" y1="835.89" x2="453.4" y2="835.89" stroke="#555" stroke-width="0.4"/>
<text x="449.8" y="843.3" font-size="2.8" font-weight="bold" text-anchor="end" fill="#222" stroke="#222" stroke-width="0.06">10<tspan font-size="2" dy="-1.2">7</tspan></text>
<line x1="456.4" y1="905.1" x2="456.4" y2="907.5" stroke="#222" stroke-width="0.7"/>
<line x1="459.1" y1="905.1" x2="459.1" y2="906.3" stroke="#555" stroke-width="0.4"/>
<line x1="461.8" y1="905.1" x2="461.8" y2="906.3" stroke="#555" stroke-width="0.4"/>
<line x1="464.5" y1="905.1" x2="464.5" y2="906.3" stroke="#555" stroke-width="0.4"/>
<line x1="467.2" y1="905.1" x2="467.2" y2="906.3" stroke="#555" stroke-width="0.4"/>
<line x1="469.9" y1="905.1" x2="469.9" y2="906.3" stroke="#555" stroke-width="0.4"/>
<text x="456.4" y="911.7" font-size="2.8" font-weight="bold" text-anchor="middle" fill="#222" stroke="#222" stroke-width="0.06">10<tspan font-size="2" dy="-1.2">0</tspan></text>
<line x1="472.59" y1="905.1" x2="472.59" y2="907.5" stroke="#222" stroke-width="0.7"/>
<line x1="475.29" y1="905.1" x2="475.29" y2="906.3" stroke="#555" stroke-width="0.4"/>
<line x1="477.99" y1="905.1" x2="477.99" y2="906.3" stroke="#555" stroke-width="0.4"/>
<line x1="480.69" y1="905.1" x2="480.69" y2="906.3" stroke="#555" stroke-width="0.4"/>
<line x1="483.39" y1="905.1" x2="483.39" y2="906.3" stroke="#555" stroke-width="0.4"/>
<line x1="486.09" y1="905.1" x2="486.09" y2="906.3" stroke="#555" stroke-width="0.4"/>
<text x="472.59" y="911.7" font-size="2.8" font-weight="bold" text-anchor="middle" fill="#222" stroke="#222" stroke-width="0.06">10<tspan font-size="2" dy="-1.2">1</tspan></text>
<line x1="488.79" y1="905.1" x2="488.79" y2="907.5" stroke="#222" stroke-width="0.7"/>
<line x1="491.49" y1="905.1" x2="491.49" y2="906.3" stroke="#555" stroke-width="0.4"/>
<line x1="494.19" y1="905.1" x2="494.19" y2="906.3" stroke="#555" stroke-width="0.4"/>
<line x1="496.89" y1="905.1" x2="496.89" y2="906.3" stroke="#555" stroke-width="0.4"/>
<line x1="499.59" y1="905.1" x2="499.59" y2="906.3" stroke="#555" stroke-width="0.4"/>
<line x1="502.28" y1="905.1" x2="502.28" y2="906.3" stroke="#555" stroke-width="0.4"/>
<text x="488.79" y="911.7" font-size="2.8" font-weight="bold" text-anchor="middle" fill="#222" stroke="#222" stroke-width="0.06">10<tspan font-size="2" dy="-1.2">2</tspan></text>
<line x1="504.98" y1="905.1" x2="504.98" y2="907.5" stroke="#222" stroke-width="0.7"/>
<line x1="507.68" y1="905.1" x2="507.68" y2="906.3" stroke="#555" stroke-width="0.4"/>
<line x1="510.38" y1="905.1" x2="510.38" y2="906.3" stroke="#555" stroke-width="0.4"/>
<line x1="513.08" y1="905.1" x2="513.08" y2="906.3" stroke="#555" stroke-width="0.4"/>
<line x1="515.78" y1="905.1" x2="515.78" y2="906.3" stroke="#555" stroke-width="0.4"/>
<line x1="518.48" y1="905.1" x2="518.48" y2="906.3" stroke="#555" stroke-width="0.4"/>
<text x="504.98" y="911.7" font-size="2.8" font-weight="bold" text-anchor="middle" fill="#222" stroke="#222" stroke-width="0.06">10<tspan font-size="2" dy="-1.2">3</tspan></text>
<text x="455.4" y="844.97" font-size="3" font-weight="bold" stroke="#000" stroke-width="0.07">Q1</text>
<text x="455.4" y="849.17" font-size="3" font-weight="bold" stroke="#000" stroke-width="0.07">2.88</text>
<text x="517.7" y="844.97" font-size="3" font-weight="bold" text-anchor="end" stroke="#000" stroke-width="0.07">Q2</text>
<text x="517.7" y="849.17" font-size="3" font-weight="bold" text-anchor="end" stroke="#000" stroke-width="0.07">1.26</text>
<text x="455.4" y="897.77" font-size="3" font-weight="bold" stroke="#000" stroke-width="0.07">Q4</text>
<text x="455.4" y="901.97" font-size="3" font-weight="bold" stroke="#000" stroke-width="0.07">94.8</text>
<text x="517.7" y="897.77" font-size="3" font-weight="bold" text-anchor="end" stroke="#000" stroke-width="0.07">Q3</text>
<text x="517.7" y="901.97" font-size="3" font-weight="bold" text-anchor="end" stroke="#000" stroke-width="0.07">1.14</text>
<text x="487.8" y="837.07" font-size="9.4" text-anchor="middle" stroke="#000" stroke-width="0.08">siControl</text>
<rect x="534.6" y="839.3" width="66.1" height="65.2" fill="#fff"/>
<g filter="url(#b05)"><path fill="#0c18fc" d="M571,859h1v1h-1zM574,859h1v1h-1zM575,859h1v1h-1zM576,859h1v1h-1zM577,859h1v1h-1zM577,860h1v1h-1zM578,860h1v1h-1zM579,860h1v1h-1zM580,860h1v1h-1zM569,861h1v1h-1zM577,861h1v1h-1zM578,861h1v1h-1zM579,861h1v1h-1zM576,862h1v1h-1zM577,862h1v1h-1zM569,863h1v1h-1zM575,863h1v1h-1zM569,864h1v1h-1zM573,864h1v1h-1zM569,865h1v1h-1zM572,865h1v1h-1zM569,866h1v1h-1zM569,867h1v1h-1zM571,867h1v1h-1zM569,868h1v1h-1zM571,868h1v1h-1zM581,868h1v1h-1zM582,868h1v1h-1zM569,869h1v1h-1zM572,869h1v1h-1zM580,869h1v1h-1zM581,869h1v1h-1zM568,870h1v1h-1zM580,870h1v1h-1zM581,870h1v1h-1zM573,871h1v1h-1zM579,871h1v1h-1zM580,871h1v1h-1zM578,872h1v1h-1zM579,872h1v1h-1zM565,873h1v1h-1zM574,873h1v1h-1zM577,873h1v1h-1zM578,873h1v1h-1zM579,873h1v1h-1zM575,874h1v1h-1zM576,874h1v1h-1zM577,874h1v1h-1zM578,874h1v1h-1zM576,875h1v1h-1zM577,875h1v1h-1zM578,875h1v1h-1zM577,876h1v1h-1zM576,877h1v1h-1zM576,878h1v1h-1zM575,880h1v1h-1zM574,882h1v1h-1zM573,884h1v1h-1zM565,885h1v1h-1zM565,886h1v1h-1zM565,887h1v1h-1zM572,887h1v1h-1zM565,888h1v1h-1zM572,888h1v1h-1zM571,891h1v1h-1zM566,892h1v1h-1zM571,892h1v1h-1zM566,893h1v1h-1zM566,894h1v1h-1zM570,894h1v1h-1zM570,895h1v1h-1zM567,896h1v1h-1zM570,896h1v1h-1zM567,897h1v1h-1zM569,897h1v1h-1zM567,898h1v1h-1zM568,898h1v1h-1zM569,898h1v1h-1zM568,899h1v1h-1z"/><path fill="#0024fc" d="M572,859h1v1h-1zM573,859h1v1h-1zM570,860h1v1h-1zM575,860h1v1h-1zM575,861h1v1h-1zM576,861h1v1h-1zM575,862h1v1h-1zM574,863h1v1h-1zM572,864h1v1h-1zM570,865h1v1h-1zM571,865h1v1h-1zM570,866h1v1h-1zM571,866h1v1h-1zM570,867h1v1h-1zM570,869h1v1h-1zM571,869h1v1h-1zM569,870h1v1h-1zM572,870h1v1h-1zM573,872h1v1h-1zM565,875h1v1h-1zM574,875h1v1h-1zM575,875h1v1h-1zM565,876h1v1h-1zM575,876h1v1h-1zM575,877h1v1h-1zM575,878h1v1h-1zM565,879h1v1h-1zM575,879h1v1h-1zM565,880h1v1h-1zM565,881h1v1h-1zM574,881h1v1h-1zM565,882h1v1h-1zM565,883h1v1h-1zM573,883h1v1h-1zM572,885h1v1h-1zM572,886h1v1h-1zM566,888h1v1h-1zM566,889h1v1h-1zM571,889h1v1h-1zM566,890h1v1h-1zM571,890h1v1h-1zM570,892h1v1h-1zM567,893h1v1h-1zM570,893h1v1h-1zM567,894h1v1h-1zM569,894h1v1h-1zM567,895h1v1h-1zM568,895h1v1h-1zM569,895h1v1h-1zM568,896h1v1h-1zM569,896h1v1h-1zM568,897h1v1h-1z"/><path fill="#0c0cfc" d="M578,859h1v1h-1zM581,860h1v1h-1zM582,860h1v1h-1zM580,861h1v1h-1zM581,861h1v1h-1zM583,865h1v1h-1zM583,866h1v1h-1zM582,867h1v1h-1zM583,867h1v1h-1zM582,869h1v1h-1zM579,870h1v1h-1zM578,871h1v1h-1zM577,872h1v1h-1zM580,872h1v1h-1zM576,873h1v1h-1zM564,877h1v1h-1zM577,877h1v1h-1zM564,878h1v1h-1zM575,881h1v1h-1zM573,885h1v1h-1zM565,889h1v1h-1zM572,889h1v1h-1zM571,893h1v1h-1zM566,895h1v1h-1zM567,899h1v1h-1zM569,899h1v1h-1zM568,900h1v1h-1z"/><path fill="#0030fc" d="M571,860h1v1h-1zM573,860h1v1h-1zM574,860h1v1h-1zM570,861h1v1h-1zM574,861h1v1h-1zM570,862h1v1h-1zM574,862h1v1h-1zM570,863h1v1h-1zM573,863h1v1h-1zM570,864h1v1h-1zM571,864h1v1h-1zM570,870h1v1h-1zM571,870h1v1h-1zM568,871h1v1h-1zM572,871h1v1h-1zM567,872h1v1h-1zM566,873h1v1h-1zM573,873h1v1h-1zM573,874h1v1h-1zM574,876h1v1h-1zM565,877h1v1h-1zM574,877h1v1h-1zM565,878h1v1h-1zM574,878h1v1h-1zM574,879h1v1h-1zM574,880h1v1h-1zM573,881h1v1h-1zM573,882h1v1h-1zM566,883h1v1h-1zM572,883h1v1h-1zM566,884h1v1h-1zM572,884h1v1h-1zM566,885h1v1h-1zM566,886h1v1h-1zM571,886h1v1h-1zM566,887h1v1h-1zM571,887h1v1h-1zM571,888h1v1h-1zM570,889h1v1h-1zM567,890h1v1h-1zM570,890h1v1h-1zM567,891h1v1h-1zM569,891h1v1h-1zM570,891h1v1h-1zM567,892h1v1h-1zM568,892h1v1h-1zM569,892h1v1h-1zM568,893h1v1h-1zM569,893h1v1h-1zM568,894h1v1h-1z"/><path fill="#003cfc" d="M572,860h1v1h-1zM566,874h1v1h-1zM573,875h1v1h-1zM566,882h1v1h-1zM567,889h1v1h-1zM568,891h1v1h-1z"/><path fill="#0c24fc" d="M576,860h1v1h-1zM569,862h1v1h-1zM570,868h1v1h-1zM567,871h1v1h-1zM566,872h1v1h-1zM565,874h1v1h-1zM574,874h1v1h-1zM576,876h1v1h-1zM565,884h1v1h-1zM566,891h1v1h-1z"/><path fill="#006cfc" d="M571,861h1v1h-1zM568,872h1v1h-1zM567,873h1v1h-1zM566,875h1v1h-1zM573,878h1v1h-1zM567,886h1v1h-1zM568,889h1v1h-1z"/><path fill="#0084fc" d="M572,861h1v1h-1zM572,862h1v1h-1zM570,871h1v1h-1zM566,876h1v1h-1zM566,877h1v1h-1zM566,878h1v1h-1zM571,883h1v1h-1zM567,884h1v1h-1zM570,886h1v1h-1zM569,888h1v1h-1z"/><path fill="#0060fc" d="M573,861h1v1h-1zM572,872h1v1h-1zM573,877h1v1h-1zM573,879h1v1h-1zM566,880h1v1h-1zM571,884h1v1h-1zM570,887h1v1h-1zM569,889h1v1h-1z"/><path fill="#0078fc" d="M571,862h1v1h-1zM571,871h1v1h-1zM566,879h1v1h-1zM572,881h1v1h-1zM567,885h1v1h-1zM568,888h1v1h-1z"/><path fill="#0054fc" d="M573,862h1v1h-1zM571,863h1v1h-1zM569,871h1v1h-1zM573,876h1v1h-1zM566,881h1v1h-1zM567,887h1v1h-1zM568,890h1v1h-1z"/><path fill="#0048fc" d="M572,863h1v1h-1zM573,880h1v1h-1zM572,882h1v1h-1zM571,885h1v1h-1zM567,888h1v1h-1zM570,888h1v1h-1zM569,890h1v1h-1z"/><path fill="#00b4f0" d="M569,872h1v1h-1zM567,874h1v1h-1zM572,879h1v1h-1zM567,881h1v1h-1zM568,885h1v1h-1zM569,885h1v1h-1z"/><path fill="#00ccf0" d="M570,872h1v1h-1zM572,877h1v1h-1zM567,880h1v1h-1zM568,883h1v1h-1zM569,884h1v1h-1z"/><path fill="#00c0f0" d="M571,872h1v1h-1zM568,873h1v1h-1zM572,875h1v1h-1zM572,876h1v1h-1zM572,878h1v1h-1zM571,881h1v1h-1zM570,883h1v1h-1zM568,884h1v1h-1z"/><path fill="#00e4c0" d="M569,873h1v1h-1zM567,877h1v1h-1zM571,879h1v1h-1z"/><path fill="#18e490" d="M570,873h1v1h-1zM571,878h1v1h-1z"/><path fill="#00e4d8" d="M571,873h1v1h-1zM569,882h1v1h-1z"/><path fill="#0090fc" d="M572,873h1v1h-1zM568,887h1v1h-1z"/><path fill="#0ce4a8" d="M568,874h1v1h-1z"/><path fill="#3cf048" d="M569,874h1v1h-1z"/><path fill="#48f03c" d="M570,874h1v1h-1zM568,878h1v1h-1z"/><path fill="#0ce490" d="M571,874h1v1h-1zM568,880h1v1h-1z"/><path fill="#00b4fc" d="M572,874h1v1h-1z"/><path fill="#00d8e4" d="M567,875h1v1h-1zM567,879h1v1h-1zM571,880h1v1h-1zM568,882h1v1h-1zM569,883h1v1h-1z"/><path fill="#30f048" d="M568,875h1v1h-1zM570,879h1v1h-1z"/><path fill="#78f00c" d="M569,875h1v1h-1zM570,877h1v1h-1zM569,878h1v1h-1z"/><path fill="#6cf018" d="M570,875h1v1h-1z"/><path fill="#18e46c" d="M571,875h1v1h-1zM571,877h1v1h-1z"/><path fill="#00e4cc" d="M567,876h1v1h-1zM567,878h1v1h-1zM568,881h1v1h-1zM570,881h1v1h-1z"/><path fill="#54f024" d="M568,876h1v1h-1zM568,877h1v1h-1zM570,878h1v1h-1z"/><path fill="#b4f000" d="M569,876h1v1h-1z"/><path fill="#84f00c" d="M570,876h1v1h-1z"/><path fill="#24f060" d="M571,876h1v1h-1zM569,880h1v1h-1z"/><path fill="#a8f000" d="M569,877h1v1h-1z"/><path fill="#24f054" d="M568,879h1v1h-1z"/><path fill="#48f030" d="M569,879h1v1h-1z"/><path fill="#18e484" d="M570,880h1v1h-1z"/><path fill="#00a8fc" d="M572,880h1v1h-1zM567,882h1v1h-1zM571,882h1v1h-1zM570,884h1v1h-1zM568,886h1v1h-1zM569,886h1v1h-1z"/><path fill="#0ce49c" d="M569,881h1v1h-1z"/><path fill="#00d8f0" d="M570,882h1v1h-1z"/><path fill="#009cfc" d="M567,883h1v1h-1zM570,885h1v1h-1zM569,887h1v1h-1z"/><path fill="#2030ff" fill-opacity="0.75" d="M580.37,855.26h0.9v0.9h-0.9zM584.34,855.33h0.9v0.9h-0.9zM575.39,856.09h0.9v0.9h-0.9zM583.03,856.21h0.9v0.9h-0.9zM574.13,857.2h0.9v0.9h-0.9zM578.02,857.06h0.9v0.9h-0.9zM579.31,857.36h0.9v0.9h-0.9zM580.31,857.18h0.9v0.9h-0.9zM583.03,857.27h0.9v0.9h-0.9zM585.37,857.33h0.9v0.9h-0.9zM586.03,857.22h0.9v0.9h-0.9zM589.19,857.01h0.9v0.9h-0.9zM571.07,858.07h0.9v0.9h-0.9zM573.29,858.14h0.9v0.9h-0.9zM575.26,858.16h0.9v0.9h-0.9zM576.08,858.39h0.9v0.9h-0.9zM578.26,858.04h0.9v0.9h-0.9zM579.09,858.34h0.9v0.9h-0.9zM580.18,858.35h0.9v0.9h-0.9zM583.09,858.28h0.9v0.9h-0.9zM584.29,858.14h0.9v0.9h-0.9zM567.35,859.01h0.9v0.9h-0.9zM569.31,859.13h0.9v0.9h-0.9zM570.31,859.22h0.9v0.9h-0.9zM579.2,859.01h0.9v0.9h-0.9zM580.09,859.19h0.9v0.9h-0.9zM581.1,859.27h0.9v0.9h-0.9zM582.25,859.18h0.9v0.9h-0.9zM583.27,859.08h0.9v0.9h-0.9zM584.24,859.29h0.9v0.9h-0.9zM585.12,859.14h0.9v0.9h-0.9zM586.14,859.29h0.9v0.9h-0.9zM588.29,859.05h0.9v0.9h-0.9zM567.1,860.21h0.9v0.9h-0.9zM568.35,860.38h0.9v0.9h-0.9zM569.3,860.28h0.9v0.9h-0.9zM583.1,860.38h0.9v0.9h-0.9zM585.13,860.13h0.9v0.9h-0.9zM586.17,860.36h0.9v0.9h-0.9zM587.33,860.12h0.9v0.9h-0.9zM588.36,860.11h0.9v0.9h-0.9zM567.07,861.1h0.9v0.9h-0.9zM582.12,861.21h0.9v0.9h-0.9zM583.29,861.14h0.9v0.9h-0.9zM567.37,862.35h0.9v0.9h-0.9zM568.28,862.1h0.9v0.9h-0.9zM578.33,862.14h0.9v0.9h-0.9zM579.27,862.08h0.9v0.9h-0.9zM580.17,862.39h0.9v0.9h-0.9zM581.28,862.02h0.9v0.9h-0.9zM582.05,862.06h0.9v0.9h-0.9zM583.07,862.32h0.9v0.9h-0.9zM584.25,862.34h0.9v0.9h-0.9zM585.09,862.31h0.9v0.9h-0.9zM577.22,863.38h0.9v0.9h-0.9zM578.34,863.31h0.9v0.9h-0.9zM581.38,863.04h0.9v0.9h-0.9zM583.13,863.27h0.9v0.9h-0.9zM584.3,863.02h0.9v0.9h-0.9zM586.32,863.19h0.9v0.9h-0.9zM566.2,864.03h0.9v0.9h-0.9zM574.39,864.38h0.9v0.9h-0.9zM576.28,864.29h0.9v0.9h-0.9zM578.37,864.18h0.9v0.9h-0.9zM581.01,864.37h0.9v0.9h-0.9zM582.02,864.05h0.9v0.9h-0.9zM584.08,864.06h0.9v0.9h-0.9zM568.17,865.02h0.9v0.9h-0.9zM574.38,865.34h0.9v0.9h-0.9zM576.28,865.2h0.9v0.9h-0.9zM578.2,865.32h0.9v0.9h-0.9zM579.35,865.17h0.9v0.9h-0.9zM580.1,865.18h0.9v0.9h-0.9zM582.36,865.2h0.9v0.9h-0.9zM584.4,865.09h0.9v0.9h-0.9zM585.13,865.13h0.9v0.9h-0.9zM586.17,865.01h0.9v0.9h-0.9zM572.12,866.29h0.9v0.9h-0.9zM573.22,866.24h0.9v0.9h-0.9zM580.08,866.04h0.9v0.9h-0.9zM582.26,866.31h0.9v0.9h-0.9zM584.22,866.37h0.9v0.9h-0.9zM568.17,867.17h0.9v0.9h-0.9zM572.22,867.14h0.9v0.9h-0.9zM577.01,867.29h0.9v0.9h-0.9zM579.24,867.15h0.9v0.9h-0.9zM580.01,867.35h0.9v0.9h-0.9zM584.19,867.13h0.9v0.9h-0.9zM585.36,867.33h0.9v0.9h-0.9zM586.1,867.28h0.9v0.9h-0.9zM567.32,868.35h0.9v0.9h-0.9zM572.24,868.39h0.9v0.9h-0.9zM576.29,868.03h0.9v0.9h-0.9zM579.36,868.37h0.9v0.9h-0.9zM580.04,868.24h0.9v0.9h-0.9zM583.1,868.37h0.9v0.9h-0.9zM585.09,868.14h0.9v0.9h-0.9zM566.29,869.13h0.9v0.9h-0.9zM573.24,869.04h0.9v0.9h-0.9zM577.01,869.05h0.9v0.9h-0.9zM579.12,869.25h0.9v0.9h-0.9zM585.23,869.11h0.9v0.9h-0.9zM566.08,870.05h0.9v0.9h-0.9zM567.13,870.16h0.9v0.9h-0.9zM573.16,870.19h0.9v0.9h-0.9zM574.31,870.36h0.9v0.9h-0.9zM577.39,870.21h0.9v0.9h-0.9zM578.15,870.11h0.9v0.9h-0.9zM582.35,870.14h0.9v0.9h-0.9zM566,871.28h0.9v0.9h-0.9zM574.03,871.1h0.9v0.9h-0.9zM575.33,871.22h0.9v0.9h-0.9zM576.1,871.12h0.9v0.9h-0.9zM577.14,871.32h0.9v0.9h-0.9zM581.28,871.35h0.9v0.9h-0.9zM583.02,871.07h0.9v0.9h-0.9zM565.39,872.3h0.9v0.9h-0.9zM574.02,872.39h0.9v0.9h-0.9zM575.34,872.05h0.9v0.9h-0.9zM576.14,872.36h0.9v0.9h-0.9zM581.04,872.08h0.9v0.9h-0.9zM564.39,873.02h0.9v0.9h-0.9zM575.14,873.07h0.9v0.9h-0.9zM580.37,873.1h0.9v0.9h-0.9zM581.25,873.26h0.9v0.9h-0.9zM583.35,873.04h0.9v0.9h-0.9zM564.22,874.29h0.9v0.9h-0.9zM580.02,874.33h0.9v0.9h-0.9zM581.13,874.06h0.9v0.9h-0.9zM562.12,875.34h0.9v0.9h-0.9zM564.27,875.32h0.9v0.9h-0.9zM579.06,875.26h0.9v0.9h-0.9zM580.05,875.07h0.9v0.9h-0.9zM582.15,875.22h0.9v0.9h-0.9zM563.13,876.37h0.9v0.9h-0.9zM563.35,877.13h0.9v0.9h-0.9zM578.22,877.04h0.9v0.9h-0.9zM563.3,878.28h0.9v0.9h-0.9zM577.14,878.06h0.9v0.9h-0.9zM564.35,879.14h0.9v0.9h-0.9zM576.16,879.34h0.9v0.9h-0.9zM563.03,880.08h0.9v0.9h-0.9zM576.32,880.21h0.9v0.9h-0.9zM562.37,881.04h0.9v0.9h-0.9zM563.27,881.26h0.9v0.9h-0.9zM578,881.09h0.9v0.9h-0.9zM562.21,882.31h0.9v0.9h-0.9zM563.21,882.36h0.9v0.9h-0.9zM575.19,882.11h0.9v0.9h-0.9zM574.35,883.27h0.9v0.9h-0.9zM575.23,883.32h0.9v0.9h-0.9zM561.36,884.29h0.9v0.9h-0.9zM564.14,884.29h0.9v0.9h-0.9zM562.05,885.03h0.9v0.9h-0.9zM564.1,885.18h0.9v0.9h-0.9zM574.36,885.34h0.9v0.9h-0.9zM564.39,886.38h0.9v0.9h-0.9zM573.33,886.03h0.9v0.9h-0.9zM574.14,886.05h0.9v0.9h-0.9zM564.09,887.01h0.9v0.9h-0.9zM573.02,887.21h0.9v0.9h-0.9zM574.27,887.22h0.9v0.9h-0.9zM573.19,888.11h0.9v0.9h-0.9zM574.19,888.25h0.9v0.9h-0.9zM565,890.14h0.9v0.9h-0.9zM572.24,890.04h0.9v0.9h-0.9zM564.39,891.24h0.9v0.9h-0.9zM572.22,891.29h0.9v0.9h-0.9zM565.38,892.1h0.9v0.9h-0.9zM572.38,892.11h0.9v0.9h-0.9zM563.17,894.38h0.9v0.9h-0.9zM564.15,894.23h0.9v0.9h-0.9zM565.28,894.26h0.9v0.9h-0.9zM571.37,894.03h0.9v0.9h-0.9zM563.4,895.32h0.9v0.9h-0.9zM566.34,896.16h0.9v0.9h-0.9zM571.34,896.08h0.9v0.9h-0.9zM573.21,896.23h0.9v0.9h-0.9zM566.16,897.24h0.9v0.9h-0.9zM570,897.04h0.9v0.9h-0.9zM572.1,897.32h0.9v0.9h-0.9zM565,898.3h0.9v0.9h-0.9zM566.15,898.01h0.9v0.9h-0.9zM570.09,898.24h0.9v0.9h-0.9zM573.28,898.04h0.9v0.9h-0.9zM570.13,899.19h0.9v0.9h-0.9zM571.16,899.28h0.9v0.9h-0.9zM565.04,900.25h0.9v0.9h-0.9zM566.37,900.04h0.9v0.9h-0.9zM567.27,900.15h0.9v0.9h-0.9zM569.24,900.3h0.9v0.9h-0.9zM570.19,900.27h0.9v0.9h-0.9zM569.13,901.09h0.9v0.9h-0.9zM567.38,902.17h0.9v0.9h-0.9zM570.14,902.39h0.9v0.9h-0.9zM571.12,902.19h0.9v0.9h-0.9zM569.03,903.01h0.9v0.9h-0.9zM571.21,903.25h0.9v0.9h-0.9z"/></g>
<rect x="534.6" y="839.3" width="66.1" height="65.2" fill="none" stroke="#666" stroke-width="0.6"/>
<line x1="575.5" y1="839.3" x2="575.5" y2="904.5" stroke="#111" stroke-width="0.9"/>
<line x1="534.6" y1="867.2" x2="600.7" y2="867.2" stroke="#111" stroke-width="0.9"/>
<line x1="532.2" y1="901.5" x2="534.6" y2="901.5" stroke="#222" stroke-width="0.7"/>
<line x1="533.4" y1="899.39" x2="534.6" y2="899.39" stroke="#555" stroke-width="0.4"/>
<line x1="533.4" y1="897.27" x2="534.6" y2="897.27" stroke="#555" stroke-width="0.4"/>
<line x1="533.4" y1="895.16" x2="534.6" y2="895.16" stroke="#555" stroke-width="0.4"/>
<text x="531" y="902.5" font-size="2.8" font-weight="bold" text-anchor="end" fill="#222" stroke="#222" stroke-width="0.06">10<tspan font-size="2" dy="-1.2">0</tspan></text>
<line x1="532.2" y1="893.04" x2="534.6" y2="893.04" stroke="#222" stroke-width="0.7"/>
<line x1="533.4" y1="890.93" x2="534.6" y2="890.93" stroke="#555" stroke-width="0.4"/>
<line x1="533.4" y1="888.81" x2="534.6" y2="888.81" stroke="#555" stroke-width="0.4"/>
<line x1="533.4" y1="886.7" x2="534.6" y2="886.7" stroke="#555" stroke-width="0.4"/>
<text x="531" y="894.05" font-size="2.8" font-weight="bold" text-anchor="end" fill="#222" stroke="#222" stroke-width="0.06">10<tspan font-size="2" dy="-1.2">1</tspan></text>
<line x1="532.2" y1="884.59" x2="534.6" y2="884.59" stroke="#222" stroke-width="0.7"/>
<line x1="533.4" y1="882.47" x2="534.6" y2="882.47" stroke="#555" stroke-width="0.4"/>
<line x1="533.4" y1="880.36" x2="534.6" y2="880.36" stroke="#555" stroke-width="0.4"/>
<line x1="533.4" y1="878.24" x2="534.6" y2="878.24" stroke="#555" stroke-width="0.4"/>
<text x="531" y="885.59" font-size="2.8" font-weight="bold" text-anchor="end" fill="#222" stroke="#222" stroke-width="0.06">10<tspan font-size="2" dy="-1.2">2</tspan></text>
<line x1="532.2" y1="876.13" x2="534.6" y2="876.13" stroke="#222" stroke-width="0.7"/>
<line x1="533.4" y1="874.01" x2="534.6" y2="874.01" stroke="#555" stroke-width="0.4"/>
<line x1="533.4" y1="871.9" x2="534.6" y2="871.9" stroke="#555" stroke-width="0.4"/>
<line x1="533.4" y1="869.79" x2="534.6" y2="869.79" stroke="#555" stroke-width="0.4"/>
<text x="531" y="877.13" font-size="2.8" font-weight="bold" text-anchor="end" fill="#222" stroke="#222" stroke-width="0.06">10<tspan font-size="2" dy="-1.2">3</tspan></text>
<line x1="532.2" y1="867.67" x2="534.6" y2="867.67" stroke="#222" stroke-width="0.7"/>
<line x1="533.4" y1="865.56" x2="534.6" y2="865.56" stroke="#555" stroke-width="0.4"/>
<line x1="533.4" y1="863.44" x2="534.6" y2="863.44" stroke="#555" stroke-width="0.4"/>
<line x1="533.4" y1="861.33" x2="534.6" y2="861.33" stroke="#555" stroke-width="0.4"/>
<text x="531" y="868.67" font-size="2.8" font-weight="bold" text-anchor="end" fill="#222" stroke="#222" stroke-width="0.06">10<tspan font-size="2" dy="-1.2">4</tspan></text>
<line x1="532.2" y1="859.21" x2="534.6" y2="859.21" stroke="#222" stroke-width="0.7"/>
<line x1="533.4" y1="857.1" x2="534.6" y2="857.1" stroke="#555" stroke-width="0.4"/>
<line x1="533.4" y1="854.99" x2="534.6" y2="854.99" stroke="#555" stroke-width="0.4"/>
<line x1="533.4" y1="852.87" x2="534.6" y2="852.87" stroke="#555" stroke-width="0.4"/>
<text x="531" y="860.22" font-size="2.8" font-weight="bold" text-anchor="end" fill="#222" stroke="#222" stroke-width="0.06">10<tspan font-size="2" dy="-1.2">5</tspan></text>
<line x1="532.2" y1="850.76" x2="534.6" y2="850.76" stroke="#222" stroke-width="0.7"/>
<line x1="533.4" y1="848.64" x2="534.6" y2="848.64" stroke="#555" stroke-width="0.4"/>
<line x1="533.4" y1="846.53" x2="534.6" y2="846.53" stroke="#555" stroke-width="0.4"/>
<line x1="533.4" y1="844.41" x2="534.6" y2="844.41" stroke="#555" stroke-width="0.4"/>
<text x="531" y="851.76" font-size="2.8" font-weight="bold" text-anchor="end" fill="#222" stroke="#222" stroke-width="0.06">10<tspan font-size="2" dy="-1.2">6</tspan></text>
<line x1="532.2" y1="842.3" x2="534.6" y2="842.3" stroke="#222" stroke-width="0.7"/>
<line x1="533.4" y1="840.19" x2="534.6" y2="840.19" stroke="#555" stroke-width="0.4"/>
<line x1="533.4" y1="838.07" x2="534.6" y2="838.07" stroke="#555" stroke-width="0.4"/>
<line x1="533.4" y1="835.96" x2="534.6" y2="835.96" stroke="#555" stroke-width="0.4"/>
<text x="531" y="843.3" font-size="2.8" font-weight="bold" text-anchor="end" fill="#222" stroke="#222" stroke-width="0.06">10<tspan font-size="2" dy="-1.2">7</tspan></text>
<line x1="537.6" y1="904.5" x2="537.6" y2="906.9" stroke="#222" stroke-width="0.7"/>
<line x1="540.29" y1="904.5" x2="540.29" y2="905.7" stroke="#555" stroke-width="0.4"/>
<line x1="542.98" y1="904.5" x2="542.98" y2="905.7" stroke="#555" stroke-width="0.4"/>
<line x1="545.67" y1="904.5" x2="545.67" y2="905.7" stroke="#555" stroke-width="0.4"/>
<line x1="548.36" y1="904.5" x2="548.36" y2="905.7" stroke="#555" stroke-width="0.4"/>
<line x1="551.05" y1="904.5" x2="551.05" y2="905.7" stroke="#555" stroke-width="0.4"/>
<text x="537.6" y="911.1" font-size="2.8" font-weight="bold" text-anchor="middle" fill="#222" stroke="#222" stroke-width="0.06">10<tspan font-size="2" dy="-1.2">0</tspan></text>
<line x1="553.74" y1="904.5" x2="553.74" y2="906.9" stroke="#222" stroke-width="0.7"/>
<line x1="556.43" y1="904.5" x2="556.43" y2="905.7" stroke="#555" stroke-width="0.4"/>
<line x1="559.12" y1="904.5" x2="559.12" y2="905.7" stroke="#555" stroke-width="0.4"/>
<line x1="561.81" y1="904.5" x2="561.81" y2="905.7" stroke="#555" stroke-width="0.4"/>
<line x1="564.5" y1="904.5" x2="564.5" y2="905.7" stroke="#555" stroke-width="0.4"/>
<line x1="567.19" y1="904.5" x2="567.19" y2="905.7" stroke="#555" stroke-width="0.4"/>
<text x="553.74" y="911.1" font-size="2.8" font-weight="bold" text-anchor="middle" fill="#222" stroke="#222" stroke-width="0.06">10<tspan font-size="2" dy="-1.2">1</tspan></text>
<line x1="569.88" y1="904.5" x2="569.88" y2="906.9" stroke="#222" stroke-width="0.7"/>
<line x1="572.57" y1="904.5" x2="572.57" y2="905.7" stroke="#555" stroke-width="0.4"/>
<line x1="575.26" y1="904.5" x2="575.26" y2="905.7" stroke="#555" stroke-width="0.4"/>
<line x1="577.95" y1="904.5" x2="577.95" y2="905.7" stroke="#555" stroke-width="0.4"/>
<line x1="580.64" y1="904.5" x2="580.64" y2="905.7" stroke="#555" stroke-width="0.4"/>
<line x1="583.33" y1="904.5" x2="583.33" y2="905.7" stroke="#555" stroke-width="0.4"/>
<text x="569.88" y="911.1" font-size="2.8" font-weight="bold" text-anchor="middle" fill="#222" stroke="#222" stroke-width="0.06">10<tspan font-size="2" dy="-1.2">2</tspan></text>
<line x1="586.02" y1="904.5" x2="586.02" y2="906.9" stroke="#222" stroke-width="0.7"/>
<line x1="588.71" y1="904.5" x2="588.71" y2="905.7" stroke="#555" stroke-width="0.4"/>
<line x1="591.4" y1="904.5" x2="591.4" y2="905.7" stroke="#555" stroke-width="0.4"/>
<line x1="594.09" y1="904.5" x2="594.09" y2="905.7" stroke="#555" stroke-width="0.4"/>
<line x1="596.78" y1="904.5" x2="596.78" y2="905.7" stroke="#555" stroke-width="0.4"/>
<line x1="599.47" y1="904.5" x2="599.47" y2="905.7" stroke="#555" stroke-width="0.4"/>
<text x="586.02" y="911.1" font-size="2.8" font-weight="bold" text-anchor="middle" fill="#222" stroke="#222" stroke-width="0.06">10<tspan font-size="2" dy="-1.2">3</tspan></text>
<text x="536.6" y="844.97" font-size="3" font-weight="bold" stroke="#000" stroke-width="0.07">Q1</text>
<text x="536.6" y="849.17" font-size="3" font-weight="bold" stroke="#000" stroke-width="0.07">2.49</text>
<text x="598.7" y="844.97" font-size="3" font-weight="bold" text-anchor="end" stroke="#000" stroke-width="0.07">Q2</text>
<text x="598.7" y="849.17" font-size="3" font-weight="bold" text-anchor="end" stroke="#000" stroke-width="0.07">1.63</text>
<text x="536.6" y="897.17" font-size="3" font-weight="bold" stroke="#000" stroke-width="0.07">Q4</text>
<text x="536.6" y="901.37" font-size="3" font-weight="bold" stroke="#000" stroke-width="0.07">94.0</text>
<text x="598.7" y="897.17" font-size="3" font-weight="bold" text-anchor="end" stroke="#000" stroke-width="0.07">Q3</text>
<text x="598.7" y="901.37" font-size="3" font-weight="bold" text-anchor="end" stroke="#000" stroke-width="0.07">1.28</text>
<text x="566.2" y="837.07" font-size="9.4" text-anchor="middle" stroke="#000" stroke-width="0.08">siLIMP-2</text>
<line x1="442.2" y1="754" x2="442.2" y2="906" stroke="#000" stroke-width="1.3"/>
<path d="M442.2,749.7 L444.6,755.6 L439.8,755.6 Z" fill="#000"/>
<line x1="454.1" y1="916.7" x2="598" y2="916.7" stroke="#000" stroke-width="1.3"/>
<path d="M602.4,916.7 L596.4,914.3 L596.4,919.1 Z" fill="#000"/>
<text transform="translate(439.01,832.6) rotate(-90)" font-size="9.8" stroke="#000" stroke-width="0.09">PI</text>
<text x="527.4" y="925.3" font-size="9.2" text-anchor="middle" stroke="#000" stroke-width="0.08">FITC-Annexin V</text>
<line x1="620.5" y1="836.48" x2="620.5" y2="900.4" stroke="#000" stroke-width="1"/>
<line x1="620.5" y1="900.4" x2="685" y2="900.4" stroke="#000" stroke-width="1"/>
<line x1="618.2" y1="900.4" x2="620.5" y2="900.4" stroke="#000" stroke-width="0.9"/>
<text x="617.6" y="901.9" font-size="4.2" font-weight="bold" text-anchor="end" stroke="#000" stroke-width="0.09">0</text>
<line x1="618.2" y1="884.42" x2="620.5" y2="884.42" stroke="#000" stroke-width="0.9"/>
<text x="617.6" y="885.92" font-size="4.2" font-weight="bold" text-anchor="end" stroke="#000" stroke-width="0.09">10</text>
<line x1="618.2" y1="868.44" x2="620.5" y2="868.44" stroke="#000" stroke-width="0.9"/>
<text x="617.6" y="869.94" font-size="4.2" font-weight="bold" text-anchor="end" stroke="#000" stroke-width="0.09">20</text>
<line x1="618.2" y1="852.46" x2="620.5" y2="852.46" stroke="#000" stroke-width="0.9"/>
<text x="617.6" y="853.96" font-size="4.2" font-weight="bold" text-anchor="end" stroke="#000" stroke-width="0.09">30</text>
<line x1="618.2" y1="836.48" x2="620.5" y2="836.48" stroke="#000" stroke-width="0.9"/>
<text x="617.6" y="837.98" font-size="4.2" font-weight="bold" text-anchor="end" stroke="#000" stroke-width="0.09">40</text>
<rect x="625.2" y="896.09" width="7.3" height="4.31" fill="#fff" stroke="#000" stroke-width="1"/>
<line x1="628.85" y1="894.89" x2="628.85" y2="896.59" stroke="#000" stroke-width="0.8"/>
<line x1="627.25" y1="894.89" x2="630.45" y2="894.89" stroke="#000" stroke-width="0.8"/>
<circle cx="627.05" cy="895.43" r="0.75" fill="#000"/>
<circle cx="628.85" cy="896.21" r="0.75" fill="#000"/>
<circle cx="630.65" cy="895.68" r="0.75" fill="#000"/>
<rect x="637.2" y="896.09" width="7.3" height="4.31" fill="#fff" stroke="#000" stroke-width="1"/>
<line x1="640.85" y1="894.89" x2="640.85" y2="896.59" stroke="#000" stroke-width="0.8"/>
<line x1="639.25" y1="894.89" x2="642.45" y2="894.89" stroke="#000" stroke-width="0.8"/>
<circle cx="639.05" cy="896.34" r="0.75" fill="#000"/>
<circle cx="640.85" cy="895.61" r="0.75" fill="#000"/>
<circle cx="642.65" cy="895.93" r="0.75" fill="#000"/>
<rect x="649.1" y="848.62" width="7.3" height="51.78" fill="#fff" stroke="#000" stroke-width="1"/>
<line x1="652.75" y1="847.42" x2="652.75" y2="849.12" stroke="#000" stroke-width="0.8"/>
<line x1="651.15" y1="847.42" x2="654.35" y2="847.42" stroke="#000" stroke-width="0.8"/>
<circle cx="650.95" cy="848.38" r="0.75" fill="#000"/>
<circle cx="652.75" cy="848.04" r="0.75" fill="#000"/>
<circle cx="654.55" cy="848.66" r="0.75" fill="#000"/>
<rect x="661.2" y="896.56" width="7.3" height="3.84" fill="#fff" stroke="#000" stroke-width="1"/>
<line x1="664.85" y1="895.36" x2="664.85" y2="897.06" stroke="#000" stroke-width="0.8"/>
<line x1="663.25" y1="895.36" x2="666.45" y2="895.36" stroke="#000" stroke-width="0.8"/>
<circle cx="663.05" cy="895.67" r="0.75" fill="#000"/>
<circle cx="664.85" cy="895.96" r="0.75" fill="#000"/>
<circle cx="666.65" cy="896.05" r="0.75" fill="#000"/>
<rect x="673.05" y="895.77" width="7.3" height="4.63" fill="#fff" stroke="#000" stroke-width="1"/>
<line x1="676.7" y1="894.57" x2="676.7" y2="896.27" stroke="#000" stroke-width="0.8"/>
<line x1="675.1" y1="894.57" x2="678.3" y2="894.57" stroke="#000" stroke-width="0.8"/>
<circle cx="674.9" cy="895.92" r="0.75" fill="#000"/>
<circle cx="676.7" cy="895.47" r="0.75" fill="#000"/>
<circle cx="678.5" cy="894.91" r="0.75" fill="#000"/>
<line x1="652.75" y1="845.12" x2="652.75" y2="848.62" stroke="#000" stroke-width="0.8"/>
<line x1="651" y1="845.12" x2="654.5" y2="845.12" stroke="#000" stroke-width="0.8"/>
<polyline points="628.3,842.2 628.3,840.3 653.1,840.3 653.1,842.2" fill="none" stroke="#000" stroke-width="0.8"/>
<text x="640.5" y="840.91" font-size="4.4" text-anchor="middle" stroke="#000" stroke-width="0.1">***</text>
<text transform="translate(609.3,901.7) rotate(-90)" font-size="5.3" font-weight="bold" stroke="#000" stroke-width="0.12">% of apoptosis (Annexin V)</text>
<text transform="translate(630.54,904.2) rotate(-90)" font-size="4.3" font-weight="bold" text-anchor="end" stroke="#000" stroke-width="0.09">DMSO</text>
<text transform="translate(642.54,904.2) rotate(-90)" font-size="4.3" font-weight="bold" text-anchor="end" stroke="#000" stroke-width="0.09">5 µM</text>
<text transform="translate(654.54,904.2) rotate(-90)" font-size="4.3" font-weight="bold" text-anchor="end" stroke="#000" stroke-width="0.09">15 µM</text>
<text transform="translate(666.54,904.2) rotate(-90)" font-size="4.3" font-weight="bold" text-anchor="end" stroke="#000" stroke-width="0.09">siControl</text>
<text transform="translate(678.54,904.2) rotate(-90)" font-size="4.3" font-weight="bold" text-anchor="end" stroke="#000" stroke-width="0.09">siLIMP-2</text>
<line x1="640" y1="919.3" x2="654.6" y2="919.3" stroke="#000" stroke-width="0.8"/>
<text x="647.3" y="925.21" font-size="4.5" font-weight="bold" text-anchor="middle" stroke="#000" stroke-width="0.1">Tet</text></svg>
</body></html>
